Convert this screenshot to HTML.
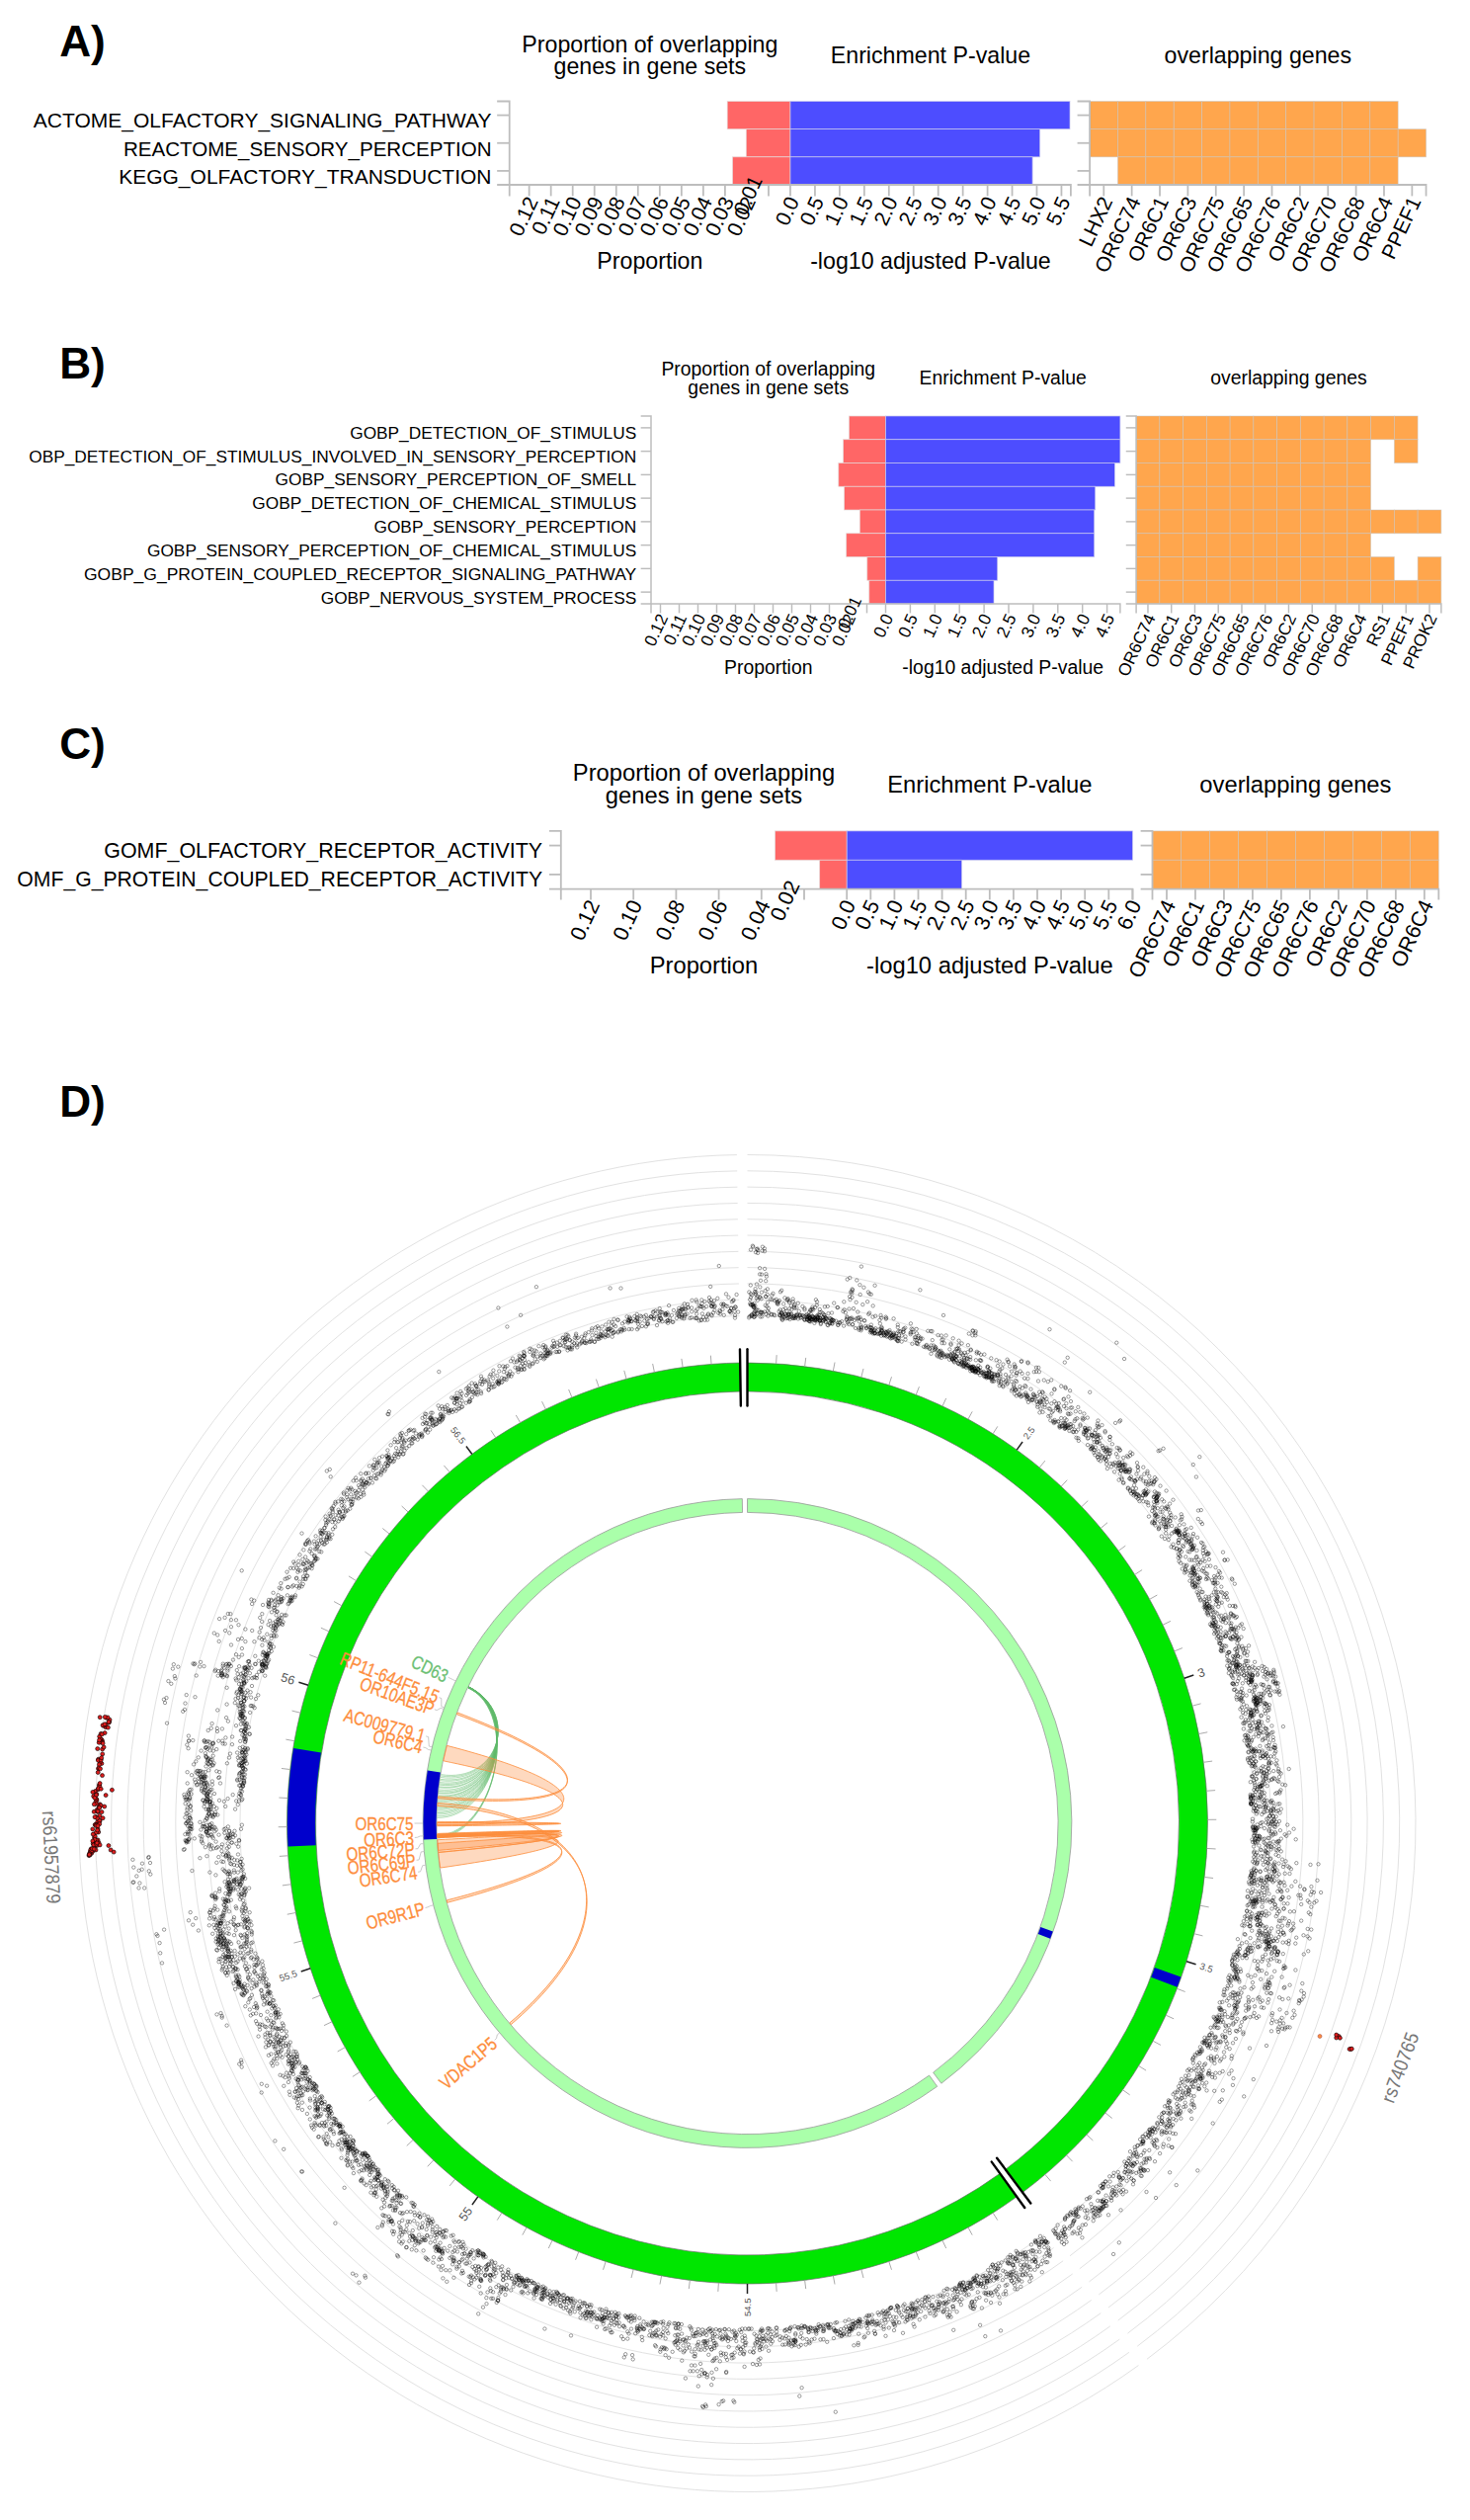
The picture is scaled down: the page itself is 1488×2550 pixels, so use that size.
<!DOCTYPE html>
<html><head><meta charset="utf-8"><title>Figure</title>
<style>
html,body{margin:0;padding:0;background:#fff}
svg{display:block}
text{font-family:"Liberation Sans",sans-serif}
</style></head><body>
<svg width="1488" height="2550" viewBox="0 0 1488 2550">
<rect width="1488" height="2550" fill="#fff"/>
<rect x="736.2" y="102.5" width="63.8" height="28.17" fill="#ff6666" stroke="#e6d6d6" stroke-width="0.7"/>
<rect x="800" y="102.5" width="283" height="28.17" fill="#4d4dff" stroke="#c6c6ee" stroke-width="0.7"/>
<rect x="755.3" y="130.67" width="44.7" height="28.17" fill="#ff6666" stroke="#e6d6d6" stroke-width="0.7"/>
<rect x="800" y="130.67" width="252.7" height="28.17" fill="#4d4dff" stroke="#c6c6ee" stroke-width="0.7"/>
<rect x="741.6" y="158.83" width="58.4" height="28.17" fill="#ff6666" stroke="#e6d6d6" stroke-width="0.7"/>
<rect x="800" y="158.83" width="245.1" height="28.17" fill="#4d4dff" stroke="#c6c6ee" stroke-width="0.7"/>
<rect x="1103.1" y="102.5" width="28.37" height="28.17" fill="#ffa64d" stroke="#c4c4c4" stroke-opacity="0.6" stroke-width="0.8"/>
<rect x="1131.47" y="102.5" width="28.37" height="28.17" fill="#ffa64d" stroke="#c4c4c4" stroke-opacity="0.6" stroke-width="0.8"/>
<rect x="1159.84" y="102.5" width="28.37" height="28.17" fill="#ffa64d" stroke="#c4c4c4" stroke-opacity="0.6" stroke-width="0.8"/>
<rect x="1188.21" y="102.5" width="28.37" height="28.17" fill="#ffa64d" stroke="#c4c4c4" stroke-opacity="0.6" stroke-width="0.8"/>
<rect x="1216.58" y="102.5" width="28.37" height="28.17" fill="#ffa64d" stroke="#c4c4c4" stroke-opacity="0.6" stroke-width="0.8"/>
<rect x="1244.95" y="102.5" width="28.37" height="28.17" fill="#ffa64d" stroke="#c4c4c4" stroke-opacity="0.6" stroke-width="0.8"/>
<rect x="1273.32" y="102.5" width="28.37" height="28.17" fill="#ffa64d" stroke="#c4c4c4" stroke-opacity="0.6" stroke-width="0.8"/>
<rect x="1301.69" y="102.5" width="28.37" height="28.17" fill="#ffa64d" stroke="#c4c4c4" stroke-opacity="0.6" stroke-width="0.8"/>
<rect x="1330.06" y="102.5" width="28.37" height="28.17" fill="#ffa64d" stroke="#c4c4c4" stroke-opacity="0.6" stroke-width="0.8"/>
<rect x="1358.43" y="102.5" width="28.37" height="28.17" fill="#ffa64d" stroke="#c4c4c4" stroke-opacity="0.6" stroke-width="0.8"/>
<rect x="1386.8" y="102.5" width="28.37" height="28.17" fill="#ffa64d" stroke="#c4c4c4" stroke-opacity="0.6" stroke-width="0.8"/>
<rect x="1103.1" y="130.67" width="28.37" height="28.17" fill="#ffa64d" stroke="#c4c4c4" stroke-opacity="0.6" stroke-width="0.8"/>
<rect x="1131.47" y="130.67" width="28.37" height="28.17" fill="#ffa64d" stroke="#c4c4c4" stroke-opacity="0.6" stroke-width="0.8"/>
<rect x="1159.84" y="130.67" width="28.37" height="28.17" fill="#ffa64d" stroke="#c4c4c4" stroke-opacity="0.6" stroke-width="0.8"/>
<rect x="1188.21" y="130.67" width="28.37" height="28.17" fill="#ffa64d" stroke="#c4c4c4" stroke-opacity="0.6" stroke-width="0.8"/>
<rect x="1216.58" y="130.67" width="28.37" height="28.17" fill="#ffa64d" stroke="#c4c4c4" stroke-opacity="0.6" stroke-width="0.8"/>
<rect x="1244.95" y="130.67" width="28.37" height="28.17" fill="#ffa64d" stroke="#c4c4c4" stroke-opacity="0.6" stroke-width="0.8"/>
<rect x="1273.32" y="130.67" width="28.37" height="28.17" fill="#ffa64d" stroke="#c4c4c4" stroke-opacity="0.6" stroke-width="0.8"/>
<rect x="1301.69" y="130.67" width="28.37" height="28.17" fill="#ffa64d" stroke="#c4c4c4" stroke-opacity="0.6" stroke-width="0.8"/>
<rect x="1330.06" y="130.67" width="28.37" height="28.17" fill="#ffa64d" stroke="#c4c4c4" stroke-opacity="0.6" stroke-width="0.8"/>
<rect x="1358.43" y="130.67" width="28.37" height="28.17" fill="#ffa64d" stroke="#c4c4c4" stroke-opacity="0.6" stroke-width="0.8"/>
<rect x="1386.8" y="130.67" width="28.37" height="28.17" fill="#ffa64d" stroke="#c4c4c4" stroke-opacity="0.6" stroke-width="0.8"/>
<rect x="1415.17" y="130.67" width="28.37" height="28.17" fill="#ffa64d" stroke="#c4c4c4" stroke-opacity="0.6" stroke-width="0.8"/>
<rect x="1131.47" y="158.83" width="28.37" height="28.17" fill="#ffa64d" stroke="#c4c4c4" stroke-opacity="0.6" stroke-width="0.8"/>
<rect x="1159.84" y="158.83" width="28.37" height="28.17" fill="#ffa64d" stroke="#c4c4c4" stroke-opacity="0.6" stroke-width="0.8"/>
<rect x="1188.21" y="158.83" width="28.37" height="28.17" fill="#ffa64d" stroke="#c4c4c4" stroke-opacity="0.6" stroke-width="0.8"/>
<rect x="1216.58" y="158.83" width="28.37" height="28.17" fill="#ffa64d" stroke="#c4c4c4" stroke-opacity="0.6" stroke-width="0.8"/>
<rect x="1244.95" y="158.83" width="28.37" height="28.17" fill="#ffa64d" stroke="#c4c4c4" stroke-opacity="0.6" stroke-width="0.8"/>
<rect x="1273.32" y="158.83" width="28.37" height="28.17" fill="#ffa64d" stroke="#c4c4c4" stroke-opacity="0.6" stroke-width="0.8"/>
<rect x="1301.69" y="158.83" width="28.37" height="28.17" fill="#ffa64d" stroke="#c4c4c4" stroke-opacity="0.6" stroke-width="0.8"/>
<rect x="1330.06" y="158.83" width="28.37" height="28.17" fill="#ffa64d" stroke="#c4c4c4" stroke-opacity="0.6" stroke-width="0.8"/>
<rect x="1358.43" y="158.83" width="28.37" height="28.17" fill="#ffa64d" stroke="#c4c4c4" stroke-opacity="0.6" stroke-width="0.8"/>
<rect x="1386.8" y="158.83" width="28.37" height="28.17" fill="#ffa64d" stroke="#c4c4c4" stroke-opacity="0.6" stroke-width="0.8"/>
<g fill="none" stroke="#bdbdbd" stroke-width="1.77">
<path d="M503.16 102.5H515.7V187H503.16"/>
<path d="M503.16 116.58H515.7"/>
<path d="M503.16 144.75H515.7"/>
<path d="M503.16 172.92H515.7"/>
<path d="M515.7 198.4V187H1083.9V198.4"/>
<path d="M535.64 187V198.4"/>
<path d="M557.67 187V198.4"/>
<path d="M579.7 187V198.4"/>
<path d="M601.73 187V198.4"/>
<path d="M623.76 187V198.4"/>
<path d="M645.79 187V198.4"/>
<path d="M667.82 187V198.4"/>
<path d="M689.85 187V198.4"/>
<path d="M711.88 187V198.4"/>
<path d="M733.91 187V198.4"/>
<path d="M777.97 187V198.4"/>
<path d="M800 187V198.4"/>
<path d="M824.95 187V198.4"/>
<path d="M849.9 187V198.4"/>
<path d="M874.85 187V198.4"/>
<path d="M899.8 187V198.4"/>
<path d="M924.75 187V198.4"/>
<path d="M949.7 187V198.4"/>
<path d="M974.65 187V198.4"/>
<path d="M999.6 187V198.4"/>
<path d="M1024.55 187V198.4"/>
<path d="M1049.5 187V198.4"/>
<path d="M1074.45 187V198.4"/>
<path d="M1090.56 102.5H1103.1V187H1090.56"/>
<path d="M1090.56 116.58H1103.1"/>
<path d="M1090.56 144.75H1103.1"/>
<path d="M1090.56 172.92H1103.1"/>
<path d="M1103.1 198.4V187H1443.54V198.4"/>
<path d="M1117.28 187V198.4"/>
<path d="M1145.65 187V198.4"/>
<path d="M1174.02 187V198.4"/>
<path d="M1202.39 187V198.4"/>
<path d="M1230.76 187V198.4"/>
<path d="M1259.13 187V198.4"/>
<path d="M1287.5 187V198.4"/>
<path d="M1315.88 187V198.4"/>
<path d="M1344.24 187V198.4"/>
<path d="M1372.61 187V198.4"/>
<path d="M1400.98 187V198.4"/>
<path d="M1429.36 187V198.4"/>
</g>
<text transform="translate(545.14,203.4) rotate(-65)" font-size="21" text-anchor="end">0.12</text>
<text transform="translate(567.17,203.4) rotate(-65)" font-size="21" text-anchor="end">0.11</text>
<text transform="translate(589.2,203.4) rotate(-65)" font-size="21" text-anchor="end">0.10</text>
<text transform="translate(611.23,203.4) rotate(-65)" font-size="21" text-anchor="end">0.09</text>
<text transform="translate(633.26,203.4) rotate(-65)" font-size="21" text-anchor="end">0.08</text>
<text transform="translate(655.29,203.4) rotate(-65)" font-size="21" text-anchor="end">0.07</text>
<text transform="translate(677.32,203.4) rotate(-65)" font-size="21" text-anchor="end">0.06</text>
<text transform="translate(699.35,203.4) rotate(-65)" font-size="21" text-anchor="end">0.05</text>
<text transform="translate(721.38,203.4) rotate(-65)" font-size="21" text-anchor="end">0.04</text>
<text transform="translate(743.41,203.4) rotate(-65)" font-size="21" text-anchor="end">0.03</text>
<text transform="translate(765.44,203.4) rotate(-65)" font-size="21" text-anchor="end">0.02</text>
<text transform="translate(772.27,182.2) rotate(-65)" font-size="21" text-anchor="end">0.01</text>
<text transform="translate(809.5,203.4) rotate(-65)" font-size="21" text-anchor="end">0.0</text>
<text transform="translate(834.45,203.4) rotate(-65)" font-size="21" text-anchor="end">0.5</text>
<text transform="translate(859.4,203.4) rotate(-65)" font-size="21" text-anchor="end">1.0</text>
<text transform="translate(884.35,203.4) rotate(-65)" font-size="21" text-anchor="end">1.5</text>
<text transform="translate(909.3,203.4) rotate(-65)" font-size="21" text-anchor="end">2.0</text>
<text transform="translate(934.25,203.4) rotate(-65)" font-size="21" text-anchor="end">2.5</text>
<text transform="translate(959.2,203.4) rotate(-65)" font-size="21" text-anchor="end">3.0</text>
<text transform="translate(984.15,203.4) rotate(-65)" font-size="21" text-anchor="end">3.5</text>
<text transform="translate(1009.1,203.4) rotate(-65)" font-size="21" text-anchor="end">4.0</text>
<text transform="translate(1034.05,203.4) rotate(-65)" font-size="21" text-anchor="end">4.5</text>
<text transform="translate(1059,203.4) rotate(-65)" font-size="21" text-anchor="end">5.0</text>
<text transform="translate(1083.95,203.4) rotate(-65)" font-size="21" text-anchor="end">5.5</text>
<text transform="translate(1126.78,203.4) rotate(-65)" font-size="21" text-anchor="end">LHX2</text>
<text transform="translate(1155.15,203.4) rotate(-65)" font-size="21" text-anchor="end">OR6C74</text>
<text transform="translate(1183.52,203.4) rotate(-65)" font-size="21" text-anchor="end">OR6C1</text>
<text transform="translate(1211.89,203.4) rotate(-65)" font-size="21" text-anchor="end">OR6C3</text>
<text transform="translate(1240.26,203.4) rotate(-65)" font-size="21" text-anchor="end">OR6C75</text>
<text transform="translate(1268.63,203.4) rotate(-65)" font-size="21" text-anchor="end">OR6C65</text>
<text transform="translate(1297,203.4) rotate(-65)" font-size="21" text-anchor="end">OR6C76</text>
<text transform="translate(1325.38,203.4) rotate(-65)" font-size="21" text-anchor="end">OR6C2</text>
<text transform="translate(1353.74,203.4) rotate(-65)" font-size="21" text-anchor="end">OR6C70</text>
<text transform="translate(1382.11,203.4) rotate(-65)" font-size="21" text-anchor="end">OR6C68</text>
<text transform="translate(1410.48,203.4) rotate(-65)" font-size="21" text-anchor="end">OR6C4</text>
<text transform="translate(1438.86,203.4) rotate(-65)" font-size="21" text-anchor="end">PPEF1</text>
<text x="497.5" y="129.2" font-size="21" text-anchor="end">ACTOME_OLFACTORY_SIGNALING_PATHWAY</text>
<text x="497.5" y="157.5" font-size="21" text-anchor="end" textLength="372.5" lengthAdjust="spacingAndGlyphs">REACTOME_SENSORY_PERCEPTION</text>
<text x="497.5" y="185.8" font-size="21" text-anchor="end">KEGG_OLFACTORY_TRANSDUCTION</text>
<text x="657.85" y="53" font-size="23.2" text-anchor="middle">Proportion of overlapping</text>
<text x="657.85" y="75" font-size="23.2" text-anchor="middle">genes in gene sets</text>
<text x="941.95" y="63.8" font-size="23.2" text-anchor="middle">Enrichment P-value</text>
<text x="1273.32" y="63.8" font-size="23.2" text-anchor="middle">overlapping genes</text>
<text x="657.85" y="272" font-size="23.2" text-anchor="middle">Proportion</text>
<text x="941.95" y="272" font-size="23.2" text-anchor="middle">-log10 adjusted P-value</text>
<rect x="859.4" y="421" width="37.1" height="23.75" fill="#ff6666" stroke="#e6d6d6" stroke-width="0.7"/>
<rect x="896.5" y="421" width="237.4" height="23.75" fill="#4d4dff" stroke="#c6c6ee" stroke-width="0.7"/>
<rect x="853.6" y="444.75" width="42.9" height="23.75" fill="#ff6666" stroke="#e6d6d6" stroke-width="0.7"/>
<rect x="896.5" y="444.75" width="237.4" height="23.75" fill="#4d4dff" stroke="#c6c6ee" stroke-width="0.7"/>
<rect x="848.8" y="468.5" width="47.7" height="23.75" fill="#ff6666" stroke="#e6d6d6" stroke-width="0.7"/>
<rect x="896.5" y="468.5" width="231.9" height="23.75" fill="#4d4dff" stroke="#c6c6ee" stroke-width="0.7"/>
<rect x="854.6" y="492.25" width="41.9" height="23.75" fill="#ff6666" stroke="#e6d6d6" stroke-width="0.7"/>
<rect x="896.5" y="492.25" width="212.2" height="23.75" fill="#4d4dff" stroke="#c6c6ee" stroke-width="0.7"/>
<rect x="870.3" y="516" width="26.2" height="23.75" fill="#ff6666" stroke="#e6d6d6" stroke-width="0.7"/>
<rect x="896.5" y="516" width="211.2" height="23.75" fill="#4d4dff" stroke="#c6c6ee" stroke-width="0.7"/>
<rect x="856.7" y="539.75" width="39.8" height="23.75" fill="#ff6666" stroke="#e6d6d6" stroke-width="0.7"/>
<rect x="896.5" y="539.75" width="211.2" height="23.75" fill="#4d4dff" stroke="#c6c6ee" stroke-width="0.7"/>
<rect x="877.8" y="563.5" width="18.7" height="23.75" fill="#ff6666" stroke="#e6d6d6" stroke-width="0.7"/>
<rect x="896.5" y="563.5" width="113.2" height="23.75" fill="#4d4dff" stroke="#c6c6ee" stroke-width="0.7"/>
<rect x="879.8" y="587.25" width="16.7" height="23.75" fill="#ff6666" stroke="#e6d6d6" stroke-width="0.7"/>
<rect x="896.5" y="587.25" width="109.5" height="23.75" fill="#4d4dff" stroke="#c6c6ee" stroke-width="0.7"/>
<rect x="1150.1" y="421" width="23.75" height="23.75" fill="#ffa64d" stroke="#c4c4c4" stroke-opacity="0.6" stroke-width="0.8"/>
<rect x="1173.85" y="421" width="23.75" height="23.75" fill="#ffa64d" stroke="#c4c4c4" stroke-opacity="0.6" stroke-width="0.8"/>
<rect x="1197.6" y="421" width="23.75" height="23.75" fill="#ffa64d" stroke="#c4c4c4" stroke-opacity="0.6" stroke-width="0.8"/>
<rect x="1221.35" y="421" width="23.75" height="23.75" fill="#ffa64d" stroke="#c4c4c4" stroke-opacity="0.6" stroke-width="0.8"/>
<rect x="1245.1" y="421" width="23.75" height="23.75" fill="#ffa64d" stroke="#c4c4c4" stroke-opacity="0.6" stroke-width="0.8"/>
<rect x="1268.85" y="421" width="23.75" height="23.75" fill="#ffa64d" stroke="#c4c4c4" stroke-opacity="0.6" stroke-width="0.8"/>
<rect x="1292.6" y="421" width="23.75" height="23.75" fill="#ffa64d" stroke="#c4c4c4" stroke-opacity="0.6" stroke-width="0.8"/>
<rect x="1316.35" y="421" width="23.75" height="23.75" fill="#ffa64d" stroke="#c4c4c4" stroke-opacity="0.6" stroke-width="0.8"/>
<rect x="1340.1" y="421" width="23.75" height="23.75" fill="#ffa64d" stroke="#c4c4c4" stroke-opacity="0.6" stroke-width="0.8"/>
<rect x="1363.85" y="421" width="23.75" height="23.75" fill="#ffa64d" stroke="#c4c4c4" stroke-opacity="0.6" stroke-width="0.8"/>
<rect x="1387.6" y="421" width="23.75" height="23.75" fill="#ffa64d" stroke="#c4c4c4" stroke-opacity="0.6" stroke-width="0.8"/>
<rect x="1411.35" y="421" width="23.75" height="23.75" fill="#ffa64d" stroke="#c4c4c4" stroke-opacity="0.6" stroke-width="0.8"/>
<rect x="1150.1" y="444.75" width="23.75" height="23.75" fill="#ffa64d" stroke="#c4c4c4" stroke-opacity="0.6" stroke-width="0.8"/>
<rect x="1173.85" y="444.75" width="23.75" height="23.75" fill="#ffa64d" stroke="#c4c4c4" stroke-opacity="0.6" stroke-width="0.8"/>
<rect x="1197.6" y="444.75" width="23.75" height="23.75" fill="#ffa64d" stroke="#c4c4c4" stroke-opacity="0.6" stroke-width="0.8"/>
<rect x="1221.35" y="444.75" width="23.75" height="23.75" fill="#ffa64d" stroke="#c4c4c4" stroke-opacity="0.6" stroke-width="0.8"/>
<rect x="1245.1" y="444.75" width="23.75" height="23.75" fill="#ffa64d" stroke="#c4c4c4" stroke-opacity="0.6" stroke-width="0.8"/>
<rect x="1268.85" y="444.75" width="23.75" height="23.75" fill="#ffa64d" stroke="#c4c4c4" stroke-opacity="0.6" stroke-width="0.8"/>
<rect x="1292.6" y="444.75" width="23.75" height="23.75" fill="#ffa64d" stroke="#c4c4c4" stroke-opacity="0.6" stroke-width="0.8"/>
<rect x="1316.35" y="444.75" width="23.75" height="23.75" fill="#ffa64d" stroke="#c4c4c4" stroke-opacity="0.6" stroke-width="0.8"/>
<rect x="1340.1" y="444.75" width="23.75" height="23.75" fill="#ffa64d" stroke="#c4c4c4" stroke-opacity="0.6" stroke-width="0.8"/>
<rect x="1363.85" y="444.75" width="23.75" height="23.75" fill="#ffa64d" stroke="#c4c4c4" stroke-opacity="0.6" stroke-width="0.8"/>
<rect x="1411.35" y="444.75" width="23.75" height="23.75" fill="#ffa64d" stroke="#c4c4c4" stroke-opacity="0.6" stroke-width="0.8"/>
<rect x="1150.1" y="468.5" width="23.75" height="23.75" fill="#ffa64d" stroke="#c4c4c4" stroke-opacity="0.6" stroke-width="0.8"/>
<rect x="1173.85" y="468.5" width="23.75" height="23.75" fill="#ffa64d" stroke="#c4c4c4" stroke-opacity="0.6" stroke-width="0.8"/>
<rect x="1197.6" y="468.5" width="23.75" height="23.75" fill="#ffa64d" stroke="#c4c4c4" stroke-opacity="0.6" stroke-width="0.8"/>
<rect x="1221.35" y="468.5" width="23.75" height="23.75" fill="#ffa64d" stroke="#c4c4c4" stroke-opacity="0.6" stroke-width="0.8"/>
<rect x="1245.1" y="468.5" width="23.75" height="23.75" fill="#ffa64d" stroke="#c4c4c4" stroke-opacity="0.6" stroke-width="0.8"/>
<rect x="1268.85" y="468.5" width="23.75" height="23.75" fill="#ffa64d" stroke="#c4c4c4" stroke-opacity="0.6" stroke-width="0.8"/>
<rect x="1292.6" y="468.5" width="23.75" height="23.75" fill="#ffa64d" stroke="#c4c4c4" stroke-opacity="0.6" stroke-width="0.8"/>
<rect x="1316.35" y="468.5" width="23.75" height="23.75" fill="#ffa64d" stroke="#c4c4c4" stroke-opacity="0.6" stroke-width="0.8"/>
<rect x="1340.1" y="468.5" width="23.75" height="23.75" fill="#ffa64d" stroke="#c4c4c4" stroke-opacity="0.6" stroke-width="0.8"/>
<rect x="1363.85" y="468.5" width="23.75" height="23.75" fill="#ffa64d" stroke="#c4c4c4" stroke-opacity="0.6" stroke-width="0.8"/>
<rect x="1150.1" y="492.25" width="23.75" height="23.75" fill="#ffa64d" stroke="#c4c4c4" stroke-opacity="0.6" stroke-width="0.8"/>
<rect x="1173.85" y="492.25" width="23.75" height="23.75" fill="#ffa64d" stroke="#c4c4c4" stroke-opacity="0.6" stroke-width="0.8"/>
<rect x="1197.6" y="492.25" width="23.75" height="23.75" fill="#ffa64d" stroke="#c4c4c4" stroke-opacity="0.6" stroke-width="0.8"/>
<rect x="1221.35" y="492.25" width="23.75" height="23.75" fill="#ffa64d" stroke="#c4c4c4" stroke-opacity="0.6" stroke-width="0.8"/>
<rect x="1245.1" y="492.25" width="23.75" height="23.75" fill="#ffa64d" stroke="#c4c4c4" stroke-opacity="0.6" stroke-width="0.8"/>
<rect x="1268.85" y="492.25" width="23.75" height="23.75" fill="#ffa64d" stroke="#c4c4c4" stroke-opacity="0.6" stroke-width="0.8"/>
<rect x="1292.6" y="492.25" width="23.75" height="23.75" fill="#ffa64d" stroke="#c4c4c4" stroke-opacity="0.6" stroke-width="0.8"/>
<rect x="1316.35" y="492.25" width="23.75" height="23.75" fill="#ffa64d" stroke="#c4c4c4" stroke-opacity="0.6" stroke-width="0.8"/>
<rect x="1340.1" y="492.25" width="23.75" height="23.75" fill="#ffa64d" stroke="#c4c4c4" stroke-opacity="0.6" stroke-width="0.8"/>
<rect x="1363.85" y="492.25" width="23.75" height="23.75" fill="#ffa64d" stroke="#c4c4c4" stroke-opacity="0.6" stroke-width="0.8"/>
<rect x="1150.1" y="516" width="23.75" height="23.75" fill="#ffa64d" stroke="#c4c4c4" stroke-opacity="0.6" stroke-width="0.8"/>
<rect x="1173.85" y="516" width="23.75" height="23.75" fill="#ffa64d" stroke="#c4c4c4" stroke-opacity="0.6" stroke-width="0.8"/>
<rect x="1197.6" y="516" width="23.75" height="23.75" fill="#ffa64d" stroke="#c4c4c4" stroke-opacity="0.6" stroke-width="0.8"/>
<rect x="1221.35" y="516" width="23.75" height="23.75" fill="#ffa64d" stroke="#c4c4c4" stroke-opacity="0.6" stroke-width="0.8"/>
<rect x="1245.1" y="516" width="23.75" height="23.75" fill="#ffa64d" stroke="#c4c4c4" stroke-opacity="0.6" stroke-width="0.8"/>
<rect x="1268.85" y="516" width="23.75" height="23.75" fill="#ffa64d" stroke="#c4c4c4" stroke-opacity="0.6" stroke-width="0.8"/>
<rect x="1292.6" y="516" width="23.75" height="23.75" fill="#ffa64d" stroke="#c4c4c4" stroke-opacity="0.6" stroke-width="0.8"/>
<rect x="1316.35" y="516" width="23.75" height="23.75" fill="#ffa64d" stroke="#c4c4c4" stroke-opacity="0.6" stroke-width="0.8"/>
<rect x="1340.1" y="516" width="23.75" height="23.75" fill="#ffa64d" stroke="#c4c4c4" stroke-opacity="0.6" stroke-width="0.8"/>
<rect x="1363.85" y="516" width="23.75" height="23.75" fill="#ffa64d" stroke="#c4c4c4" stroke-opacity="0.6" stroke-width="0.8"/>
<rect x="1387.6" y="516" width="23.75" height="23.75" fill="#ffa64d" stroke="#c4c4c4" stroke-opacity="0.6" stroke-width="0.8"/>
<rect x="1411.35" y="516" width="23.75" height="23.75" fill="#ffa64d" stroke="#c4c4c4" stroke-opacity="0.6" stroke-width="0.8"/>
<rect x="1435.1" y="516" width="23.75" height="23.75" fill="#ffa64d" stroke="#c4c4c4" stroke-opacity="0.6" stroke-width="0.8"/>
<rect x="1150.1" y="539.75" width="23.75" height="23.75" fill="#ffa64d" stroke="#c4c4c4" stroke-opacity="0.6" stroke-width="0.8"/>
<rect x="1173.85" y="539.75" width="23.75" height="23.75" fill="#ffa64d" stroke="#c4c4c4" stroke-opacity="0.6" stroke-width="0.8"/>
<rect x="1197.6" y="539.75" width="23.75" height="23.75" fill="#ffa64d" stroke="#c4c4c4" stroke-opacity="0.6" stroke-width="0.8"/>
<rect x="1221.35" y="539.75" width="23.75" height="23.75" fill="#ffa64d" stroke="#c4c4c4" stroke-opacity="0.6" stroke-width="0.8"/>
<rect x="1245.1" y="539.75" width="23.75" height="23.75" fill="#ffa64d" stroke="#c4c4c4" stroke-opacity="0.6" stroke-width="0.8"/>
<rect x="1268.85" y="539.75" width="23.75" height="23.75" fill="#ffa64d" stroke="#c4c4c4" stroke-opacity="0.6" stroke-width="0.8"/>
<rect x="1292.6" y="539.75" width="23.75" height="23.75" fill="#ffa64d" stroke="#c4c4c4" stroke-opacity="0.6" stroke-width="0.8"/>
<rect x="1316.35" y="539.75" width="23.75" height="23.75" fill="#ffa64d" stroke="#c4c4c4" stroke-opacity="0.6" stroke-width="0.8"/>
<rect x="1340.1" y="539.75" width="23.75" height="23.75" fill="#ffa64d" stroke="#c4c4c4" stroke-opacity="0.6" stroke-width="0.8"/>
<rect x="1363.85" y="539.75" width="23.75" height="23.75" fill="#ffa64d" stroke="#c4c4c4" stroke-opacity="0.6" stroke-width="0.8"/>
<rect x="1150.1" y="563.5" width="23.75" height="23.75" fill="#ffa64d" stroke="#c4c4c4" stroke-opacity="0.6" stroke-width="0.8"/>
<rect x="1173.85" y="563.5" width="23.75" height="23.75" fill="#ffa64d" stroke="#c4c4c4" stroke-opacity="0.6" stroke-width="0.8"/>
<rect x="1197.6" y="563.5" width="23.75" height="23.75" fill="#ffa64d" stroke="#c4c4c4" stroke-opacity="0.6" stroke-width="0.8"/>
<rect x="1221.35" y="563.5" width="23.75" height="23.75" fill="#ffa64d" stroke="#c4c4c4" stroke-opacity="0.6" stroke-width="0.8"/>
<rect x="1245.1" y="563.5" width="23.75" height="23.75" fill="#ffa64d" stroke="#c4c4c4" stroke-opacity="0.6" stroke-width="0.8"/>
<rect x="1268.85" y="563.5" width="23.75" height="23.75" fill="#ffa64d" stroke="#c4c4c4" stroke-opacity="0.6" stroke-width="0.8"/>
<rect x="1292.6" y="563.5" width="23.75" height="23.75" fill="#ffa64d" stroke="#c4c4c4" stroke-opacity="0.6" stroke-width="0.8"/>
<rect x="1316.35" y="563.5" width="23.75" height="23.75" fill="#ffa64d" stroke="#c4c4c4" stroke-opacity="0.6" stroke-width="0.8"/>
<rect x="1340.1" y="563.5" width="23.75" height="23.75" fill="#ffa64d" stroke="#c4c4c4" stroke-opacity="0.6" stroke-width="0.8"/>
<rect x="1363.85" y="563.5" width="23.75" height="23.75" fill="#ffa64d" stroke="#c4c4c4" stroke-opacity="0.6" stroke-width="0.8"/>
<rect x="1387.6" y="563.5" width="23.75" height="23.75" fill="#ffa64d" stroke="#c4c4c4" stroke-opacity="0.6" stroke-width="0.8"/>
<rect x="1435.1" y="563.5" width="23.75" height="23.75" fill="#ffa64d" stroke="#c4c4c4" stroke-opacity="0.6" stroke-width="0.8"/>
<rect x="1150.1" y="587.25" width="23.75" height="23.75" fill="#ffa64d" stroke="#c4c4c4" stroke-opacity="0.6" stroke-width="0.8"/>
<rect x="1173.85" y="587.25" width="23.75" height="23.75" fill="#ffa64d" stroke="#c4c4c4" stroke-opacity="0.6" stroke-width="0.8"/>
<rect x="1197.6" y="587.25" width="23.75" height="23.75" fill="#ffa64d" stroke="#c4c4c4" stroke-opacity="0.6" stroke-width="0.8"/>
<rect x="1221.35" y="587.25" width="23.75" height="23.75" fill="#ffa64d" stroke="#c4c4c4" stroke-opacity="0.6" stroke-width="0.8"/>
<rect x="1245.1" y="587.25" width="23.75" height="23.75" fill="#ffa64d" stroke="#c4c4c4" stroke-opacity="0.6" stroke-width="0.8"/>
<rect x="1268.85" y="587.25" width="23.75" height="23.75" fill="#ffa64d" stroke="#c4c4c4" stroke-opacity="0.6" stroke-width="0.8"/>
<rect x="1292.6" y="587.25" width="23.75" height="23.75" fill="#ffa64d" stroke="#c4c4c4" stroke-opacity="0.6" stroke-width="0.8"/>
<rect x="1316.35" y="587.25" width="23.75" height="23.75" fill="#ffa64d" stroke="#c4c4c4" stroke-opacity="0.6" stroke-width="0.8"/>
<rect x="1340.1" y="587.25" width="23.75" height="23.75" fill="#ffa64d" stroke="#c4c4c4" stroke-opacity="0.6" stroke-width="0.8"/>
<rect x="1363.85" y="587.25" width="23.75" height="23.75" fill="#ffa64d" stroke="#c4c4c4" stroke-opacity="0.6" stroke-width="0.8"/>
<rect x="1387.6" y="587.25" width="23.75" height="23.75" fill="#ffa64d" stroke="#c4c4c4" stroke-opacity="0.6" stroke-width="0.8"/>
<rect x="1411.35" y="587.25" width="23.75" height="23.75" fill="#ffa64d" stroke="#c4c4c4" stroke-opacity="0.6" stroke-width="0.8"/>
<rect x="1435.1" y="587.25" width="23.75" height="23.75" fill="#ffa64d" stroke="#c4c4c4" stroke-opacity="0.6" stroke-width="0.8"/>
<g fill="none" stroke="#bdbdbd" stroke-width="1.47">
<path d="M648.66 421H659V611H648.66"/>
<path d="M648.66 432.88H659"/>
<path d="M648.66 456.62H659"/>
<path d="M648.66 480.38H659"/>
<path d="M648.66 504.12H659"/>
<path d="M648.66 527.88H659"/>
<path d="M648.66 551.62H659"/>
<path d="M648.66 575.38H659"/>
<path d="M648.66 599.12H659"/>
<path d="M659 620.4V611H1133.9V620.4"/>
<path d="M668.5 611V620.4"/>
<path d="M687.5 611V620.4"/>
<path d="M706.5 611V620.4"/>
<path d="M725.5 611V620.4"/>
<path d="M744.5 611V620.4"/>
<path d="M763.5 611V620.4"/>
<path d="M782.5 611V620.4"/>
<path d="M801.5 611V620.4"/>
<path d="M820.5 611V620.4"/>
<path d="M839.5 611V620.4"/>
<path d="M877.5 611V620.4"/>
<path d="M896.5 611V620.4"/>
<path d="M921.4 611V620.4"/>
<path d="M946.3 611V620.4"/>
<path d="M971.2 611V620.4"/>
<path d="M996.1 611V620.4"/>
<path d="M1021 611V620.4"/>
<path d="M1045.9 611V620.4"/>
<path d="M1070.8 611V620.4"/>
<path d="M1095.7 611V620.4"/>
<path d="M1120.6 611V620.4"/>
<path d="M1139.76 421H1150.1V611H1139.76"/>
<path d="M1139.76 432.88H1150.1"/>
<path d="M1139.76 456.62H1150.1"/>
<path d="M1139.76 480.38H1150.1"/>
<path d="M1139.76 504.12H1150.1"/>
<path d="M1139.76 527.88H1150.1"/>
<path d="M1139.76 551.62H1150.1"/>
<path d="M1139.76 575.38H1150.1"/>
<path d="M1139.76 599.12H1150.1"/>
<path d="M1150.1 620.4V611H1458.85V620.4"/>
<path d="M1161.97 611V620.4"/>
<path d="M1185.72 611V620.4"/>
<path d="M1209.47 611V620.4"/>
<path d="M1233.22 611V620.4"/>
<path d="M1256.97 611V620.4"/>
<path d="M1280.72 611V620.4"/>
<path d="M1304.47 611V620.4"/>
<path d="M1328.22 611V620.4"/>
<path d="M1351.97 611V620.4"/>
<path d="M1375.72 611V620.4"/>
<path d="M1399.47 611V620.4"/>
<path d="M1423.22 611V620.4"/>
<path d="M1446.97 611V620.4"/>
</g>
<text transform="translate(676.5,624.8) rotate(-65)" font-size="17.3" text-anchor="end">0.12</text>
<text transform="translate(695.5,624.8) rotate(-65)" font-size="17.3" text-anchor="end">0.11</text>
<text transform="translate(714.5,624.8) rotate(-65)" font-size="17.3" text-anchor="end">0.10</text>
<text transform="translate(733.5,624.8) rotate(-65)" font-size="17.3" text-anchor="end">0.09</text>
<text transform="translate(752.5,624.8) rotate(-65)" font-size="17.3" text-anchor="end">0.08</text>
<text transform="translate(771.5,624.8) rotate(-65)" font-size="17.3" text-anchor="end">0.07</text>
<text transform="translate(790.5,624.8) rotate(-65)" font-size="17.3" text-anchor="end">0.06</text>
<text transform="translate(809.5,624.8) rotate(-65)" font-size="17.3" text-anchor="end">0.05</text>
<text transform="translate(828.5,624.8) rotate(-65)" font-size="17.3" text-anchor="end">0.04</text>
<text transform="translate(847.5,624.8) rotate(-65)" font-size="17.3" text-anchor="end">0.03</text>
<text transform="translate(866.5,624.8) rotate(-65)" font-size="17.3" text-anchor="end">0.02</text>
<text transform="translate(872.5,607.1) rotate(-65)" font-size="17.3" text-anchor="end">0.01</text>
<text transform="translate(904.5,624.8) rotate(-65)" font-size="17.3" text-anchor="end">0.0</text>
<text transform="translate(929.4,624.8) rotate(-65)" font-size="17.3" text-anchor="end">0.5</text>
<text transform="translate(954.3,624.8) rotate(-65)" font-size="17.3" text-anchor="end">1.0</text>
<text transform="translate(979.2,624.8) rotate(-65)" font-size="17.3" text-anchor="end">1.5</text>
<text transform="translate(1004.1,624.8) rotate(-65)" font-size="17.3" text-anchor="end">2.0</text>
<text transform="translate(1029,624.8) rotate(-65)" font-size="17.3" text-anchor="end">2.5</text>
<text transform="translate(1053.9,624.8) rotate(-65)" font-size="17.3" text-anchor="end">3.0</text>
<text transform="translate(1078.8,624.8) rotate(-65)" font-size="17.3" text-anchor="end">3.5</text>
<text transform="translate(1103.7,624.8) rotate(-65)" font-size="17.3" text-anchor="end">4.0</text>
<text transform="translate(1128.6,624.8) rotate(-65)" font-size="17.3" text-anchor="end">4.5</text>
<text transform="translate(1169.97,624.8) rotate(-65)" font-size="17.3" text-anchor="end">OR6C74</text>
<text transform="translate(1193.72,624.8) rotate(-65)" font-size="17.3" text-anchor="end">OR6C1</text>
<text transform="translate(1217.47,624.8) rotate(-65)" font-size="17.3" text-anchor="end">OR6C3</text>
<text transform="translate(1241.22,624.8) rotate(-65)" font-size="17.3" text-anchor="end">OR6C75</text>
<text transform="translate(1264.97,624.8) rotate(-65)" font-size="17.3" text-anchor="end">OR6C65</text>
<text transform="translate(1288.72,624.8) rotate(-65)" font-size="17.3" text-anchor="end">OR6C76</text>
<text transform="translate(1312.47,624.8) rotate(-65)" font-size="17.3" text-anchor="end">OR6C2</text>
<text transform="translate(1336.22,624.8) rotate(-65)" font-size="17.3" text-anchor="end">OR6C70</text>
<text transform="translate(1359.97,624.8) rotate(-65)" font-size="17.3" text-anchor="end">OR6C68</text>
<text transform="translate(1383.72,624.8) rotate(-65)" font-size="17.3" text-anchor="end">OR6C4</text>
<text transform="translate(1407.47,624.8) rotate(-65)" font-size="17.3" text-anchor="end">RS1</text>
<text transform="translate(1431.22,624.8) rotate(-65)" font-size="17.3" text-anchor="end">PPEF1</text>
<text transform="translate(1454.97,624.8) rotate(-65)" font-size="17.3" text-anchor="end">PROK2</text>
<text x="644.2" y="443.7" font-size="17.3" text-anchor="end">GOBP_DETECTION_OF_STIMULUS</text>
<text x="644.2" y="467.56" font-size="17.3" text-anchor="end">OBP_DETECTION_OF_STIMULUS_INVOLVED_IN_SENSORY_PERCEPTION</text>
<text x="644.2" y="491.42" font-size="17.3" text-anchor="end">GOBP_SENSORY_PERCEPTION_OF_SMELL</text>
<text x="644.2" y="515.28" font-size="17.3" text-anchor="end">GOBP_DETECTION_OF_CHEMICAL_STIMULUS</text>
<text x="644.2" y="539.14" font-size="17.3" text-anchor="end">GOBP_SENSORY_PERCEPTION</text>
<text x="644.2" y="563" font-size="17.3" text-anchor="end">GOBP_SENSORY_PERCEPTION_OF_CHEMICAL_STIMULUS</text>
<text x="644.2" y="586.86" font-size="17.3" text-anchor="end" textLength="559.2" lengthAdjust="spacingAndGlyphs">GOBP_G_PROTEIN_COUPLED_RECEPTOR_SIGNALING_PATHWAY</text>
<text x="644.2" y="610.72" font-size="17.3" text-anchor="end">GOBP_NERVOUS_SYSTEM_PROCESS</text>
<text x="777.75" y="380.1" font-size="19.4" text-anchor="middle">Proportion of overlapping</text>
<text x="777.75" y="398.5" font-size="19.4" text-anchor="middle">genes in gene sets</text>
<text x="1015.2" y="389" font-size="19.4" text-anchor="middle">Enrichment P-value</text>
<text x="1304.47" y="389" font-size="19.4" text-anchor="middle">overlapping genes</text>
<text x="777.75" y="681.8" font-size="19.4" text-anchor="middle">Proportion</text>
<text x="1015.2" y="681.8" font-size="19.4" text-anchor="middle">-log10 adjusted P-value</text>
<rect x="784.6" y="840.9" width="72.6" height="29.35" fill="#ff6666" stroke="#e6d6d6" stroke-width="0.7"/>
<rect x="857.2" y="840.9" width="289.3" height="29.35" fill="#4d4dff" stroke="#c6c6ee" stroke-width="0.7"/>
<rect x="829.7" y="870.25" width="27.5" height="29.35" fill="#ff6666" stroke="#e6d6d6" stroke-width="0.7"/>
<rect x="857.2" y="870.25" width="116.4" height="29.35" fill="#4d4dff" stroke="#c6c6ee" stroke-width="0.7"/>
<rect x="1166.5" y="840.9" width="28.98" height="29.35" fill="#ffa64d" stroke="#c4c4c4" stroke-opacity="0.6" stroke-width="0.8"/>
<rect x="1195.48" y="840.9" width="28.98" height="29.35" fill="#ffa64d" stroke="#c4c4c4" stroke-opacity="0.6" stroke-width="0.8"/>
<rect x="1224.46" y="840.9" width="28.98" height="29.35" fill="#ffa64d" stroke="#c4c4c4" stroke-opacity="0.6" stroke-width="0.8"/>
<rect x="1253.44" y="840.9" width="28.98" height="29.35" fill="#ffa64d" stroke="#c4c4c4" stroke-opacity="0.6" stroke-width="0.8"/>
<rect x="1282.42" y="840.9" width="28.98" height="29.35" fill="#ffa64d" stroke="#c4c4c4" stroke-opacity="0.6" stroke-width="0.8"/>
<rect x="1311.4" y="840.9" width="28.98" height="29.35" fill="#ffa64d" stroke="#c4c4c4" stroke-opacity="0.6" stroke-width="0.8"/>
<rect x="1340.38" y="840.9" width="28.98" height="29.35" fill="#ffa64d" stroke="#c4c4c4" stroke-opacity="0.6" stroke-width="0.8"/>
<rect x="1369.36" y="840.9" width="28.98" height="29.35" fill="#ffa64d" stroke="#c4c4c4" stroke-opacity="0.6" stroke-width="0.8"/>
<rect x="1398.34" y="840.9" width="28.98" height="29.35" fill="#ffa64d" stroke="#c4c4c4" stroke-opacity="0.6" stroke-width="0.8"/>
<rect x="1427.32" y="840.9" width="28.98" height="29.35" fill="#ffa64d" stroke="#c4c4c4" stroke-opacity="0.6" stroke-width="0.8"/>
<rect x="1166.5" y="870.25" width="28.98" height="29.35" fill="#ffa64d" stroke="#c4c4c4" stroke-opacity="0.6" stroke-width="0.8"/>
<rect x="1195.48" y="870.25" width="28.98" height="29.35" fill="#ffa64d" stroke="#c4c4c4" stroke-opacity="0.6" stroke-width="0.8"/>
<rect x="1224.46" y="870.25" width="28.98" height="29.35" fill="#ffa64d" stroke="#c4c4c4" stroke-opacity="0.6" stroke-width="0.8"/>
<rect x="1253.44" y="870.25" width="28.98" height="29.35" fill="#ffa64d" stroke="#c4c4c4" stroke-opacity="0.6" stroke-width="0.8"/>
<rect x="1282.42" y="870.25" width="28.98" height="29.35" fill="#ffa64d" stroke="#c4c4c4" stroke-opacity="0.6" stroke-width="0.8"/>
<rect x="1311.4" y="870.25" width="28.98" height="29.35" fill="#ffa64d" stroke="#c4c4c4" stroke-opacity="0.6" stroke-width="0.8"/>
<rect x="1340.38" y="870.25" width="28.98" height="29.35" fill="#ffa64d" stroke="#c4c4c4" stroke-opacity="0.6" stroke-width="0.8"/>
<rect x="1369.36" y="870.25" width="28.98" height="29.35" fill="#ffa64d" stroke="#c4c4c4" stroke-opacity="0.6" stroke-width="0.8"/>
<rect x="1398.34" y="870.25" width="28.98" height="29.35" fill="#ffa64d" stroke="#c4c4c4" stroke-opacity="0.6" stroke-width="0.8"/>
<rect x="1427.32" y="870.25" width="28.98" height="29.35" fill="#ffa64d" stroke="#c4c4c4" stroke-opacity="0.6" stroke-width="0.8"/>
<g fill="none" stroke="#bdbdbd" stroke-width="1.8">
<path d="M555.92 840.9H567.8V899.6H555.92"/>
<path d="M555.92 855.58H567.8"/>
<path d="M555.92 884.92H567.8"/>
<path d="M567.8 910.4V899.6H1146.5V910.4"/>
<path d="M598 899.6V910.4"/>
<path d="M641.2 899.6V910.4"/>
<path d="M684.4 899.6V910.4"/>
<path d="M727.6 899.6V910.4"/>
<path d="M770.8 899.6V910.4"/>
<path d="M814 899.6V910.4"/>
<path d="M857.2 899.6V910.4"/>
<path d="M881.3 899.6V910.4"/>
<path d="M905.4 899.6V910.4"/>
<path d="M929.5 899.6V910.4"/>
<path d="M953.6 899.6V910.4"/>
<path d="M977.7 899.6V910.4"/>
<path d="M1001.8 899.6V910.4"/>
<path d="M1025.9 899.6V910.4"/>
<path d="M1050 899.6V910.4"/>
<path d="M1074.1 899.6V910.4"/>
<path d="M1098.2 899.6V910.4"/>
<path d="M1122.3 899.6V910.4"/>
<path d="M1146.4 899.6V910.4"/>
<path d="M1154.62 840.9H1166.5V899.6H1154.62"/>
<path d="M1154.62 855.58H1166.5"/>
<path d="M1154.62 884.92H1166.5"/>
<path d="M1166.5 910.4V899.6H1456.3V910.4"/>
<path d="M1180.99 899.6V910.4"/>
<path d="M1209.97 899.6V910.4"/>
<path d="M1238.95 899.6V910.4"/>
<path d="M1267.93 899.6V910.4"/>
<path d="M1296.91 899.6V910.4"/>
<path d="M1325.89 899.6V910.4"/>
<path d="M1354.87 899.6V910.4"/>
<path d="M1383.85 899.6V910.4"/>
<path d="M1412.83 899.6V910.4"/>
<path d="M1441.81 899.6V910.4"/>
</g>
<text transform="translate(607.5,915.2) rotate(-65)" font-size="21.6" text-anchor="end">0.12</text>
<text transform="translate(650.7,915.2) rotate(-65)" font-size="21.6" text-anchor="end">0.10</text>
<text transform="translate(693.9,915.2) rotate(-65)" font-size="21.6" text-anchor="end">0.08</text>
<text transform="translate(737.1,915.2) rotate(-65)" font-size="21.6" text-anchor="end">0.06</text>
<text transform="translate(780.3,915.2) rotate(-65)" font-size="21.6" text-anchor="end">0.04</text>
<text transform="translate(810,895.4) rotate(-65)" font-size="21.6" text-anchor="end">0.02</text>
<text transform="translate(866.7,915.2) rotate(-65)" font-size="21.6" text-anchor="end">0.0</text>
<text transform="translate(890.8,915.2) rotate(-65)" font-size="21.6" text-anchor="end">0.5</text>
<text transform="translate(914.9,915.2) rotate(-65)" font-size="21.6" text-anchor="end">1.0</text>
<text transform="translate(939,915.2) rotate(-65)" font-size="21.6" text-anchor="end">1.5</text>
<text transform="translate(963.1,915.2) rotate(-65)" font-size="21.6" text-anchor="end">2.0</text>
<text transform="translate(987.2,915.2) rotate(-65)" font-size="21.6" text-anchor="end">2.5</text>
<text transform="translate(1011.3,915.2) rotate(-65)" font-size="21.6" text-anchor="end">3.0</text>
<text transform="translate(1035.4,915.2) rotate(-65)" font-size="21.6" text-anchor="end">3.5</text>
<text transform="translate(1059.5,915.2) rotate(-65)" font-size="21.6" text-anchor="end">4.0</text>
<text transform="translate(1083.6,915.2) rotate(-65)" font-size="21.6" text-anchor="end">4.5</text>
<text transform="translate(1107.7,915.2) rotate(-65)" font-size="21.6" text-anchor="end">5.0</text>
<text transform="translate(1131.8,915.2) rotate(-65)" font-size="21.6" text-anchor="end">5.5</text>
<text transform="translate(1155.9,915.2) rotate(-65)" font-size="21.6" text-anchor="end">6.0</text>
<text transform="translate(1190.49,915.2) rotate(-65)" font-size="21.6" text-anchor="end">OR6C74</text>
<text transform="translate(1219.47,915.2) rotate(-65)" font-size="21.6" text-anchor="end">OR6C1</text>
<text transform="translate(1248.45,915.2) rotate(-65)" font-size="21.6" text-anchor="end">OR6C3</text>
<text transform="translate(1277.43,915.2) rotate(-65)" font-size="21.6" text-anchor="end">OR6C75</text>
<text transform="translate(1306.41,915.2) rotate(-65)" font-size="21.6" text-anchor="end">OR6C65</text>
<text transform="translate(1335.39,915.2) rotate(-65)" font-size="21.6" text-anchor="end">OR6C76</text>
<text transform="translate(1364.37,915.2) rotate(-65)" font-size="21.6" text-anchor="end">OR6C2</text>
<text transform="translate(1393.35,915.2) rotate(-65)" font-size="21.6" text-anchor="end">OR6C70</text>
<text transform="translate(1422.33,915.2) rotate(-65)" font-size="21.6" text-anchor="end">OR6C68</text>
<text transform="translate(1451.31,915.2) rotate(-65)" font-size="21.6" text-anchor="end">OR6C4</text>
<text x="549.1" y="867.8" font-size="21.2" text-anchor="end" textLength="443.8" lengthAdjust="spacingAndGlyphs">GOMF_OLFACTORY_RECEPTOR_ACTIVITY</text>
<text x="549.1" y="897.1" font-size="21.2" text-anchor="end">OMF_G_PROTEIN_COUPLED_RECEPTOR_ACTIVITY</text>
<text x="712.5" y="789.8" font-size="23.75" text-anchor="middle">Proportion of overlapping</text>
<text x="712.5" y="812.5" font-size="23.75" text-anchor="middle">genes in gene sets</text>
<text x="1001.85" y="801.6" font-size="23.75" text-anchor="middle">Enrichment P-value</text>
<text x="1311.4" y="801.6" font-size="23.75" text-anchor="middle">overlapping genes</text>
<text x="712.5" y="984.6" font-size="23.75" text-anchor="middle">Proportion</text>
<text x="1001.85" y="984.6" font-size="23.75" text-anchor="middle">-log10 adjusted P-value</text>
<text x="60.2" y="56.7" font-size="44.2" font-weight="bold">A)</text>
<text x="60.2" y="383" font-size="44.2" font-weight="bold">B)</text>
<text x="60.2" y="768.1" font-size="44.2" font-weight="bold">C)</text>
<text x="60.2" y="1129.6" font-size="44.2" font-weight="bold">D)</text>
<g fill="none" stroke="#e2e2e2" stroke-width="1">
<path d="M756.5 1168.5A676.5 676.5 0 0 1 1160.98 2387.26"/>
<path d="M1152.42 2393.55A676.5 676.5 0 1 1 745.87 1168.58"/>
<path d="M756.5 1184.8A660.2 660.2 0 0 1 1151.24 2374.19"/>
<path d="M1142.88 2380.33A660.2 660.2 0 1 1 746.13 1184.88"/>
<path d="M756.5 1201.1A643.9 643.9 0 0 1 1141.49 2361.13"/>
<path d="M1133.34 2367.11A643.9 643.9 0 1 1 746.39 1201.18"/>
<path d="M756.5 1217.4A627.6 627.6 0 0 1 1131.75 2348.06"/>
<path d="M1123.8 2353.9A627.6 627.6 0 1 1 746.64 1217.48"/>
<path d="M756.5 1233.7A611.3 611.3 0 0 1 1122 2335"/>
<path d="M1114.26 2340.68A611.3 611.3 0 1 1 746.9 1233.78"/>
<path d="M756.5 1250A595 595 0 0 1 1112.25 2321.93"/>
<path d="M1104.72 2327.46A595 595 0 1 1 747.15 1250.07"/>
<path d="M756.5 1266.3A578.7 578.7 0 0 1 1102.51 2308.87"/>
<path d="M1095.18 2314.24A578.7 578.7 0 1 1 747.41 1266.37"/>
<path d="M756.5 1282.6A562.4 562.4 0 0 1 1092.76 2295.8"/>
<path d="M1085.64 2301.03A562.4 562.4 0 1 1 747.67 1282.67"/>
<path d="M756.5 1298.9A546.1 546.1 0 0 1 1083.02 2282.74"/>
<path d="M1076.1 2287.81A546.1 546.1 0 1 1 747.92 1298.97"/>
<path d="M756.5 1315.2A529.8 529.8 0 0 1 1073.27 2269.67"/>
<path d="M1066.56 2274.59A529.8 529.8 0 1 1 748.18 1315.27"/>
<path d="M756.5 1331.5A513.5 513.5 0 0 1 1063.52 2256.6"/>
<path d="M1057.02 2261.38A513.5 513.5 0 1 1 748.43 1331.56"/>
</g>
<path d="M756.5 1379A466 466 0 0 1 1035.12 2218.53L1017.78 2195.28A437 437 0 0 0 756.5 1408 Z" fill="#00e600" stroke="#6a6a6a" stroke-width="0.7"/>
<path d="M756.5 1516.6A328.4 328.4 0 0 1 952.85 2108.23L944.6 2097.17A314.6 314.6 0 0 0 756.5 1530.4 Z" fill="#aaffaa" stroke="#999" stroke-width="0.8"/>
<path d="M1029.22 2222.86A466 466 0 1 1 749.18 1379.06L749.64 1408.05A437 437 0 1 0 1012.25 2199.35 Z" fill="#00e600" stroke="#6a6a6a" stroke-width="0.7"/>
<path d="M948.69 2111.29A328.4 328.4 0 1 1 751.34 1516.64L751.56 1530.44A314.6 314.6 0 1 0 940.62 2100.1 Z" fill="#aaffaa" stroke="#999" stroke-width="0.8"/>
<path d="M291.5 1868.56A465.6 465.6 0 0 1 297.15 1768.96L324.97 1773.56A437.4 437.4 0 0 0 319.66 1867.13 Z" fill="#0000cc"/>
<path d="M428.82 1861.6A328.1 328.1 0 0 1 432.81 1791.41L445.83 1793.57A314.9 314.9 0 0 0 442 1860.93 Z" fill="#0000cc"/>
<path d="M1195.39 2000.42A465.6 465.6 0 0 1 1191.61 2010.72L1165.26 2000.68A437.4 437.4 0 0 0 1168.81 1991.01 Z" fill="#0000cc"/>
<path d="M1065.78 1954.52A328.1 328.1 0 0 1 1063.11 1961.78L1050.78 1957.08A314.9 314.9 0 0 0 1053.34 1950.12 Z" fill="#0000cc"/>
<g stroke="#000" stroke-width="2.4" stroke-linecap="round">
<path d="M756.5 1422.5L756.5 1365.3"/>
<path d="M1009.11 2183.66L1043.32 2229.51"/>
<path d="M1003.76 2187.59L1037.24 2233.97"/>
<path d="M749.86 1422.55L748.97 1365.36"/>
</g>
<g stroke="#a0a0a0" stroke-width="0.9">
<path d="M785.61 1379.91L786.16 1371.13"/>
<path d="M814.61 1382.64L815.71 1373.91"/>
<path d="M843.39 1387.17L845.03 1378.53"/>
<path d="M871.82 1393.49L874 1384.97"/>
<path d="M899.81 1401.58L902.51 1393.21"/>
<path d="M927.23 1411.4L930.45 1403.21"/>
<path d="M953.99 1422.92L957.71 1414.94"/>
<path d="M979.97 1436.08L984.19 1428.36"/>
<path d="M1005.08 1450.84L1009.78 1443.4"/>
<path d="M1052.3 1484.92L1057.88 1478.12"/>
<path d="M1074.22 1504.1L1080.22 1497.66"/>
<path d="M1094.89 1524.62L1101.28 1518.57"/>
<path d="M1114.25 1546.38L1121.01 1540.74"/>
<path d="M1132.21 1569.32L1139.3 1564.11"/>
<path d="M1148.7 1593.33L1156.1 1588.58"/>
<path d="M1163.65 1618.33L1171.34 1614.04"/>
<path d="M1177.02 1644.21L1184.96 1640.41"/>
<path d="M1188.74 1670.87L1196.91 1667.58"/>
<path d="M1207.09 1726.14L1215.59 1723.89"/>
<path d="M1213.63 1754.52L1222.26 1752.81"/>
<path d="M1218.39 1783.26L1227.11 1782.09"/>
<path d="M1221.35 1812.23L1230.12 1811.62"/>
<path d="M1222.49 1841.34L1231.29 1841.27"/>
<path d="M1221.8 1870.46L1230.59 1870.94"/>
<path d="M1219.3 1899.48L1228.04 1900.51"/>
<path d="M1215 1928.29L1223.65 1929.86"/>
<path d="M1208.9 1956.77L1217.44 1958.88"/>
<path d="M1191.43 2012.32L1199.64 2015.48"/>
<path d="M1180.12 2039.16L1188.12 2042.83"/>
<path d="M1167.16 2065.25L1174.92 2069.41"/>
<path d="M1152.6 2090.48L1160.08 2095.11"/>
<path d="M1136.49 2114.75L1143.67 2119.84"/>
<path d="M1118.9 2137.96L1125.74 2143.49"/>
<path d="M1099.88 2160.03L1106.37 2165.98"/>
<path d="M1079.53 2180.87L1085.63 2187.21"/>
<path d="M1057.92 2200.39L1063.61 2207.1"/>
<path d="M1005.08 2239.16L1009.78 2246.6"/>
<path d="M979.97 2253.92L984.19 2261.64"/>
<path d="M953.99 2267.08L957.71 2275.06"/>
<path d="M927.23 2278.6L930.45 2286.79"/>
<path d="M899.81 2288.42L902.51 2296.79"/>
<path d="M871.82 2296.51L874 2305.03"/>
<path d="M843.39 2302.83L845.03 2311.47"/>
<path d="M814.61 2307.36L815.71 2316.09"/>
<path d="M785.61 2310.09L786.16 2318.87"/>
<path d="M727.39 2310.09L726.84 2318.87"/>
<path d="M698.39 2307.36L697.29 2316.09"/>
<path d="M669.61 2302.83L667.97 2311.47"/>
<path d="M641.18 2296.51L639 2305.03"/>
<path d="M613.19 2288.42L610.49 2296.79"/>
<path d="M585.77 2278.6L582.55 2286.79"/>
<path d="M559.01 2267.08L555.29 2275.06"/>
<path d="M533.03 2253.92L528.81 2261.64"/>
<path d="M507.92 2239.16L503.22 2246.6"/>
<path d="M460.7 2205.08L455.12 2211.88"/>
<path d="M438.78 2185.9L432.78 2192.34"/>
<path d="M418.11 2165.38L411.72 2171.43"/>
<path d="M398.75 2143.62L391.99 2149.26"/>
<path d="M380.79 2120.68L373.7 2125.89"/>
<path d="M364.3 2096.67L356.9 2101.42"/>
<path d="M349.35 2071.67L341.66 2075.96"/>
<path d="M335.98 2045.79L328.04 2049.59"/>
<path d="M324.26 2019.13L316.09 2022.42"/>
<path d="M305.91 1963.86L297.41 1966.11"/>
<path d="M299.37 1935.48L290.74 1937.19"/>
<path d="M294.61 1906.74L285.89 1907.91"/>
<path d="M291.65 1877.77L282.88 1878.38"/>
<path d="M290.51 1848.66L281.71 1848.73"/>
<path d="M291.2 1819.54L282.41 1819.06"/>
<path d="M293.7 1790.52L284.96 1789.49"/>
<path d="M298 1761.71L289.35 1760.14"/>
<path d="M304.1 1733.23L295.56 1731.12"/>
<path d="M321.57 1677.68L313.36 1674.52"/>
<path d="M332.88 1650.84L324.88 1647.17"/>
<path d="M345.84 1624.75L338.08 1620.59"/>
<path d="M360.4 1599.52L352.92 1594.89"/>
<path d="M376.51 1575.25L369.33 1570.16"/>
<path d="M394.1 1552.04L387.26 1546.51"/>
<path d="M413.12 1529.97L406.63 1524.02"/>
<path d="M433.47 1509.13L427.37 1502.79"/>
<path d="M455.08 1489.61L449.39 1482.9"/>
<path d="M501.76 1454.79L496.95 1447.42"/>
<path d="M526.63 1439.64L522.29 1431.98"/>
<path d="M552.41 1426.07L548.56 1418.16"/>
<path d="M578.98 1414.14L575.63 1406"/>
<path d="M606.25 1403.89L603.41 1395.56"/>
<path d="M634.1 1395.36L631.79 1386.87"/>
<path d="M662.43 1388.59L660.65 1379.97"/>
<path d="M691.13 1383.61L689.9 1374.89"/>
<path d="M720.08 1380.43L719.4 1371.65"/>
</g>
<g stroke="#222" stroke-width="1.5">
<path d="M1029.22 1467.14L1035.07 1459.03"/>
<path d="M1198.78 1698.22L1208.27 1695.07"/>
<path d="M1201.03 1984.82L1210.57 1987.82"/>
<path d="M756.5 2311L756.5 2321"/>
<path d="M483.78 2222.86L477.93 2230.97"/>
<path d="M314.22 1991.78L304.73 1994.93"/>
<path d="M311.97 1705.18L302.43 1702.18"/>
<path d="M477.88 1471.47L471.9 1463.45"/>
</g>
<text transform="translate(1037.71,1455.38) rotate(-54.18)" font-size="9.5" text-anchor="start" dy="0.35em" fill="#555">2.5</text>
<text transform="translate(1212.54,1693.65) rotate(-18.36)" font-size="12.5" text-anchor="start" dy="0.35em" fill="#555">3</text>
<text transform="translate(1214.86,1989.17) rotate(17.46)" font-size="9.5" text-anchor="start" dy="0.35em" fill="#555">3.5</text>
<text transform="translate(756.5,2325.5) rotate(270)" font-size="9.5" text-anchor="end" dy="0.35em" fill="#555">54.5</text>
<text transform="translate(475.29,2234.62) rotate(305.82)" font-size="12.5" text-anchor="end" dy="0.35em" fill="#555">55</text>
<text transform="translate(300.46,1996.35) rotate(341.64)" font-size="9.5" text-anchor="end" dy="0.35em" fill="#555">55.5</text>
<text transform="translate(298.14,1700.83) rotate(377.46)" font-size="12.5" text-anchor="end" dy="0.35em" fill="#555">56</text>
<text transform="translate(469.21,1459.85) rotate(413.28)" font-size="9.5" text-anchor="end" dy="0.35em" fill="#555">56.5</text>
<g fill="none" stroke="#5fb96a" stroke-width="0.9" stroke-opacity="0.55">
<path d="M474.25 1707.19C527.36 1733.12 504.67 1804.94 446.3 1795.65"/>
<path d="M474.33 1707.02C527.42 1732.98 504.5 1806 446.1 1796.96"/>
<path d="M474.3 1707.07C527.4 1733.02 504.32 1807.21 445.87 1798.45"/>
<path d="M473.96 1707.77C527.12 1733.59 504.09 1808.73 445.59 1800.32"/>
<path d="M474.4 1706.87C527.48 1732.86 503.94 1809.8 445.41 1801.64"/>
<path d="M474.38 1706.91C527.46 1732.89 503.73 1811.38 445.14 1803.59"/>
<path d="M474.17 1707.34C527.3 1733.24 503.58 1812.49 444.96 1804.95"/>
<path d="M474.21 1707.26C527.32 1733.18 503.46 1813.46 444.81 1806.15"/>
<path d="M473.96 1707.79C527.12 1733.61 503.28 1814.92 444.59 1807.94"/>
<path d="M474.08 1707.52C527.22 1733.39 503.2 1815.63 444.49 1808.82"/>
<path d="M474.32 1707.05C527.41 1733 503 1817.37 444.25 1810.96"/>
<path d="M474.33 1707.01C527.42 1732.98 502.87 1818.59 444.09 1812.46"/>
<path d="M474.25 1707.19C527.35 1733.12 502.75 1819.8 443.94 1813.96"/>
<path d="M473.95 1707.8C527.11 1733.61 502.68 1820.48 443.86 1814.8"/>
<path d="M474.05 1707.59C527.19 1733.45 502.53 1822.15 443.66 1816.86"/>
<path d="M474.42 1706.83C527.5 1732.83 502.46 1822.89 443.58 1817.77"/>
<path d="M474.09 1707.52C527.23 1733.38 502.36 1824.04 443.46 1819.18"/>
<path d="M474.21 1707.27C527.32 1733.18 502.25 1825.45 443.32 1820.92"/>
<path d="M474.05 1707.6C527.19 1733.45 502.17 1826.47 443.23 1822.18"/>
<path d="M474.28 1707.12C527.38 1733.06 502.09 1827.66 443.13 1823.64"/>
<path d="M474.38 1706.92C527.46 1732.9 501.98 1829.35 442.99 1825.72"/>
<path d="M474.12 1707.44C527.25 1733.33 501.9 1830.65 442.9 1827.32"/>
<path d="M474.02 1707.66C527.17 1733.5 501.84 1831.93 442.81 1828.9"/>
<path d="M474.09 1707.5C527.23 1733.37 501.79 1832.76 442.76 1829.92"/>
<path d="M473.95 1707.8C527.11 1733.61 501.74 1833.92 442.7 1831.35"/>
<path d="M474.11 1707.47C527.24 1733.35 501.68 1835.39 442.62 1833.17"/>
<path d="M474.34 1706.99C527.43 1732.96 501.64 1836.48 442.58 1834.51"/>
<path d="M474.1 1707.49C527.24 1733.36 501.6 1837.69 442.53 1836"/>
<path d="M474.29 1707.11C527.39 1733.05 501.57 1839.21 442.48 1837.87"/>
<path d="M474.42 1706.84C527.49 1732.84 501.54 1840.44 442.45 1839.39"/>
<path d="M474.31 1707.06C527.41 1733.02 501.7 1854.99 442.64 1857.3"/>
<path d="M473.96 1707.78C527.12 1733.6 501.72 1855.7 442.68 1858.17"/>
<path d="M474.12 1707.44C527.26 1733.32 501.75 1856.29 442.71 1858.91"/>
<path d="M473.95 1707.79C527.12 1733.61 501.79 1857.11 442.75 1859.92"/>
</g>
<g fill="#fd8d3c" fill-opacity="0.33" stroke="#fd8d3c" stroke-width="0.9" stroke-opacity="0.9">
<path d="M443.57 1817.9C610.05 1832.32 619.17 1792.56 463.07 1732.95A314.1 314.1 0 0 0 462.39 1734.74C618.85 1793.4 609.97 1833.21 443.41 1819.81A314.1 314.1 0 0 1 443.57 1817.9 Z"/>
<path d="M443.07 1824.46C609.81 1835.39 643.89 1939.49 515.89 2046.9A314.1 314.1 0 0 0 517.3 2048.57C644.55 1940.27 609.73 1836.79 442.89 1827.47A314.1 314.1 0 0 1 443.07 1824.46 Z"/>
<path d="M442.4 1844.45C609.5 1844.74 614.18 1808.19 452.4 1766.36A314.1 314.1 0 0 0 448.82 1781.84C612.5 1815.44 609.5 1846.03 442.41 1847.19A314.1 314.1 0 0 1 442.4 1844.45 Z"/>
<path d="M442.59 1855.96C606.59 1850.23 606.71 1852.98 442.84 1861.71A314.1 314.1 0 0 0 443.77 1874.29C607.15 1858.99 606.63 1851.28 442.68 1858.15A314.1 314.1 0 0 1 442.59 1855.96 Z"/>
<path d="M442.61 1856.51C610.6 1850.35 610.8 1854.42 443.05 1865.27A314.1 314.1 0 0 0 443.6 1872.38C611.06 1857.72 610.64 1851.37 442.7 1858.7A314.1 314.1 0 0 1 442.61 1856.51 Z"/>
<path d="M442.63 1857.06C604.61 1850.83 605.17 1859.3 443.79 1874.56A314.1 314.1 0 0 0 445.65 1890.07C606.07 1866.81 604.66 1851.9 442.72 1859.25A314.1 314.1 0 0 1 442.63 1857.06 Z"/>
<path d="M442.65 1857.61C606.62 1851.02 611.18 1882.18 452.2 1922.85A314.1 314.1 0 0 0 452.82 1925.24C611.48 1883.32 606.65 1851.8 442.72 1859.25A314.1 314.1 0 0 1 442.65 1857.61 Z"/>
</g>
<g fill="#fd8d3c" fill-opacity="0.12" stroke="#fd8d3c" stroke-width="0.9" stroke-opacity="0.9">
<path d="M442.4 1843.36C609.5 1844.23 609.51 1846.28 442.41 1847.74"/>
<path d="M442.4 1844.45C606.5 1844.74 606.5 1845.65 442.4 1846.37"/>
<path d="M442.57 1855.41C609.58 1849.87 609.66 1851.92 442.75 1859.8"/>
<path d="M442.61 1856.51C606.6 1850.5 606.64 1851.41 442.69 1858.43"/>
</g>
<g fill="none" stroke="#bdbdbd" stroke-width="0.8">
<path d="M453.61 1697.27L455.85 1698.36L458.55 1699.68L461.34 1701.04"/>
<path d="M444.48 1717.67L446.8 1718.61L446.81 1726.74L449.71 1727.85"/>
<path d="M439.82 1729.74L442.17 1730.59L446.2 1728.36L449.1 1729.46"/>
<path d="M431.21 1756.93L433.63 1757.58L434.29 1767.05L437.31 1767.78"/>
<path d="M428.4 1768.05L430.84 1768.62L433.5 1770.43L436.52 1771.13"/>
<path d="M419.5 1845L422 1845L425 1845L428.1 1845"/>
<path d="M419.81 1859.41L422.31 1859.3L425.26 1858.01L428.35 1857.89"/>
<path d="M420.49 1870.85L422.99 1870.66L425.65 1865.82L428.75 1865.62"/>
<path d="M421.57 1882.27L424.05 1882L426.26 1873.89L429.35 1873.62"/>
<path d="M423.12 1894.23L425.59 1893.86L427.76 1887.7L430.84 1887.3"/>
<path d="M430.53 1930.52L432.95 1929.88L435.7 1928.56L438.7 1927.78"/>
<path d="M500.63 2064.31L502.52 2062.68L503.3 2058.97L505.67 2056.97"/>
</g>
<text transform="translate(452.71,1696.83) rotate(26) scale(0.8,1)" font-size="19" text-anchor="end" dy="0.36em" fill="#6cc073" stroke="#6cc073" stroke-width="0.3">CD63</text>
<text transform="translate(443.56,1717.29) rotate(22.2) scale(0.8,1)" font-size="19" text-anchor="end" dy="0.36em" fill="#fd8d3c" stroke="#fd8d3c" stroke-width="0.3">RP11-644F5.15</text>
<text transform="translate(438.88,1729.4) rotate(20) scale(0.8,1)" font-size="19" text-anchor="end" dy="0.36em" fill="#fd8d3c" stroke="#fd8d3c" stroke-width="0.3">OR10AE3P</text>
<text transform="translate(430.25,1756.66) rotate(15.15) scale(0.8,1)" font-size="19" text-anchor="end" dy="0.36em" fill="#fd8d3c" stroke="#fd8d3c" stroke-width="0.3">AC009779.1</text>
<text transform="translate(427.43,1767.82) rotate(13.2) scale(0.8,1)" font-size="19" text-anchor="end" dy="0.36em" fill="#fd8d3c" stroke="#fd8d3c" stroke-width="0.3">OR6C4</text>
<text transform="translate(418.5,1845) rotate(0) scale(0.8,1)" font-size="19" text-anchor="end" dy="0.36em" fill="#fd8d3c" stroke="#fd8d3c" stroke-width="0.3">OR6C75</text>
<text transform="translate(418.81,1859.45) rotate(-2.45) scale(0.8,1)" font-size="19" text-anchor="end" dy="0.36em" fill="#fd8d3c" stroke="#fd8d3c" stroke-width="0.3">OR6C3</text>
<text transform="translate(419.5,1870.93) rotate(-4.4) scale(0.8,1)" font-size="19" text-anchor="end" dy="0.36em" fill="#fd8d3c" stroke="#fd8d3c" stroke-width="0.3">OR6C72P</text>
<text transform="translate(420.57,1882.38) rotate(-6.35) scale(0.8,1)" font-size="19" text-anchor="end" dy="0.36em" fill="#fd8d3c" stroke="#fd8d3c" stroke-width="0.3">OR6C69P</text>
<text transform="translate(422.13,1894.38) rotate(-8.4) scale(0.8,1)" font-size="19" text-anchor="end" dy="0.36em" fill="#fd8d3c" stroke="#fd8d3c" stroke-width="0.3">OR6C74</text>
<text transform="translate(429.56,1930.77) rotate(-14.7) scale(0.8,1)" font-size="19" text-anchor="end" dy="0.36em" fill="#fd8d3c" stroke="#fd8d3c" stroke-width="0.3">OR9R1P</text>
<text transform="translate(499.87,2064.96) rotate(-40.6) scale(0.8,1)" font-size="19" text-anchor="end" dy="0.36em" fill="#fd8d3c" stroke="#fd8d3c" stroke-width="0.3">VDAC1P5</text>
<text transform="translate(52.34,1879.44) rotate(87.2) scale(0.89,1)" font-size="20" text-anchor="middle" dy="0.36em" fill="#777">rs61957879</text>
<text transform="translate(1416.85,2091.9) rotate(-69.5) scale(0.89,1)" font-size="20" text-anchor="middle" dy="0.36em" fill="#777">rs740765</text>
<defs><marker id="pm" markerWidth="6" markerHeight="6" refX="3" refY="3" markerUnits="userSpaceOnUse"><circle cx="3" cy="3" r="1.7" fill="none" stroke="#000" stroke-opacity="0.7" stroke-width="0.55"/></marker></defs>
<path d="M981.6 1384.8 1273.2 1718.3 309.0 1591.4 411.7 2274.0 1250.4 1988.2 1028.3 2284.7 275.8 2053.6 1148.1 1502.8 1291.2 1961.6 1230.8 1623.5 1251.5 1717.4 361.2 1510.3 597.8 2334.7 268.2 1695.7 664.0 2374.4 211.2 1857.7 398.6 2212.8 1207.9 1586.4 309.6 2114.3 1126.9 2221.4 1012.6 1390.4 876.4 2345.5 1008.1 2305.2 1160.0 2188.4 313.3 2105.5 215.9 1764.5 918.5 2343.5 619.6 2360.2 1263.2 1685.9 516.3 1387.7 233.1 1906.7 1101.0 1455.6 1240.3 2049.5 1277.9 1803.5 1026.7 1380.5 1274.7 1772.4 280.7 1624.4 230.8 1972.5 213.2 1828.3 719.2 1301.9 1261.2 1700.2 1213.0 2110.4 857.4 1332.3 1275.2 1969.3 1215.7 2099.2 1264.1 1904.4 283.7 2037.9 450.5 1423.8 213.2 1938.2 1235.3 2065.6 539.6 1371.5 234.6 1976.9 208.5 1768.3 204.7 1800.9 1270.2 1771.3 1077.0 1415.5 995.0 1389.4 393.8 2242.8 604.3 1354.9 229.6 1707.8 1128.7 2220.0 426.7 1452.0 326.2 1552.4 1176.3 2147.0 259.0 1719.1 1307.9 1952.6 703.5 2393.6 752.9 2382.3 1229.2 1639.0 554.4 1370.0 247.2 1918.1 328.8 2148.0 729.7 2380.7 353.4 2167.2 1003.2 2304.8 968.6 2339.3 592.2 1358.9 695.3 2365.6 1141.8 1506.3 1282.5 1710.3 1075.0 1442.8 1153.4 1519.1 1120.1 1466.6 291.9 2076.2 720.5 2377.2 249.9 1992.4 983.6 1383.2 786.1 2359.5 1244.7 1624.9 1278.1 1777.4 224.9 1866.4 1279.3 1821.9 405.8 1452.7 1054.8 2268.4 713.4 2401.3 343.7 1529.8 248.3 2016.3 403.8 1471.7 287.3 2110.8 290.7 1597.2 212.8 1830.8 1080.0 1442.6 492.6 2292.7 1199.4 2110.5 393.3 1475.4 454.7 1427.7 551.5 1369.2 673.7 2366.4 320.2 1577.1 914.2 2333.4 1229.5 2049.7 338.3 2143.9 1135.0 1487.8 223.0 1804.5 767.0 2367.6 260.2 2047.8 1170.9 1516.0 588.7 2333.8 1250.0 2001.6 865.8 2355.6 1285.2 1707.0 1213.0 1614.2 1287.4 1853.4 814.3 2353.8 794.4 2358.7 1267.9 1797.3 651.6 2349.5 1192.2 1549.6 777.1 1326.7 242.8 1732.2 411.1 2274.2 1296.6 1913.4 1170.6 1510.8 518.6 2305.5 167.0 1723.0 1281.1 1883.9 729.1 2357.7 346.7 1517.5 211.4 1834.6 1280.4 1964.4 274.6 1618.8 1111.3 1474.2 1105.5 1451.8 1167.0 1525.4 462.6 1409.6 1060.8 1398.1 985.0 1346.7 1188.3 1550.3 1259.4 1673.2 1274.6 1791.7 240.8 1894.7 1134.1 1437.3 1123.1 1467.6 242.3 1814.8 680.0 1330.8 950.8 1367.9 285.2 1633.9 1271.2 1788.6 916.5 1355.6 1270.9 1725.0 1263.5 1766.3 540.8 2310.4 624.5 2341.7 1122.0 2212.4 1210.0 1604.9 940.1 2334.8 302.4 1583.8 603.5 2346.3 295.1 2087.7 1192.7 2134.7 276.0 2024.1 258.1 1683.8 407.8 2268.5 1277.5 1964.8 1292.1 1832.8 203.1 1681.9 1150.8 2181.9 243.7 1970.5 1274.8 1858.2 807.3 1331.1 240.0 1907.1 1269.8 1804.0 721.9 2406.8 1087.1 2247.3 812.5 2366.4 526.3 2307.7 217.4 1853.1 1258.7 1648.0 1269.2 1874.8 554.2 2320.8 1225.5 1625.8 1283.9 1868.6 246.8 2013.5 194.0 1796.2 1081.5 1413.4 1233.3 1625.8 243.7 1784.4 244.3 1740.8 621.8 1347.9 767.5 1325.7 1282.7 1867.4 284.4 1618.3 214.8 1836.7 188.7 1864.5 1276.4 1789.1 313.6 2132.6 802.8 1334.0 718.5 2356.1 507.2 2314.8 238.1 2012.9 1215.7 2103.5 1277.0 1742.5 715.2 1332.3 227.8 1981.6 334.6 1533.4 379.2 2203.3 725.3 2373.0 334.6 1557.2 803.9 1334.0 1113.9 1478.4 1283.3 1875.1 308.9 1597.6 247.9 1738.3 1226.1 2072.6 956.8 2329.3 758.3 1307.5 1263.9 2026.0 927.8 1356.1 1286.2 1832.5 333.3 2137.7 1004.0 1393.9 1268.0 1822.9 1282.5 1699.3 369.6 2178.6 1116.7 1464.9 253.9 1981.3 441.2 2259.1 744.1 1322.4 1080.2 2241.8 263.4 2048.4 937.0 1363.3 918.6 2335.8 242.8 1709.9 245.3 1961.0 923.9 2331.4 346.7 1536.9 1213.0 1528.5 205.5 1848.0 359.4 2174.8 252.7 1935.2 958.9 2342.4 882.0 1346.3 933.6 1354.6 1146.9 2191.6 279.4 2066.8 192.1 1819.0 835.1 1332.8 235.6 1990.2 1146.3 1471.1 1247.7 1634.0 1236.3 2033.4 247.1 1718.1 388.5 2242.1 791.2 1334.4 834.9 1322.3 897.0 1348.5 580.0 2334.7 955.9 1359.2 261.3 1715.3 965.2 2357.8 986.3 1384.5 731.7 1321.3 925.9 1353.2 987.5 2307.6 223.0 1965.8 1168.3 2154.4 909.4 1347.2 1169.5 1539.1 819.6 1337.2 223.7 1968.2 1274.4 1821.6 1273.5 1936.1 400.1 1470.9 732.2 2429.4 509.2 2307.2 303.5 1573.3 296.3 2091.1 1271.1 1832.2 282.7 2060.8 785.7 2355.6 734.3 2365.4 767.1 1267.9 1191.0 1567.4 770.0 1295.8 1085.8 2239.1 1260.1 1939.5 1204.2 1578.5 1266.4 1762.4 1273.3 1984.7 1024.0 1407.4 914.9 1344.5 238.0 1857.3 390.2 2242.4 711.4 2361.9 220.7 1964.7 581.2 1359.2 766.8 1311.8 252.1 1910.6 1218.2 1586.9 302.7 1606.7 1271.4 1865.1 259.2 2008.3 1222.0 1623.1 706.6 2372.5 209.4 1878.2 1027.9 1397.1 343.5 1530.0 1287.7 1800.1 1255.9 1718.1 474.8 1418.5 294.4 1616.6 542.2 2316.8 902.5 1352.3 1062.9 1425.7 881.7 1343.3 1163.3 2183.8 541.4 2319.1 337.7 1524.1 397.5 1479.3 1025.1 2291.5 425.5 2268.9 871.6 1335.4 1152.9 2197.6 242.1 2008.7 1152.3 1512.7 1045.8 2277.7 217.1 1931.4 367.1 2179.3 1289.6 1831.9 1230.6 2061.0 748.8 2357.7 978.0 1380.2 1095.4 2264.3 811.6 2353.4 1288.7 1758.0 246.3 1789.0 330.3 2151.0 631.8 2385.4 1282.4 1750.0 305.8 2127.7 1236.6 2034.4 387.1 1473.7 1157.2 2195.5 1001.4 2307.7 292.4 2085.4 238.6 1698.5 229.4 1931.4 1251.5 2037.5 1009.3 2298.2 228.9 1970.6 1198.1 2132.0 240.9 1912.3 311.1 2112.6 1222.0 1584.7 705.7 2373.3 1267.2 1904.7 245.2 1805.6 300.0 2113.1 1043.8 2277.4 207.2 1823.4 1193.2 2130.8 1250.2 1624.9 1261.8 1965.3 1126.9 2202.1 210.6 1784.6 808.8 1326.8 1282.7 1890.5 1221.2 1620.1 697.8 2366.0 621.2 1348.8 321.7 2135.6 333.3 2131.7 677.1 1321.1 452.3 2308.8 272.9 2027.4 576.9 1356.3 244.9 1773.0 1119.9 2227.3 1286.2 1868.6 388.4 2213.9 200.8 1778.4 266.6 1671.6 1279.2 1777.1 320.4 2125.5 878.2 2349.0 1000.8 1393.6 512.9 2301.8 444.8 2277.3 209.8 1815.1 744.9 2360.9 623.1 1342.1 446.9 1437.4 280.4 2088.3 578.0 2363.4 1142.3 2197.3 825.3 1335.7 307.9 2092.7 1228.6 2041.0 599.2 1344.3 1276.1 1717.0 691.0 1324.5 709.6 1335.5 892.3 1342.9 229.8 1965.4 762.3 1261.7 735.1 2401.0 1257.9 1712.9 1138.2 2198.2 736.1 2387.9 1278.2 1909.7 1025.9 2298.7 657.3 2363.1 883.7 1349.5 845.8 2440.7 328.3 2151.6 696.8 2372.3 880.8 1348.3 1156.5 2161.9 950.6 2334.3 485.0 2296.3 529.7 2309.4 812.4 1322.0 1217.7 1568.9 212.1 1941.4 504.7 1400.5 317.8 2108.6 1284.8 1793.5 465.8 1412.8 1223.9 1617.8 249.3 1958.8 212.8 1850.3 566.0 1368.0 597.7 2340.0 1277.9 1882.2 724.8 2357.1 404.5 2253.3 859.3 1339.8 895.5 2347.5 593.5 1359.1 624.8 2351.0 1284.2 1766.0 612.3 1353.2 496.0 2301.8 937.3 1361.8 273.7 2066.1 234.9 1864.5 1156.0 2169.1 982.3 2333.2 462.4 2293.8 1272.0 1719.7 237.0 1947.6 1282.7 1912.5 721.3 2361.6 245.5 1695.9 1263.9 1732.3 205.5 1798.3 1149.1 1498.2 1268.9 1784.8 776.9 1304.4 1286.3 1880.6 602.9 1343.4 1249.4 1676.8 484.1 2293.8 1028.3 2299.8 999.5 1392.0 231.4 1878.1 572.4 1354.4 1191.1 2139.4 1160.5 2218.0 269.9 2042.5 787.9 1317.4 207.8 1793.0 1223.2 2082.5 730.8 2365.0 1280.7 1779.0 722.3 2368.7 243.2 1761.9 557.6 2327.0 689.6 1325.0 1078.1 2246.0 396.8 2247.1 827.3 1336.4 242.1 1786.7 345.8 1523.4 774.0 1327.4 593.0 2338.5 675.9 1336.1 209.0 1839.9 1231.2 1611.2 975.0 2309.4 207.9 1807.9 249.9 1964.9 1309.6 2034.7 818.7 2360.0 1261.1 1668.0 465.2 1425.3 289.7 1634.5 262.6 2050.6 386.0 2211.6 1244.1 2098.6 1118.6 1448.1 560.6 2323.1 320.6 2124.4 1241.2 1665.8 1298.0 1881.6 514.2 2299.2 1001.0 1389.5 1194.9 2137.5 1031.7 1411.4 1169.4 1533.3 1327.3 1952.6 455.3 2272.9 1232.7 1616.1 472.1 1412.0 1097.4 1430.5 1040.2 1412.0 342.2 1519.4 763.4 1327.7 1184.1 1521.6 1290.9 1854.2 349.3 2170.5 1272.0 1745.9 969.0 2318.8 807.8 1318.7 1306.7 1953.5 259.8 1982.8 885.1 2358.8 1137.2 1482.1 1184.5 1539.4 1312.3 1885.2 897.8 1352.6 474.2 1407.6 237.0 1958.2 894.7 1351.5 386.1 2208.7 761.9 1260.7 1179.1 2131.3 540.0 2320.3 866.0 1343.9 560.1 1356.8 309.6 2092.2 984.2 2329.0 242.9 1921.8 569.6 1353.5 373.0 1496.2 853.9 2362.5 1043.5 1405.7 244.1 1958.8 406.9 1450.0 1170.8 1514.9 272.1 1669.8 1276.3 1903.0 763.1 1321.6 625.2 1335.4 1298.9 1747.1 850.4 1338.2 1303.2 1912.8 435.9 2248.9 423.5 2268.4 1048.5 2289.1 274.6 1663.6 1119.9 2227.2 609.8 2340.6 1250.5 1995.0 428.6 2277.4 301.4 1590.8 486.8 1408.4 415.3 1446.7 1290.4 1893.1 246.9 1721.4 1295.7 2047.7 291.6 1623.1 577.1 2327.8 589.5 1357.1 282.5 2065.7 454.0 1427.7 655.0 1339.7 1266.6 1893.2 908.0 2333.3 969.7 1379.3 1132.4 2202.9 1293.4 1706.9 190.1 1847.7 1116.4 2227.9 1253.6 1659.7 230.2 1994.0 962.4 1359.6 734.9 2381.8 1114.4 2235.9 476.0 1417.7 497.4 1404.0 1050.7 2266.8 1269.7 1730.6 871.9 1343.4 781.5 1315.2 522.8 2304.3 1241.7 1612.1 1276.9 1878.2 1224.2 2098.1 231.2 1995.9 1276.6 1872.1 1123.5 1453.9 370.6 2194.0 1005.9 2307.7 1207.0 1601.4 565.7 2322.6 1093.5 1442.8 998.3 2305.4 208.9 1816.0 1281.0 1733.8 869.6 2350.9 236.5 1942.5 386.9 1487.7 935.0 2333.4 549.8 2313.7 429.0 2266.8 278.2 1623.9 239.7 1900.8 1200.1 2117.8 1293.1 1978.0 894.4 2341.2 1144.9 1494.3 411.2 2223.4 1251.8 1704.2 1046.2 1410.5 257.0 1697.3 723.7 2362.0 517.2 2317.5 1286.9 2017.2 798.7 2370.1 684.8 1333.9 820.3 2355.0 962.6 1360.8 252.6 2022.8 986.8 2305.6 1203.1 1560.3 1269.7 1905.6 1274.9 1746.1 242.0 1904.3 227.7 1921.9 1246.2 2004.6 507.0 2318.9 900.2 1351.0 1267.3 1736.6 764.2 1326.7 1079.5 1425.2 225.0 1695.3 646.3 2358.4 1226.0 1633.5 1201.3 2119.5 1264.5 1751.6 996.5 2305.1 1208.3 1592.3 1279.5 1864.5 1247.5 1691.6 795.8 2364.0 1233.5 2045.4 529.6 2320.4 1240.1 2038.2 241.0 2010.5 345.9 2175.3 1326.7 1917.4 1298.2 1805.7 159.5 1958.9 1050.4 2293.1 1272.6 1731.9 206.7 1811.2 907.3 2344.9 297.4 2075.9 1010.9 1398.5 1269.8 1862.3 224.9 1958.6 273.1 1662.8 1207.8 1482.1 1195.0 1581.7 191.6 1855.9 1034.3 2308.6 799.6 1335.0 808.5 2356.4 246.5 2019.2 587.4 2340.3 1242.1 1676.0 1196.8 1587.6 1287.3 1843.3 1264.5 1696.4 1240.3 1634.1 247.9 1777.1 721.2 1322.1 670.3 1328.0 1263.6 1757.5 528.8 2318.9 512.3 2305.3 996.0 2310.6 1117.0 2232.7 246.5 1717.5 1288.8 1829.8 613.4 2338.9 543.8 1377.9 1133.7 1491.3 981.1 2309.7 1210.9 1494.5 660.1 1332.7 973.2 1379.7 1305.6 2008.7 1157.3 2162.0 1219.0 2065.4 1282.3 2016.7 391.3 1479.7 1291.0 1768.6 594.2 2334.0 1237.8 2115.3 1000.9 1388.5 928.7 2335.5 247.4 1758.6 975.6 1381.5 986.9 2306.8 1267.1 1769.8 487.0 2294.9 921.2 2343.0 1089.5 2236.7 310.6 1594.6 1143.3 1486.7 1061.3 2276.5 1226.7 1614.3 879.4 2343.8 664.3 2358.5 330.2 1541.3 743.7 2380.7 1187.5 1562.7 1270.4 1864.4 216.4 1941.9 1266.8 1825.8 230.6 1865.4 714.4 2373.2 1050.5 1421.3 918.6 2339.2 218.6 1863.6 1305.0 1944.1 210.1 1822.8 943.6 1366.5 1220.0 1625.5 330.5 2146.8 219.2 1770.1 1247.0 1696.5 419.8 2231.0 1277.5 1935.4 417.1 2261.9 1294.9 1798.1 878.3 2350.2 1248.0 1676.0 967.7 1376.3 1077.0 2270.9 973.6 1359.4 1267.9 2006.1 1084.0 1418.1 973.7 1378.3 535.8 1381.6 1207.4 2084.3 1228.1 1642.3 1273.5 1924.3 668.2 1327.5 1275.7 1828.1 203.1 1792.0 1030.8 2306.2 237.6 1974.0 1215.4 1618.4 897.2 1333.8 265.4 1984.6 1091.3 1424.0 1239.3 2081.3 350.0 1529.7 1273.7 1970.4 999.7 1389.4 213.4 1780.8 598.5 2332.4 1000.2 2322.1 939.4 1363.3 1002.4 2308.4 211.2 1791.3 252.0 1944.7 1253.4 1995.0 143.7 1891.7 1157.3 1519.3 232.0 1778.6 468.0 2297.8 632.1 1345.7 467.6 2286.9 1095.7 2251.6 1263.9 2031.8 927.9 1349.3" fill="none" stroke="none" marker-start="url(#pm)" marker-mid="url(#pm)" marker-end="url(#pm)"/>
<path d="M877.7 2343.3 1267.0 1922.4 1023.2 2302.8 989.9 1385.4 162.2 1976.3 399.0 2216.4 446.7 2278.2 392.7 2206.8 1275.7 1721.7 1182.8 2125.3 477.6 1399.6 1215.8 1528.1 1277.5 1844.1 252.3 1754.7 320.2 1567.5 357.4 2171.1 720.2 1321.5 1320.3 1911.5 1272.9 1907.7 1246.5 2041.9 503.5 1399.3 1134.5 1482.7 574.5 1363.6 257.5 1995.6 1019.4 2311.9 1228.8 1611.2 987.9 1387.8 421.5 2265.3 1222.7 1571.7 883.2 2347.5 1129.9 1471.2 292.2 2070.8 1049.8 1412.9 1277.8 1806.8 285.2 1619.8 1181.6 1537.7 358.2 2179.6 335.4 2154.2 225.9 1957.1 1268.6 1852.3 348.8 2168.0 716.1 1335.6 1288.7 1837.8 247.4 1726.7 1053.4 1425.5 1285.3 2007.1 237.8 1979.7 1066.3 2257.2 222.2 1793.1 321.8 1564.7 493.0 2295.9 730.7 2430.0 633.0 2343.2 1233.1 1611.2 972.8 2311.8 1008.6 2305.0 1275.6 1893.5 859.9 2358.9 1277.8 1761.0 814.3 1335.6 1076.9 1423.0 459.3 2284.5 887.3 2351.7 1251.9 1636.0 1193.5 1553.4 464.0 1425.6 282.4 2041.3 604.9 2342.9 255.3 1698.1 1008.4 1391.4 906.5 1355.0 677.8 1336.4 1286.7 1824.2 257.1 2031.0 370.9 1500.1 626.2 2345.1 443.5 2272.2 1247.4 1648.3 1230.4 1640.8 845.3 2359.4 1266.7 1732.8 777.9 2356.0 616.4 1337.7 224.0 1695.0 381.6 2203.3 901.0 2343.8 1024.8 2283.6 533.7 2314.6 239.8 2000.6 532.9 2313.2 1004.0 1397.7 1301.2 1990.8 1256.4 1720.7 248.0 1768.9 497.3 2325.8 430.8 2266.9 273.2 2065.7 1198.0 1565.0 224.4 1695.7 717.8 1316.7 1028.6 1406.3 231.7 1951.5 953.4 1355.9 1297.6 2000.6 1213.7 1601.1 343.8 1536.9 1152.4 1513.5 528.0 1385.5 1285.2 1954.5 1283.7 1958.2 879.8 2342.8 376.9 1500.4 189.6 1835.2 1138.3 1482.1 1265.9 1751.8 999.2 2308.0 444.5 1438.3 1262.2 1933.5 1165.6 2154.5 803.5 2368.4 391.3 1473.0 338.0 2148.3 1118.7 1449.4 1251.8 1711.5 907.3 1349.5 755.3 2370.5 272.7 2027.3 226.8 1851.1 1227.1 2101.8 377.9 2189.6 304.0 2102.5 406.9 2261.3 860.4 2356.0 352.5 2173.2 986.8 2333.7 1191.6 1548.8 780.3 2371.7 1266.4 1819.3 1265.6 1961.1 923.0 2337.6 1291.3 1703.1 1264.4 1688.0 1232.1 1615.7 1254.1 1658.7 484.2 1405.9 916.8 2338.9 1139.2 2197.9 689.9 2352.0 687.4 1331.7 544.1 2314.2 216.8 1652.6 248.5 1754.0 223.7 1964.7 1251.0 1685.6 1176.6 1529.9 707.7 1336.4 587.6 2345.3 1085.6 2259.9 607.2 2336.7 1274.2 1748.6 245.4 1930.3 213.3 1837.7 711.1 2434.9 654.4 2352.2 572.3 1358.1 1045.4 2277.1 1238.2 1638.4 640.1 2383.1 1250.9 2063.0 189.7 1843.6 405.7 2256.5 1287.0 2055.3 759.8 1300.5 1286.2 1833.8 581.5 2330.3 661.6 1334.0 350.7 2168.1 1038.7 2302.1 980.4 1380.5 214.6 1744.1 715.5 2368.9 576.2 2330.4 297.2 1580.5 814.4 2354.3 605.7 1352.8 1269.0 1770.5 1220.1 1628.6 886.2 1331.7 1120.3 1467.8 1196.5 1534.8 988.5 2326.1 190.4 1813.7 1287.4 1931.5 303.5 1600.6 209.7 1817.3 305.1 2112.3 1190.9 1546.7 1247.7 2037.5 1251.5 1668.0 1265.9 1820.2 1219.4 1622.7 1273.1 1693.8 995.9 1392.2 271.8 2069.6 240.8 1826.2 1246.1 1633.2 445.6 2269.6 406.1 2229.9 712.7 2369.1 606.0 1344.3 1251.2 1684.5 705.3 1317.4 254.9 2018.8 1136.6 1483.3 1256.3 1719.5 889.5 2351.4 835.8 1333.9 1284.1 2003.5 606.9 2345.8 223.5 1946.0 986.2 1385.6 861.5 2352.2 1201.0 1547.2 365.3 1491.3 999.4 2308.2 209.1 1768.1 1283.7 1845.9 843.9 1336.1 240.3 1800.6 489.2 2281.7 1268.1 1864.0 578.0 2329.4 300.8 2078.7 1317.6 2023.5 531.4 2313.2 1252.6 1656.4 435.2 1446.7 613.5 2336.6 1242.2 1685.6 1227.2 1626.5 979.0 2315.1 397.0 2257.8 255.1 1623.0 1262.0 1693.5 1295.3 1825.3 408.8 1458.7 658.2 2358.8 1219.0 2089.6 692.8 1319.3 232.1 1905.5 292.3 2074.6 953.0 1368.5 324.2 2131.5 283.7 2069.1 999.5 1393.6 281.6 1643.7 242.0 1704.1 860.5 1315.1 988.6 2302.4 1147.5 1513.2 1256.5 1656.6 539.5 1379.3 267.6 1659.7 600.9 2342.9 370.6 2211.1 287.2 2174.8 311.5 2095.7 277.4 2047.0 360.2 2186.5 395.0 2232.0 548.7 2322.8 253.6 1712.3 1147.4 1509.7 725.4 2385.9 982.6 2313.5 689.5 1332.4 1258.8 1749.5 693.5 2369.4 504.2 2294.5 379.4 1485.7 1204.2 1570.4 356.2 2192.3 322.0 2140.1 247.2 1804.0 1208.6 2121.1 1257.9 1721.6 650.0 1342.0 1257.0 1727.8 739.4 1326.6 1147.8 1498.2 573.9 2325.8 271.7 2008.9 662.6 2349.5 800.9 1321.3 246.8 1687.9 533.6 2307.7 715.2 1322.0 644.6 1333.5 331.7 1540.3 1186.4 2172.9 459.4 2304.8 491.2 2302.5 201.2 1799.5 347.1 2168.7 743.4 2365.9 218.1 1915.6 1051.9 1388.2 246.5 1782.9 212.4 1894.6 447.3 2279.6 230.5 1905.5 660.9 1328.0 390.3 2224.0 787.7 1319.6 1248.6 2047.3 888.1 2351.4 446.9 2286.0 1258.7 1690.5 246.2 2010.0 1158.7 2196.0 713.5 2377.8 245.5 1712.4 1281.4 1934.1 328.3 1546.2 211.8 1867.8 311.7 1586.6 824.8 1335.7 204.0 1863.4 198.2 1941.1 552.2 2315.3 852.1 1337.2 1278.6 1746.5 940.9 1365.0 1251.9 1975.4 248.0 1687.9 548.0 2314.4 477.1 2308.0 298.6 2091.6 214.2 1767.7 371.1 2190.9 752.2 2374.9 1077.8 1378.6 810.1 2364.7 1276.4 1848.1 714.7 2359.0 283.1 1637.2 1232.1 1648.5 1223.6 1616.0 334.0 2167.5 602.0 1358.0 355.4 1522.6 225.4 1980.1 1251.4 1680.6 1248.2 2048.6 499.1 2319.3 523.9 1376.6 760.7 1330.4 443.6 1422.4 355.5 2173.5 1294.5 1885.6 370.3 2179.4 1235.8 1657.5 1158.1 2196.9 966.3 1368.5 496.3 2315.4 490.7 1398.3 927.0 2335.2 248.3 1688.8 482.4 1403.0 306.8 1582.1 401.8 2219.6 904.7 1348.8 1276.7 1813.2 193.7 1845.8 1227.9 1602.0 968.2 2315.9 327.8 2150.6 1049.1 1388.0 482.6 1406.3 224.9 1749.4 798.9 1316.5 744.0 1331.0 1295.2 1793.5 416.6 2229.0 1118.2 1475.6 245.8 1707.5 300.2 1596.7 836.9 1334.6 1059.4 1415.4 762.2 1320.6 603.3 1348.7 383.2 2206.5 1115.6 1474.8 923.2 2336.8 1143.7 1496.0 207.5 1809.6 825.3 1336.6 437.8 2256.2 356.9 2169.2 222.8 1951.9 475.1 1408.8 543.6 2317.5 1290.1 1902.9 1249.7 2000.4 1054.7 2268.8 904.5 2349.7 1161.9 1502.6 1170.2 1516.3 1144.2 2189.4 1214.6 2101.6 1164.0 2184.7 1295.4 1814.5 668.3 2379.8 596.7 1357.9 250.3 1959.8 1265.2 1784.1 502.7 2329.9 827.6 1332.2 921.3 2343.6 246.5 1983.0 273.6 2050.6 1238.9 2015.5 213.5 1826.2 248.9 1914.2 250.1 1943.2 348.6 2213.8 870.4 2349.5 709.1 2391.9 314.0 2125.5 1234.9 2085.5 1257.0 1708.6 135.3 1889.6 1022.1 1382.6 570.9 2322.3 308.6 1588.9 784.1 1331.1 779.8 1314.7 199.1 1806.3 780.1 2362.3 1266.8 1902.0 549.0 2326.9 419.5 2238.8 720.8 1319.3 230.9 1741.7 453.2 2277.6 1276.6 1735.7 1284.5 1956.1 225.7 1697.2 1028.5 1391.8 1251.5 1995.8 1309.9 1934.2 257.4 1988.0 996.6 1393.1 222.2 1911.3 636.3 1337.3 976.1 1377.7 1224.1 2059.2 279.2 1649.5 237.0 1903.9 254.2 1966.2 1293.2 1872.6 924.4 1348.0 235.0 1765.2 1129.7 1483.4 1209.5 1593.3 1268.8 1757.8 231.7 1911.6 645.3 1337.2 929.7 1351.8 1031.5 1406.5 1262.7 1928.1 1285.4 2009.0 1268.2 1900.6 1152.0 1516.7 741.3 2359.6 791.2 1330.0 280.1 1644.6 240.6 1993.0 556.5 2318.3 766.0 1325.3 563.8 1358.6 809.3 1331.0 307.7 2103.4 244.7 1773.0 323.3 1562.7 418.3 2232.4 769.7 2368.0 228.3 1916.0 240.4 2002.8 460.7 2274.3 1182.3 1525.3 257.6 1990.8 797.6 1314.1 770.5 1327.5 701.6 2399.3 779.9 2367.4 265.4 1664.8 1205.3 2120.3 547.1 1374.0 249.4 1745.1 710.2 2398.0 975.8 1382.1 1209.6 2079.1 723.1 2373.9 444.0 2293.5 1273.6 1916.9 271.3 2044.7 205.8 1813.5 1289.2 1689.8 247.2 1759.7 1178.6 2157.0 636.5 2361.4 908.2 1356.5 774.7 1320.9 464.8 2293.4 378.1 1482.3 992.2 1383.7 719.9 1330.4 1064.5 1410.4 1235.7 1651.1 1128.6 1480.0 1233.5 1655.8 525.2 2306.8 614.4 1345.1 386.2 2210.0 786.2 2355.6 244.6 1821.5 703.7 1333.9 253.1 1732.9 766.8 1315.8 340.6 2147.7 242.1 1686.2 230.8 1971.4 1247.5 1682.4 833.4 1333.1 330.7 2135.3 424.2 2254.6 766.0 1299.5 1030.2 2280.5 1298.9 1889.0 255.2 1650.0 793.9 1332.9 1202.6 1569.9 217.4 1951.0 1096.9 1449.0 1275.4 1754.0 847.5 1323.0 161.6 1966.1 1289.0 1863.6 888.3 1349.8 217.6 1849.4 777.9 1323.8 1091.9 2254.4 1266.4 1899.4 1304.7 1963.8 1171.6 1514.8 360.5 2302.4 191.9 1819.8 770.7 2372.1 834.0 2357.4 744.7 2364.8 432.3 2262.5 614.9 1351.5 1277.6 1686.0 198.1 1803.5 1276.6 1902.4 730.3 1319.7 245.4 1755.7 1256.0 1995.0 1265.3 1945.5 816.1 1331.1 694.1 2368.5 212.0 1812.7 1248.4 1992.4 719.2 1318.3 193.4 1844.9 1284.3 1769.7 799.2 2359.1 273.0 2027.8 964.0 1369.5 232.0 1975.3 1052.2 1418.4 1035.0 2281.3 1191.6 2132.4 1240.5 1651.2 833.5 2367.1 1101.0 1445.7 557.5 2326.8 1265.7 1816.0 395.6 1462.3 1293.3 1913.9 1072.5 1443.3 925.6 2354.5 613.1 1340.5 1250.3 2018.7 550.2 2324.2 1273.1 1833.4 417.6 1456.4 562.1 2323.9 904.3 1353.1 1259.2 2121.4 1319.8 1977.5 225.5 1970.2 869.2 2361.7 247.1 1697.3 259.6 2006.5 1091.2 1446.6 1059.6 2269.7 1292.8 1984.2 239.0 1674.2 1287.1 2047.2 1271.7 1724.0 540.2 1370.0 973.6 2312.5 1071.4 1424.7 265.6 1690.4 258.8 1684.0 1159.4 2159.5 208.5 1787.4 1139.2 1482.4 441.7 1437.1 384.7 2201.3 510.9 1385.1 1223.2 2099.4 1208.4 2130.3 573.1 2335.1 993.4 1389.1 1163.7 1501.7 557.5 2322.7 943.8 1356.1 985.8 1383.2 1123.6 1454.0 190.4 1820.9 313.7 2108.7 1217.3 2102.8 576.5 1355.8 189.6 1793.2 377.1 2190.2 1180.8 2152.5 661.3 2352.5 1058.8 2268.8 969.3 1364.7 419.1 2233.0 1029.5 2283.7 1177.4 1536.6 952.7 1370.1 1176.2 2156.2 947.3 2337.4 1287.0 1964.6 208.7 1854.3 293.6 1619.0 660.2 2353.1 229.6 1724.6 1182.5 2150.8 1031.6 2307.3 1243.9 1637.7 1048.2 2287.7 258.7 1997.0 1112.1 2236.6 1244.2 1652.1 1110.9 1440.7 1083.6 2241.3 781.2 1330.4 1071.3 1423.8 242.7 2003.7 226.9 1822.9 231.5 1977.9 881.8 1347.3 635.3 2366.6 1069.1 1420.5 259.1 2045.2 764.5 2371.1 710.6 1319.2 966.5 1367.8 414.0 1457.0 1283.7 1789.8 1201.4 1583.8 837.8 1321.9 615.6 2340.6 1209.0 2132.7 1210.3 2104.7 811.2 2360.9 1271.8 1706.7 302.1 2124.1 936.4 2324.9 543.0 2322.0 311.6 2115.1 427.6 1434.9 609.4 2347.4 284.0 2071.5 987.3 1387.6 1177.7 1534.3 1218.9 2067.7 328.5 2129.2 1061.4 2282.1 505.2 1398.5 1271.5 1923.0 800.8 1329.7 232.0 1853.0 1306.9 1891.3 1003.0 2330.0 270.6 2056.9 1205.7 1591.5 333.2 2138.5 586.4 2336.2 285.9 2047.4 1102.5 1448.9 729.5 2361.5 839.8 1339.4 228.2 1985.2 241.5 1644.2 1317.2 1927.0 437.7 2258.5 1207.5 2129.1 612.2 2357.0 1251.0 2055.0 618.5 2351.0 1019.7 1399.5 144.0 1885.7 1270.2 1716.6 1265.1 1778.9 1259.3 1695.0 545.4 1362.2 344.6 2152.1 352.6 1505.9 1046.8 1388.2 547.5 2326.0 1009.5 2306.1 524.2 2304.9 336.3 1552.8 221.5 1962.7 842.4 1335.5 607.8 1349.9 1289.4 1799.1 206.3 1797.5 848.4 2358.9 474.7 2303.7 942.2 1347.0 1252.4 2026.6 315.9 1583.7 825.7 2358.3 1093.5 1441.5 188.7 1715.1 828.4 2355.7 1190.5 1547.6 1017.8 2312.8 912.8 1351.6 1287.9 1890.9 1052.4 1429.4 1252.0 1674.1 235.6 1995.0 1161.4 1490.7 240.2 1882.4 854.6 2361.2 1259.7 1672.4 244.2 1919.9 196.1 1785.4 380.8 2215.4 273.3 2057.1 301.3 2083.9 497.6 2287.9 1275.6 1719.9 541.3 1366.5 215.8 1763.6 1279.7 1687.0 224.4 1873.1 1209.6 1593.6 270.1 2022.6 698.6 2399.3 1293.9 1863.2 1222.8 1629.0 576.0 1363.2 1217.4 1561.8 993.9 1388.7 280.7 2063.4 789.2 1330.5 526.0 1375.8 761.1 1310.5 1272.2 1850.0 474.8 1405.7 1069.0 1424.9 1182.7 1527.3 959.9 1372.0 1275.5 1858.8 992.5 1376.7 1182.9 2127.3 279.6 1634.3 526.6 2312.1 653.9 1330.8 775.5 1312.2 1190.5 1549.4 484.2 2341.4 269.3 1683.5 610.2 2346.4 1085.1 2251.9 1135.7 1496.9 318.5 2113.6 1004.3 1395.9 1267.0 1915.1 1267.7 1739.8" fill="none" stroke="none" marker-start="url(#pm)" marker-mid="url(#pm)" marker-end="url(#pm)"/>
<path d="M231.1 1908.6 1232.2 2052.1 1267.5 1699.9 698.3 2354.2 814.2 1334.8 655.9 1339.9 509.2 1382.5 494.7 1406.3 236.2 1859.1 952.9 1351.5 382.0 2195.9 1110.2 1453.4 923.4 1359.8 961.6 2339.6 1038.2 2283.0 236.3 1983.5 854.6 1325.3 598.6 1357.2 982.3 1384.1 1286.8 1831.7 1286.1 1822.9 840.8 1334.2 503.9 2327.5 1246.6 2095.3 863.3 2351.5 609.1 2337.3 1172.4 1534.7 381.2 1485.4 503.2 1398.1 515.1 1392.7 243.2 1917.7 242.0 2005.7 861.7 2356.8 1206.1 2129.6 588.4 1359.0 564.3 2326.9 636.4 1336.0 567.8 2333.7 1252.3 2036.2 556.6 1368.5 437.0 1436.0 344.3 2158.1 250.8 1995.0 433.0 1449.6 1276.2 1752.1 935.1 1362.8 688.1 2367.2 1291.0 1701.4 797.4 1315.2 377.9 1484.6 331.0 1555.7 486.0 2279.9 270.8 1674.2 398.9 1473.2 396.6 2232.0 414.3 2267.7 357.7 2178.5 1256.9 2046.2 1266.0 1823.6 968.1 1376.0 520.3 2310.4 392.3 1475.6 303.3 1604.9 866.6 2354.0 246.5 1700.0 1150.4 1512.2 208.6 1778.0 1213.0 1597.5 921.9 1339.3 554.0 1365.8 1289.8 1842.0 1208.0 2082.1 1244.0 1688.6 1285.4 1969.6 1288.9 1963.8 301.2 2116.3 985.9 2336.3 1248.1 2022.1 353.2 2172.2 1253.1 2017.9 1076.6 1416.2 227.0 1961.3 1262.1 1764.8 325.9 2148.0 541.5 2318.0 995.8 1390.2 978.8 1375.1 757.5 2356.6 747.1 1327.6 311.0 1559.2 530.7 1385.8 301.5 2106.6 816.6 1330.1 1277.7 1771.5 1140.6 2189.4 1272.3 1857.9 365.4 1498.9 878.7 2351.7 328.8 2126.9 635.3 2359.3 1269.3 1811.2 368.7 2209.5 1207.8 2087.6 323.4 1570.0 290.5 1590.7 205.5 1848.2 1140.0 1489.4 1144.3 1469.6 320.0 2134.5 1017.5 1398.5 571.0 2326.2 258.4 1976.7 542.9 1302.2 245.0 1812.7 1270.4 1863.9 1281.2 1892.1 991.9 1376.2 1263.9 2024.5 1272.0 2042.0 1282.6 1832.5 1103.0 1445.4 1225.9 2080.7 370.7 2185.7 226.7 1969.7 785.0 2363.7 1201.7 2105.9 702.5 2364.1 597.6 1357.6 246.3 1942.2 265.5 1685.1 330.9 1555.0 1229.5 2087.9 462.1 1415.3 346.0 1519.8 775.4 1329.9 1170.7 1518.7 1003.0 2320.7 450.4 2257.0 799.4 1332.8 1058.7 2289.1 522.9 1378.2 220.3 1932.6 1234.7 2026.3 592.1 2330.8 266.0 1684.1 1082.4 1447.9 1265.9 1819.3 662.1 1332.1 361.3 2186.6 1289.6 1777.7 1018.5 1397.6 671.1 2351.6 1249.1 1634.9 868.7 2370.9 781.4 1310.7 238.7 1953.2 1203.7 1556.9 1231.8 2066.2 1283.4 1972.3 1247.2 1984.1 1199.6 1548.1 529.6 1371.9 572.5 1355.4 1178.2 1519.4 1072.9 1426.7 978.4 2322.6 1174.5 1503.6 279.1 2071.1 1280.0 1825.3 227.6 1904.2 560.5 2319.1 1267.8 1843.4 508.5 2314.3 818.2 2356.6 1284.5 1851.4 314.7 2112.6 391.8 2222.1 1044.9 2288.2 215.7 1776.7 551.6 2316.4 224.9 1693.4 1146.4 1506.2 475.5 2289.5 817.0 1335.0 1253.2 2026.1 1282.5 1907.5 1117.0 2225.8 363.5 2309.7 292.3 2080.4 1251.0 1686.8 1139.0 1487.1 898.3 2341.3 218.8 1851.6 819.7 1334.1 1177.9 2137.8 462.4 1415.9 551.6 1365.8 1239.7 1665.4 740.8 2386.3 222.7 1939.7 770.9 2366.6 1229.1 2084.2 1264.4 1687.8 242.6 1777.1 458.3 2279.0 1215.3 1581.1 449.4 2262.8 246.0 1981.5 1273.1 1988.6 248.5 1712.7 192.7 1828.1 244.6 1704.1 189.0 1863.5 594.0 2339.9 281.2 1638.9 1254.1 1665.8 1256.8 1693.7 1049.0 1383.8 959.0 2321.8 722.9 2371.1 246.0 2012.7 1290.4 1769.0 504.2 2328.1 1261.1 1690.8 1295.1 2021.3 1271.8 1925.9 816.7 2367.1 824.4 1338.9 227.7 1962.9 1288.8 1891.8 1008.6 1376.2 570.6 2335.8 731.5 1324.9 1270.4 1924.4 1219.2 1621.0 976.3 2317.1 1284.6 1730.1 1021.0 2301.2 664.6 2350.0 277.4 2070.9 1271.4 1754.7 1285.8 2016.9 995.0 2314.2 1000.8 2303.5 530.8 1372.3 248.8 1691.1 1271.6 1902.0 870.4 1300.2 996.4 2309.7 265.1 1681.6 1266.4 2000.6 486.3 1397.8 368.9 2180.0 1287.3 2000.6 819.1 1331.4 489.0 2282.9 244.5 1736.2 244.1 1889.0 1272.8 1939.9 617.0 2353.4 1276.2 2002.8 1147.5 2188.6 989.1 1384.5 335.3 2149.1 1277.4 1936.0 248.4 1762.4 1270.3 1852.6 1208.0 1592.0 1289.6 1840.9 1160.0 1512.5 299.1 2116.7 414.0 1447.5 230.7 1974.1 447.3 1423.2 528.9 2308.6 803.9 1332.1 295.6 1619.9 1239.4 2013.2 892.5 1346.2 1288.0 2037.2 956.6 1373.1 760.0 1309.2 276.6 1642.4 309.3 2102.9 1186.2 1544.0 321.6 2117.0 1147.8 2206.6 1293.1 1931.8 990.4 1389.0 761.7 1319.7 1274.1 1861.2 971.2 2313.6 1271.2 1924.1 762.8 1322.9 1287.6 1843.8 1027.3 1382.7 209.0 1820.1 586.8 1360.3 192.2 1847.9 782.5 1308.9 606.0 1355.0 251.2 2002.0 1291.8 1843.7 1261.7 1680.9 324.2 2140.9 437.8 1440.5 504.4 1399.7 357.9 2167.2 1263.1 1975.8 292.8 2102.8 1043.5 1416.7 176.8 1696.1 1147.0 2210.3 789.7 1325.4 368.0 2196.3 444.0 1437.0 743.0 2358.5 793.2 1319.5 1098.8 2243.8 306.3 2098.1 1091.7 2242.9 999.2 2309.9 278.4 2072.9 1143.3 1489.6 948.3 1371.1 1081.8 1431.1 1061.3 1433.1 343.2 2151.6 396.9 1475.7 1269.8 1707.2 548.6 2325.3 1027.7 2285.8 1250.2 1669.0 871.4 1341.2 749.0 2381.6 618.5 1346.7 270.3 2018.2 891.2 1349.0 955.0 1330.9 915.5 2331.6 1078.8 1442.8 1256.2 1712.1 220.3 1946.0 500.1 2292.7 1008.0 2317.8 247.5 1915.2 762.8 2380.5 1286.4 1777.3 1303.4 2051.2 404.1 2268.4 1084.2 1441.2 302.9 2120.9 1208.9 2093.3 1205.9 1557.7 210.6 1762.1 191.5 1836.9 1269.7 1793.3 448.4 2258.3 1249.1 1679.9 1276.0 1844.8 201.2 1802.9 462.4 2295.7 663.6 1326.3 318.1 1574.9 152.3 1896.6 1241.7 1652.6 265.8 1674.7 379.1 2219.4 594.5 2339.4 478.9 1408.3 233.0 1986.9 1023.8 1398.0 1282.8 1957.0 818.3 2357.6 851.9 2363.4 1166.1 2156.3 566.1 2322.2 1241.9 2024.6 281.4 2066.5 254.7 1726.1 1251.7 1687.5 226.6 1966.9 685.1 1329.6 353.5 2170.9 377.7 1487.9 1250.5 2026.2 1181.4 2153.0 955.0 2339.3 1253.6 1685.8 270.3 1676.7 1172.6 1468.2 1268.2 2023.8 423.6 2270.2 828.3 1335.3 297.7 2082.0 1116.2 2234.8 1269.6 1873.5 1210.7 1603.4 1275.7 1818.5 1255.0 1684.7 1286.6 1982.6 325.4 2127.9 500.6 1402.9 231.8 1868.9 401.1 1465.2 1252.6 1983.3 1197.2 1563.9 272.1 1679.6 790.0 1307.3 564.8 2320.7 601.6 1357.5 878.9 2360.8 550.8 2319.7 811.6 2416.2 1269.7 1710.4 621.5 1335.0 1217.0 2107.8 1131.4 1474.5 232.3 1894.5 205.7 1845.6 1213.9 2113.5 375.2 2193.4 250.3 1715.4 307.9 1582.8 933.3 2327.0 1123.4 1457.1 1024.1 2308.3 1113.9 2234.4 1264.1 1970.7 707.5 2377.4 1154.1 2164.9 342.8 1539.3 845.5 2358.2 1259.6 1744.0 354.3 1526.7 1278.3 1823.7 552.8 1370.8 969.5 2321.8 637.3 1337.0 254.6 1687.9 1048.1 1413.8 1212.3 1581.3 212.7 1822.5 708.9 1322.1 327.4 1557.9 1263.6 2021.0 1240.8 1655.9 527.1 1330.8 1171.1 1534.7 1245.4 1657.7 760.4 1331.5 234.1 1985.2 777.4 1331.6 229.2 1929.3 926.3 2343.8 623.8 2344.3 221.7 1982.2 1207.5 1567.6 719.1 2367.5 643.4 1336.4 365.3 2206.2 1290.2 1994.7 891.6 1348.6 671.8 2375.5 1262.4 1761.0 642.7 2343.5 869.8 1337.3 1029.7 2316.4 368.8 2178.8 1242.7 1578.4 698.4 1333.8 298.5 1616.2 817.6 1335.5 357.6 2165.8 818.5 2359.8 1122.1 1474.2 366.2 2206.1 1247.4 1703.7 615.9 1348.0 1267.2 1894.8 1249.8 1691.7 526.5 1372.7 242.8 1981.7 1252.9 1977.3 366.8 2185.7 1119.2 2231.9 224.0 1946.8 287.9 2061.9 247.8 1742.9 437.7 1429.7 1225.3 1584.6 203.1 1798.3 247.7 1957.5 950.0 2332.1 517.5 1392.7 1217.2 2066.7 196.6 1684.2 248.2 1757.3 396.0 2247.7 1233.2 1656.2 1265.0 2072.6 419.8 2272.1 802.3 1333.6 1134.5 1487.7 1236.3 1605.7 735.1 2363.5 232.9 1984.3 1248.9 1977.8 765.6 2363.5 550.5 1375.3 227.1 1933.0 1167.8 1514.9 710.3 1315.4 700.0 2393.5 1271.1 1719.0 395.4 2245.4 1244.1 2029.3 1221.0 2065.4 1152.1 1488.1 732.8 1330.8 801.1 2368.5 769.1 1289.4 1272.5 1830.1 1146.8 2180.5 1193.8 1569.2 676.3 1330.5 1268.4 1779.9 926.7 2340.9 1281.0 1749.3 1325.5 1925.1 517.0 2302.8 265.5 1685.3 245.6 1886.7 1187.5 1517.7 1194.3 2124.7 914.9 2337.8 320.3 2111.9 1285.3 1901.3 581.8 2339.3 826.3 2361.6 417.7 2262.9 1268.5 1847.9 1145.3 2190.8 1271.1 1728.6 1248.1 1656.4 242.8 1903.8 373.5 2183.6 1301.5 1883.3 1020.8 1378.5 1283.8 1839.9 834.5 1330.8 374.6 2189.2 197.3 1683.4 1192.9 1550.5 1233.1 2045.5 949.4 1369.6 1144.2 2184.8 550.8 2316.9 207.1 1848.3 1203.2 2119.1 1127.6 2198.8 250.7 1690.2 1110.4 1459.5 1039.6 1415.8 940.6 2338.4 1261.3 1758.5 982.2 1373.1 1203.9 2115.6 210.1 1857.3 703.6 2384.4 400.2 2235.7 1217.4 1611.0 376.0 2213.4 220.2 1654.4 1268.6 2040.3 321.8 2133.9 215.8 1860.1 771.3 1332.3 436.9 1436.9 992.8 2310.9 885.8 2361.4 870.6 1333.2 884.1 1347.3 791.0 1328.3 950.7 1367.2 1267.9 1924.0 1289.6 1692.9 1270.0 2030.3 204.5 1797.7 1226.5 2057.2 220.4 1947.9 786.8 1319.3 191.6 1821.3 1220.3 1626.7 1263.6 2033.2 242.3 1800.8 1193.8 1552.9 839.6 1338.6 982.3 2311.0 1170.3 1533.1 173.3 1703.8 1239.5 2035.2 269.2 2010.2 1282.0 2070.0 779.3 2356.8 618.7 2342.9 725.9 2364.4 1268.6 1906.0 819.4 1334.1 1261.9 1938.5 244.0 1693.8 1289.9 1971.4 949.6 2334.9 1206.8 1597.2 264.6 1689.5 947.3 1363.5 1112.4 1443.9 1270.9 1704.9 333.4 1537.2 721.5 2366.0 1243.8 1671.9 1026.9 2294.8 907.6 2349.6 1282.0 1949.8 840.7 1338.7 1229.4 2042.4 415.2 1456.0 528.9 1380.0 269.0 1686.9 241.7 1917.0 251.0 1951.2 238.8 1998.6 1291.2 1696.6 700.1 1323.4 351.3 1512.4 1219.8 2065.5 578.7 2336.5 187.8 1821.0 762.0 2392.1 900.7 1353.4 1251.6 1658.3 777.1 1317.8 324.2 1548.5 247.8 2011.6 398.0 2250.6 446.6 1433.0 1287.0 1951.4 264.0 2039.0 487.2 2299.3 1248.0 1635.5 398.9 2258.1 382.8 2200.1 1283.4 1741.0 687.0 1326.3 246.2 1731.3 316.5 2112.7 430.3 2266.7 1277.4 1806.7 392.4 2216.0 306.0 2134.9 318.6 2109.4 1207.7 1587.4 1182.3 1543.0 1266.4 1818.1 1103.4 2223.2 1185.3 1535.8 1258.0 1733.0 1207.5 2111.4 1273.9 1688.0 1235.6 2066.4 245.1 1901.4 1226.7 1629.8 734.8 2385.3 375.1 2196.0 618.9 1341.8 1052.2 2274.1 1274.1 1937.3 1235.2 2031.8 896.5 2350.4 567.3 2333.1 371.8 2181.8 1286.3 1710.5 1295.3 1813.0 459.2 2287.6 699.4 2355.7 560.2 1362.9 645.1 2356.3 1113.9 2227.2 972.1 1377.1 1039.9 1413.0 683.6 2351.2 1157.3 1484.7 526.1 2305.1 312.1 1558.2 1195.7 1532.3 1219.7 1624.6 1299.9 1957.7 881.2 1346.1 1260.0 2042.2 445.1 1425.7 1273.4 1725.4 454.5 1429.9 1237.7 1657.0 274.4 2020.0 533.4 2306.2 140.5 1910.5 796.7 1315.5 1293.9 1949.5 527.9 1386.1 1267.9 1817.2 564.2 2320.6 1133.3 2216.4 438.4 2289.7 241.0 1876.5 237.8 1723.1 719.8 2358.8 1191.2 2128.9 1267.9 1772.5 1079.3 1420.2 619.1 2348.5 466.3 1408.0 309.4 2091.9 498.7 1400.2 1216.0 1560.9 244.9 1668.1 1182.8 1558.1 916.3 1343.7 1272.4 1992.1 899.6 1347.5 1263.4 1976.8 1179.8 2158.1 248.9 1773.4 1190.1 2122.7 204.1 1861.5 990.5 2309.8 253.4 2022.0 207.5 1848.8 1241.1 2050.5 716.6 1330.6 243.5 1903.3 1111.1 1474.8 447.8 1432.4 1266.1 1897.7 1272.0 1942.9 763.0 1329.2 210.3 1807.3 554.7 1366.8 242.2 2088.6 1275.5 1807.2 1269.0 1926.4 265.3 1633.1 978.5 1384.0 1200.1 2100.6 211.6 1835.4 1265.5 1940.9 245.2 1969.6 244.1 1809.5 320.3 2110.8 1015.5 1380.6 292.0 2069.4 460.0 1419.5 1067.0 1438.8 1206.9 1567.8 1250.5 1990.9 213.0 1783.1 1291.7 1872.0 742.5 2385.6 243.8 1751.1 226.1 1935.3 759.2 1319.2 666.3 2357.4 775.0 1311.9 578.1 2328.0 1299.1 1992.0 1191.7 1550.8 185.2 1731.8 215.3 1764.2 826.0 2357.7 781.6 2364.9 878.2 2356.1 356.8 2174.0 892.7 2340.1 504.7 1400.5 670.4 1337.2 454.0 1426.1 743.9 2362.4 1254.6 1978.6 208.8 1853.2 279.9 1630.8 1252.3 1657.3 700.5 1315.8 1243.8 1693.1 1294.7 1896.5 330.9 2170.0 686.7 2362.7 488.9 2280.5 446.3 2275.5 1275.8 1871.6 1134.9 1488.2 399.7 1475.8" fill="none" stroke="none" marker-start="url(#pm)" marker-mid="url(#pm)" marker-end="url(#pm)"/>
<path d="M393.4 1471.9 862.3 1306.7 842.0 1328.5 218.1 1920.4 980.4 1375.1 221.5 1946.9 1289.9 1888.4 1003.6 1393.2 224.6 1943.5 1095.8 1434.9 1211.5 1575.1 218.3 1689.7 233.9 1922.7 1259.4 1684.8 1273.0 1947.3 640.7 2387.4 1268.6 1731.5 683.3 2369.9 635.4 2345.0 241.8 1818.0 1293.4 1864.6 1053.2 1411.2 1027.2 2312.3 357.0 2300.7 457.2 2283.8 1296.3 1922.1 1026.7 2288.5 418.3 1447.8 835.6 1337.4 1230.8 1647.5 348.5 2163.1 1266.5 1768.9 1148.9 2189.9 1269.7 2037.0 547.3 1369.5 721.7 2363.9 671.2 2363.2 1223.9 1627.2 265.1 2017.7 1003.0 2294.2 979.3 1381.4 700.1 2379.6 246.9 1717.3 833.2 1336.7 858.5 1337.5 1182.3 2133.2 271.8 2008.0 828.6 1333.1 1229.5 2062.1 843.3 1336.5 1268.8 1721.5 1292.9 1964.1 509.0 2302.8 403.4 2221.4 410.6 1457.6 309.3 2100.9 592.5 1349.4 1290.6 1889.5 492.3 2325.2 322.0 2129.2 1242.2 2012.3 1168.9 1509.4 1036.7 2291.6 411.2 1451.2 1273.6 1744.3 1303.2 1846.6 910.1 1351.4 1021.2 2290.6 269.9 1674.1 1025.1 2292.3 276.5 2085.6 522.5 2307.2 732.3 2381.7 1171.5 1514.1 1119.0 2207.5 339.4 2249.7 984.0 1384.2 962.9 1373.6 264.8 1992.9 1018.3 2321.4 898.7 2337.8 379.1 2206.1 1143.7 1488.6 1051.0 1397.5 229.3 1695.4 765.3 1326.0 1133.1 2203.5 1001.2 1392.9 406.5 2270.3 772.1 2358.2 1255.4 1644.7 431.1 1446.3 1156.8 2166.6 1285.7 1881.3 996.4 1370.5 190.9 1756.6 319.3 2110.7 487.1 1410.1 1163.4 1498.5 1208.9 1590.0 447.8 1436.3 1281.6 1799.7 658.8 1332.2 492.1 2297.2 734.0 2357.2 1027.7 1406.6 1028.9 1389.6 822.9 1332.0 676.7 2351.9 207.6 1802.0 1299.7 2011.7 319.7 2128.4 526.3 1375.9 1288.6 1842.4 554.3 1372.0 895.4 1350.4 289.7 2067.6 1250.9 1646.6 982.2 1375.8 215.6 1786.4 983.5 1383.3 989.4 2313.1 842.5 1335.5 1278.4 1787.3 227.8 1764.6 1317.3 2014.6 213.5 1871.3 563.9 1368.1 512.5 2316.0 829.8 1325.0 242.1 1796.3 1017.6 2298.8 246.4 1799.1 1035.6 2286.1 1187.7 2144.0 1031.4 1411.2 369.3 1504.8 1063.3 1432.6 673.4 1331.1 248.1 1749.8 1279.2 1803.1 812.7 2355.6 440.9 2273.2 482.3 2304.7 244.7 1787.0 1204.9 1562.7 407.2 2246.9 536.3 1382.8 1135.4 1495.4 1230.4 1631.5 392.6 2217.9 1204.8 2105.5 1227.6 1628.7 953.6 1359.1 821.0 1335.0 556.4 2322.7 399.2 1459.2 1272.7 1860.7 248.3 1778.9 246.9 1801.8 1268.2 1911.3 1231.8 1657.6 1248.7 1648.7 758.1 1333.4 1003.5 1389.2 692.1 1324.2 775.1 2367.3 1093.7 2234.7 448.1 2280.6 1289.8 1893.8 1295.0 1842.9 863.5 2348.8 218.4 1897.4 442.8 2273.6 374.7 2194.1 773.2 2366.5 374.2 2197.5 711.0 1322.3 1284.2 1968.8 892.1 1351.7 1181.4 2130.5 1236.3 1667.0 751.2 2356.5 281.3 1617.8 1295.6 1912.0 1032.4 1403.1 1116.1 2214.0 906.2 1351.7 1174.1 1467.6 502.3 2314.2 1253.9 2024.8 703.7 2381.8 653.9 1342.3 347.1 1535.5 1057.0 2270.4 908.8 1343.1 864.0 1324.0 1101.7 1455.0 1284.1 1901.5 842.3 1335.8 1226.3 2085.2 1287.4 1746.4 266.7 2001.9 374.4 2208.9 134.6 1904.8 1120.2 1481.8 1269.3 1720.8 409.5 1467.9 375.9 2198.1 1032.6 2301.8 707.1 2369.8 1237.7 2096.0 1212.3 2196.4 203.4 1851.5 259.9 1695.0 1278.5 1982.3 704.7 1315.4 990.4 1385.3 799.1 1318.2 758.4 2356.5 705.9 2399.3 665.1 2363.3 488.0 1400.9 228.4 1996.0 797.3 1333.9 1088.7 2241.9 1118.2 1476.3 1248.7 1704.5 1045.5 2281.0 1282.4 1794.8 1199.6 1556.9 1240.2 1613.6 229.7 1998.9 332.1 2134.9 1203.4 2114.5 587.0 2328.7 846.2 1336.7 248.2 1910.6 810.2 1331.4 1010.0 1391.6 1250.8 1658.7 242.3 2010.8 1260.6 1978.5 1309.4 1950.7 352.0 2190.6 1267.6 1695.6 593.5 2345.9 660.0 2349.6 751.3 2365.3 1153.9 2193.8 1151.3 2183.0 1052.8 1419.7 445.7 1431.4 1262.7 1946.9 242.4 1726.4 313.7 2102.1 1219.3 1565.2 1193.5 1580.0 949.1 1366.3 822.4 1324.4 281.0 2036.7 1209.7 1605.2 986.3 1384.7 490.9 2302.7 1264.2 1743.1 430.0 1433.7 869.5 1345.7 840.4 2355.3 479.8 1409.8 243.5 1700.8 141.4 1905.5 1249.3 2016.4 770.7 1328.4 1282.0 1724.2 561.1 1359.3 647.3 2345.7 799.8 2356.5 494.4 2292.0 714.2 2433.4 245.7 1773.4 248.1 1945.5 1281.2 1972.7 232.5 1917.1 322.2 2162.4 951.7 2330.6 1263.7 1772.6 212.4 1846.5 282.1 2053.0 856.7 1335.6 249.9 1946.9 896.1 2340.6 474.9 1402.3 440.2 2268.1 285.6 2081.8 794.7 2372.5 1224.6 1626.7 1167.9 1500.2 1033.7 2296.6 307.4 1568.4 210.3 1854.9 393.5 2246.2 1116.1 2213.0 226.6 1943.6 604.9 1342.2 1211.0 2103.4 1316.3 1917.7 229.6 1969.4 1014.3 1384.7 1169.0 2187.2 709.6 2377.8 1062.8 2281.2 1268.9 1772.0 1086.1 1448.8 1179.0 1557.1 524.9 2306.4 551.5 2323.2 430.3 1430.6 1280.0 1917.8 1078.0 1440.9 871.7 2354.5 1106.9 2239.1 204.5 1858.3 1282.1 1792.2 292.0 2081.0 771.6 1265.8 197.2 1800.7 1004.3 1393.0 982.8 1366.3 1001.6 1388.3 272.2 2069.4 818.9 1336.8 1279.1 2031.8 911.5 1347.6 892.8 1346.8 795.4 1331.8 333.3 1556.7 462.5 1417.6 1194.9 2107.9 313.2 1560.2 763.4 1332.6 772.1 1328.3 1263.9 1699.2 399.5 2223.7 216.6 1784.2 681.9 1325.9 466.5 2273.5 1185.4 1533.1 1194.8 1551.3 851.0 2360.9 1071.4 2262.6 857.3 2357.5 1278.8 1878.4 1267.3 1694.3 301.2 2104.3 279.2 2042.3 209.6 1840.5 791.2 1305.8 1236.8 2039.3 204.1 1811.9 514.4 1392.1 254.8 1980.5 431.4 1431.1 592.0 2343.3 954.8 2330.3 886.0 2361.8 279.8 2041.2 820.7 2356.0 266.0 2021.9 686.2 2355.8 583.5 1354.4 1238.8 1616.1 281.8 2033.3 1327.3 1929.7 257.2 1619.6 584.2 1363.4 1275.7 1894.1 252.3 1969.4 1077.9 1435.3 1252.3 2002.0 1112.3 1471.7 386.1 1483.6 1158.6 2176.2 1225.0 2068.1 966.7 1372.2 686.7 1330.3 1276.3 1721.2 544.0 1372.6 943.5 1347.1 225.6 1891.5 1293.9 1792.2 300.9 2127.8 765.9 2393.0 221.4 1960.5 909.4 1357.0 985.4 1387.7 964.7 2322.6 290.1 2060.1 1077.0 2261.2 1086.7 2247.5 1180.1 1547.8 1274.4 1994.3 865.8 2350.3 1083.5 1430.7 669.5 2362.1 225.9 1967.5 464.7 2289.3 214.6 1848.9 345.2 1516.8 1268.7 1784.3 221.2 1799.0 1329.9 1914.9 1325.6 1961.5 633.2 2382.2 1268.2 1883.7 232.0 1880.7 334.7 1534.4 1281.1 1977.7 1271.8 1925.0 692.3 2367.4 1284.6 1886.4 460.9 1415.0 1194.3 1568.4 280.5 1645.4 1249.6 1993.6 791.8 1329.0 763.5 1323.0 701.7 2363.6 265.3 2048.9 223.9 1691.0 240.6 1694.0 1100.3 2236.5 979.7 1368.2 1260.7 1680.9 1057.6 1421.6 742.5 1315.4 1264.4 1783.5 1219.0 1574.5 269.4 2066.4 610.7 2351.5 471.4 2290.6 203.9 1799.9 1119.9 1478.1 254.1 1717.6 955.6 2317.9 794.4 1313.3 310.1 1588.2 429.0 2265.2 477.9 1413.9 254.4 1618.5 810.1 1330.7 762.6 1322.5 737.7 2366.0 1246.2 2000.3 1100.0 2225.2 213.7 1830.5 418.0 1454.1 1154.8 2197.1 671.4 2349.3 1155.9 1515.9 890.1 1349.6 716.1 2403.0 229.6 1923.1 1032.7 1387.6 265.6 2002.2 1290.8 1703.8 1271.3 1938.2 908.2 2333.2 374.2 2186.1 564.1 2320.2 1269.1 1714.9 247.5 1738.6 720.5 2400.8 707.7 2404.3 511.5 1383.2 652.0 1332.3 189.7 1829.4 468.8 2275.3 1250.3 2032.5 855.9 1328.3 296.4 2089.7 715.2 2362.9 1055.6 1409.4 1263.7 1767.3 688.3 2356.8 214.4 1810.7 1078.2 1444.4 739.8 2366.9 993.0 1370.8 1286.3 1769.8 1250.5 1992.5 889.8 2342.4 191.0 1842.2 528.6 2308.3 278.3 1629.4 348.0 2159.1 239.0 1639.3 1008.1 2292.1 523.1 2302.8 1280.9 2008.3 869.4 1344.0 1263.0 1759.3 422.6 2250.3 435.7 2269.4 1138.0 1487.2 1199.2 1553.9 848.1 1323.1 1278.2 1777.2 939.9 2323.7 207.4 1762.9 1272.5 1794.6 650.2 2368.1 259.0 1988.5 706.8 2414.6 1173.1 1546.6 268.5 1687.3 1311.3 1966.6 563.4 2319.0 441.9 2274.0 1281.9 1826.3 1258.5 2056.5 891.0 1349.2 1162.0 1520.6 387.6 2225.8 248.7 1966.8 927.0 1353.4 473.5 1404.3 186.4 1816.0 1217.6 1578.5 278.3 1620.2 219.0 1870.1 249.5 2014.2 1001.1 1393.8 457.0 1426.7 1274.5 1857.7 327.7 1562.6 476.1 2279.2 1282.6 1807.2 258.3 1675.8 259.8 2029.7 251.5 1698.1 993.9 2335.5 1282.0 1902.1 1276.6 1900.4 1257.3 1689.3 460.4 2268.9 574.3 2325.4 1265.8 1803.2 885.4 1349.2 655.9 2351.6 792.0 1335.8 305.5 1551.6 1276.9 2031.3 625.6 1348.4 645.1 1334.9 1187.6 2119.2 1268.0 1695.2 1022.7 2281.9 419.3 1447.0 550.8 2322.3 262.1 1691.8 1057.6 2283.6 238.1 1830.7 416.5 1460.4 1278.9 1801.6 246.4 1976.3 1071.6 2264.3 242.8 1768.8 1267.9 1849.0 1068.3 2260.6 1267.8 1816.5 871.6 1344.8 1150.4 1491.6 1280.7 1759.1 1300.3 2010.8 1303.5 1948.5 249.9 1689.5 1204.4 1599.7 980.7 2321.8 1163.4 2155.0 450.5 1425.9 1265.3 1694.1 392.5 1431.0 833.1 1329.1 645.6 2359.6 1171.9 1526.2 960.8 2326.3 673.6 1330.2 1294.4 1908.3 1240.3 2061.5 1273.2 2022.4 579.1 1361.3 744.8 1322.7 373.9 1483.4 269.0 2071.4 266.9 1997.7 978.6 1374.3 1291.6 1784.8 769.3 1302.4 880.2 1309.2 954.9 1371.4 1263.7 1773.3 404.1 2263.7 566.1 1367.4 247.7 1972.0 232.1 1852.5 860.4 1334.8 1312.2 1960.7 758.8 1332.1 1192.7 1576.3 1288.9 1856.3 166.1 1952.6 294.1 2078.9 288.6 2102.1 1252.4 1670.7 444.2 2278.0 419.5 1455.6 1232.1 2045.8 361.6 2177.2 217.0 1940.1 1108.2 2243.5 1097.0 1451.1 323.5 2150.2 327.1 2134.4 265.8 2020.2 1157.5 2188.6 1278.9 1829.1 1207.1 1585.8 1020.7 1377.8 985.1 1382.9 536.4 1364.7 1251.7 2018.5 1277.8 1923.0 1021.5 2290.2 814.5 1325.4 1275.4 1819.6 242.4 2005.9 1305.9 1934.4 1285.9 1715.2 324.5 1550.7 1298.5 1940.8 294.4 1617.0 1223.7 1572.0 1097.3 1435.5 267.4 1680.7 242.6 1729.1 189.8 1853.7 1237.2 1665.0 825.2 1323.0 504.4 2325.1 1187.3 2158.9 592.8 2345.7 514.3 2300.3 222.5 1948.8 1106.7 2247.2 529.5 2307.7 543.2 2313.5 356.1 1522.9 1133.5 1467.6 1040.7 2294.0 1012.6 1392.7 357.4 2171.2 1283.0 1885.2 597.9 2342.8 261.8 1985.7 195.2 1947.7 299.8 2123.4 958.7 2330.3 833.9 2358.9 440.1 2274.3 1236.6 1670.9 240.9 2006.9 317.3 2114.2 1266.7 2012.5 1301.1 2051.7 1229.2 1643.4 1068.3 1439.0 1238.4 2018.8 207.9 1768.7 464.5 2273.9 248.6 1746.5 1252.9 1694.5 444.3 2286.5 205.3 1821.7 977.6 1371.4 200.4 1791.9 239.3 1931.1 1202.1 2095.2 1271.3 1720.5 169.0 1743.7 781.6 2359.5 928.2 1358.9 609.6 1351.0 321.4 2135.9 1171.3 2154.5 974.2 2317.1 1153.1 1514.1 381.2 1496.2 191.1 1825.6 390.3 1481.0 1285.1 1782.6 1253.3 1647.3 219.3 1829.8 1171.0 1519.3 973.5 2326.5 231.4 1896.1 207.3 1824.9 631.0 2353.6 468.8 2299.9 966.4 1370.7 524.1 1385.7 330.1 1543.1 236.9 1910.5 230.6 1966.8 1266.9 1787.2 245.6 1807.9 705.3 1333.9 1274.3 1828.0 433.0 2251.9 225.8 1683.7 1248.4 1682.8 843.9 2366.1 245.1 1934.3 1164.3 2156.6 575.1 2325.6 351.9 2170.8 430.8 2284.5 264.7 2117.5 965.1 2336.4 854.3 1317.3 857.1 1334.8 1170.3 2165.0 1280.3 1821.7 1168.4 1541.1 841.2 1335.3 331.3 2140.6 1132.8 2201.7 246.5 1804.3 1288.1 2043.9 1022.5 2305.1 305.2 2197.4 763.2 2376.3 680.7 2379.8 810.8 2372.9 1206.3 2105.0 234.4 1864.7 1136.6 2204.3 1269.8 1787.7 316.3 2115.2 1034.3 1412.7 819.2 1327.9 1123.6 2207.6 303.1 2086.8 403.0 2216.7 889.3 1345.5 1160.0 1507.3 778.3 1328.2 271.1 2015.4 683.7 2372.7 245.6 1788.8 923.5 2336.0 218.1 1836.4 1257.4 1665.9 1217.0 1542.1 624.1 2347.1 188.8 1845.2 244.4 1911.3 295.8 2087.7 1281.4 1828.1 1206.9 1604.2 672.2 2377.0 334.2 2155.4 257.7 1728.2 278.9 1646.9 420.6 2265.9 1281.4 1775.5 252.2 1990.2 246.1 1725.2 300.4 1605.0 1283.1 1898.5 232.1 1683.7 247.2 1966.5 1283.9 1829.7 230.4 1896.3 1214.0 1616.5 539.2 1380.1 753.6 2394.9 859.5 1324.5 536.3 2310.2 477.0 2302.6 958.9 2336.8 433.3 2243.0 1282.2 1923.5 259.9 1698.1 213.1 1932.8 715.6 2375.7 1296.8 1860.6 1257.3 1948.2 225.6 1764.4 1081.3 1444.6 227.9 1949.5" fill="none" stroke="none" marker-start="url(#pm)" marker-mid="url(#pm)" marker-end="url(#pm)"/>
<path d="M1044.0 2304.7 1268.8 2104.1 1290.5 1711.6 749.8 2377.2 1282.3 1766.9 614.3 2344.9 1029.2 2304.2 1172.8 1547.3 407.8 1463.8 582.6 2328.5 823.2 1325.4 667.5 1336.4 717.1 2357.1 287.8 2062.5 1093.1 2259.8 1274.3 1743.8 397.1 2214.4 393.9 1428.3 269.0 1686.0 232.7 1908.6 243.0 1884.1 236.8 1947.3 525.3 2307.0 1230.7 1644.8 959.5 2316.5 427.3 2253.3 220.2 1730.5 859.3 2353.7 1238.2 2046.0 777.2 2360.8 224.9 1972.7 329.1 2134.9 591.6 1358.5 1029.7 2308.5 213.1 1816.5 1113.8 1472.3 891.6 1331.0 1143.9 1487.1 436.2 1429.7 1184.4 1539.0 844.0 2357.7 207.1 1814.4 427.1 1454.1 1050.2 1423.7 964.1 2316.9 1252.1 1979.5 1267.4 1924.8 1283.6 2005.4 901.3 1348.5 349.9 1528.5 1184.0 2143.4 1274.8 1813.1 1082.7 1441.1 1281.0 1799.7 1220.9 1598.0 559.3 2329.0 221.5 1985.2 302.5 2088.3 249.3 1749.2 263.0 2053.7 242.8 1908.4 797.9 1329.8 273.9 1667.8 198.7 1695.5 837.1 2352.3 1269.3 1776.5 1169.9 1531.9 885.2 1346.3 804.5 1320.0 1262.1 1941.9 246.0 1740.8 1180.2 1551.5 1258.2 1669.4 1190.7 1550.6 495.2 1400.7 202.4 1880.2 711.6 2373.9 1265.7 1939.9 1246.0 1645.2 874.4 1302.8 243.1 1708.8 862.0 1333.5 1136.5 2220.3 277.0 1645.2 228.7 1984.7 1008.4 2304.2 202.1 1795.8 243.8 1884.1 655.0 1334.8 280.8 1630.7 1098.0 1449.4 1024.1 2301.4 315.9 2152.8 820.7 1329.4 352.1 2176.6 243.8 1906.8 1116.5 2230.2 1156.7 1513.5 345.6 2164.9 1006.6 2297.8 407.9 1471.6 544.0 2315.2 237.0 1940.2 875.3 1336.5 1140.2 1489.1 1083.1 2239.8 1144.1 1472.8 1105.4 1465.2 357.7 1498.4 814.9 1335.6 1215.6 1540.2 1179.6 1542.8 938.6 2325.5 743.6 1326.8 967.8 1372.9 230.3 1874.5 389.0 2228.6 309.9 2110.8 1252.5 1681.7 1289.2 1696.4 245.1 1787.1 1180.2 1545.4 465.8 1419.9 1181.2 1524.5 270.2 2027.4 531.0 1381.8 984.0 1387.0 1286.8 1959.3 831.5 1327.8 1215.1 1619.5 553.0 1367.4 486.7 2307.7 1112.6 2233.5 965.5 1376.7 604.1 2345.8 236.6 1994.0 444.2 2277.1 792.9 1325.1 1118.5 2229.1 241.4 2005.8 1288.6 1846.0 207.3 1797.1 1252.5 2042.9 1082.7 1444.9 1130.2 2221.5 1091.6 2235.0 242.4 1738.4 1262.3 1675.2 214.7 1917.7 713.1 2401.7 1129.9 2217.4 949.7 2323.7 1120.2 1464.8 316.2 2107.9 1278.8 1886.8 1205.7 1545.9 1167.0 2152.9 437.9 2253.5 219.3 1792.3 271.9 2079.8 684.1 2356.1 992.3 1386.9 284.3 1602.1 596.1 2343.6 197.5 1717.2 1012.5 2302.5 723.4 1326.0 1272.4 1810.8 1225.9 2083.4 1214.3 1474.2 198.3 1782.4 547.6 1372.2 1263.3 1681.0 1272.2 1850.5 1181.6 2137.9 1263.9 1761.4 918.0 2347.2 245.6 1731.0 1211.6 1611.1 795.2 1323.9 559.6 2325.3 485.2 2313.8 728.0 2358.1 347.9 1510.5 1215.5 2103.5 806.4 1323.4 1079.6 1436.8 746.3 2376.3 403.3 1474.5 1229.9 2102.5 1104.1 1466.4 192.1 1839.6 571.7 1358.4 324.0 2122.3 1038.5 1411.1 415.0 2248.2 971.2 2311.9 324.0 2126.3 1029.4 1389.0 245.6 1736.5 1107.3 1469.9 1226.8 1599.0 215.7 1933.3 1063.3 1437.3 958.6 1370.9 1284.3 1784.1 315.6 1587.2 229.2 1967.0 1010.4 2295.7 1283.4 1759.5 223.1 1946.2 509.3 2306.8 1127.5 1482.0 309.3 1561.6 572.6 1362.9 1185.6 1565.3 245.4 1774.1 1077.1 2253.4 499.0 2325.8 223.4 1961.3 652.1 2356.5 247.4 1950.4 803.4 2367.7 860.8 2357.1 231.3 1979.9 1294.3 1878.1 279.3 2077.7 1066.1 1427.8 823.0 1335.2 908.8 1340.6 1287.1 1902.7 1249.7 1981.7 970.6 1356.7 914.7 1347.8 424.0 1452.4 242.3 2000.3 882.6 1346.1 426.7 1450.6 1123.9 2223.5 302.5 2101.9 1266.8 1701.1 1200.5 1553.8 1132.6 1497.6 1267.3 1735.3 1254.5 1719.4 775.9 1291.6 480.5 2306.4 986.5 2308.1 1157.5 1498.6 1270.2 1897.0 244.5 2017.3 1292.7 1898.5 1236.8 2124.6 559.3 1361.9 1200.6 1585.0 694.9 2376.5 1126.6 2213.3 1251.4 1681.9 242.8 1708.8 1274.1 2040.4 216.0 1870.5 321.6 2132.7 228.0 1694.5 210.5 1780.6 1244.1 1689.1 1201.1 2112.2 878.6 2349.5 1274.4 1714.0 379.6 2196.1 1247.4 1598.5 496.5 2302.5 1067.3 1405.5 232.3 1912.5 1304.1 1946.5 1220.6 1592.3 499.4 1390.5 339.4 1540.7 1271.6 1850.6 813.3 1331.5 1260.5 1957.7 930.6 2330.6 1289.3 1981.4 487.0 1392.7 665.0 1341.1 1261.1 1730.0 1060.2 2289.1 775.5 1289.2 494.6 1398.3 648.4 2357.0 1242.5 1680.4 276.6 2046.4 259.8 2032.3 673.3 2376.0 1009.5 2316.3 688.4 1326.5 975.0 1371.4 406.9 2239.8 1270.6 1808.7 1266.0 1734.0 386.2 2211.0 983.4 2330.5 429.6 1439.3 904.9 1350.3 954.6 2324.2 1284.7 1963.3 966.4 2325.3 334.7 1494.3 645.2 2354.0 270.5 1683.3 1027.9 1383.4 833.9 1334.7 359.4 1508.9 386.9 2252.5 829.6 1336.7 245.0 1798.1 449.1 1433.3 1290.6 1765.8 180.3 1686.7 1220.0 2067.1 361.0 1515.3 1332.6 1923.7 591.3 1353.9 357.1 2165.9 1160.0 1511.7 885.9 1348.7 1012.4 2292.9 1283.1 1878.3 1274.5 1955.8 878.8 1342.5 424.5 2239.8 321.4 2134.3 416.8 2276.3 1315.0 2024.1 234.1 1966.9 1255.4 1677.0 306.2 2091.2 1202.5 2104.8 293.7 2085.7 1069.8 1423.5 1247.7 2041.7 419.6 2264.8 246.2 1782.9 381.6 1491.6 1279.6 1713.2 484.6 2293.3 1265.5 1949.2 1168.0 2166.1 252.6 1684.7 240.6 1984.7 987.9 1376.3 223.9 1693.1 1287.7 1975.7 271.6 2010.6 417.3 1460.4 1230.0 1601.3 406.9 2221.9 833.6 2354.5 241.6 1781.7 333.8 1486.9 273.1 1663.8 1274.7 1805.4 386.0 2214.6 438.3 2248.0 1269.3 1903.3 902.2 2335.1 1222.1 1627.6 205.8 1821.6 1076.1 1439.7 318.9 1579.3 348.5 1524.3 1305.2 1889.7 320.6 2141.5 251.9 1681.1 333.6 1531.7 238.5 1948.9 804.6 1323.8 500.2 2296.1 921.7 2334.3 1293.5 1974.6 859.6 2362.5 248.7 1931.5 504.7 2312.4 1223.1 1634.3 838.9 2354.3 1159.9 1501.5 677.5 2350.2 818.6 1331.4 1271.9 1718.1 1278.8 1714.4 1163.6 2158.6 686.5 2351.8 525.6 1371.8 1194.8 1575.3 388.4 2210.3 969.3 1364.6 189.8 1843.2 436.8 2249.7 1294.0 1975.2 978.8 2313.0 1275.2 1949.2 1250.7 1675.6 903.4 2348.9 1207.2 1603.1 1245.6 1648.1 723.8 1321.6 1211.8 2101.7 304.0 2113.0 1009.2 2304.1 1226.9 1641.5 193.0 1840.5 862.3 1334.9 773.4 2369.4 339.4 1519.9 482.1 1402.1 249.9 1939.8 415.1 2263.2 1248.0 1625.0 745.3 2369.0 1226.8 1645.4 425.0 1451.2 293.2 1620.2 1062.5 1345.2 1175.8 1554.6 540.6 2325.5 326.2 2128.2 1227.9 1631.5 487.7 1395.4 1140.9 2189.4 237.5 1902.4 1161.9 2196.1 1239.0 2076.5 486.3 2306.2 246.1 1899.5 1221.9 1572.6 1099.3 1447.2 351.4 2166.5 464.1 2268.8 434.6 1441.3 1244.5 1998.9 1177.7 1537.1 284.7 1607.6 916.5 2349.4 458.2 2291.3 475.0 2312.0 336.5 2171.0 1105.2 1452.1 502.3 2300.1 998.2 1389.5 1278.0 1909.9 1271.4 1852.0 1132.8 2269.3 1212.1 1600.6 1140.7 2199.6 1277.6 1814.6 621.0 2347.0 708.7 2362.9 262.4 2005.3 286.6 1641.3 1229.1 1595.0 164.0 1986.4 1162.9 1534.6 768.5 2364.2 1177.6 1465.8 1268.0 1971.1 278.9 2038.5 965.9 2327.0 744.2 2363.7 1275.7 1808.1 567.4 2324.3 609.1 2344.0 382.4 2254.0 1286.7 1972.3 1015.5 1403.3 278.7 1647.8 1206.7 2125.6 1282.8 1899.4 714.8 2435.1 1264.7 1710.9 442.2 1440.7 1282.4 1963.6 380.1 2193.5 1243.7 2022.2 1077.0 1439.7 356.8 2176.9 1011.2 1396.9 527.7 2319.5 1310.5 2038.9 224.3 1883.5 339.5 1521.6 243.8 1744.7 509.6 2315.5 458.7 2261.8 484.4 2279.1 1033.9 1377.8 1078.0 2255.8 448.4 2305.4 1178.5 2150.3 1270.4 1861.0 1011.5 2324.5 965.9 1374.2 334.5 2136.8 1289.5 1963.9 351.4 1508.1 1222.3 2062.2 1144.0 2177.2 318.0 1559.6 612.1 2344.9 961.1 1375.8 805.1 1333.8 988.9 1367.8 1213.4 1597.6 274.4 2078.5 267.5 1999.8 477.9 1405.8 1147.0 1509.7 727.3 1328.7 1245.9 1632.4 849.9 2363.5 1279.1 1704.9 221.6 1963.7 370.2 1491.3 405.5 2259.3 817.6 2355.7 853.5 2361.7 740.2 1323.6 976.6 1368.9 1190.7 2211.1 475.6 1416.2 1288.8 1887.6 475.3 1418.5 1270.4 1903.4 1192.5 1561.3 246.6 1779.1 1272.9 1747.9 803.8 1321.3 288.2 1634.5 397.6 2224.9 1275.0 1935.7 827.3 1333.6 626.8 2350.4 270.3 1653.7 250.7 1769.2 684.0 2355.4 1067.4 1406.3 922.4 1348.1 1196.0 2103.8 319.6 1554.4 317.8 1579.9 1280.4 1724.3 1278.3 1797.0 1208.5 2111.9 854.3 2356.4 411.3 2256.1 270.0 1673.8 476.5 2281.2 664.0 2362.7 1001.0 1386.9 212.7 1826.1 669.2 2349.8 227.6 1636.9 749.8 2377.5 1098.9 2251.1 1191.7 2140.3 1259.8 1957.1 1106.2 2236.2 249.0 1718.7 250.9 1951.5 999.5 1384.1 363.1 1508.1 1300.4 2053.4 998.1 2327.7 766.3 2369.9 351.2 1515.1 236.4 1912.4 199.7 1805.6 1250.6 2032.1 1182.6 1544.8 437.2 2245.6 1272.6 1810.1 253.8 2039.4 292.5 1622.3 210.8 1779.9 244.0 1850.8 1280.3 1804.6 499.4 1386.7 754.4 2373.0 1279.7 1727.1 1074.1 2259.8 239.0 1746.2 1333.5 1902.8 1175.0 2149.1 207.9 1869.2 276.7 2029.8 974.3 1382.6 380.2 2205.2 804.3 2368.2 517.0 1377.3 351.6 2180.9 217.8 1919.1 1253.1 1675.7 616.9 2343.2 241.6 1697.3 471.8 1419.7 652.3 1336.6 1061.7 1425.4 489.6 2281.1 567.5 1361.2 690.6 1322.3 1271.0 1782.3 1059.3 2280.0 1221.9 1592.6 1270.2 1721.9 248.2 1753.9 1158.5 2184.9 354.6 2162.0 1289.2 1768.0 1001.7 1388.4 244.9 2018.2 1042.3 2308.5 1289.1 1700.9 1151.3 2171.5 440.9 1435.9 665.5 1327.4 251.6 1687.8 219.2 1948.4 273.2 2060.0 950.7 2329.2 530.0 2307.4 355.2 1512.2 862.8 2355.3 1271.6 1893.0 190.6 1769.2 1197.3 2117.7 245.8 1771.5 1277.6 1956.1 1170.7 1519.3 1284.7 1784.4 713.5 2360.7 625.7 1335.9 1108.9 1447.2 1207.4 1588.4 1134.5 2236.4 740.2 1324.0 236.6 2006.9 1244.5 2005.8 243.6 1812.0 1289.4 1919.9 894.0 2338.5 262.5 1657.2 281.2 2076.8 998.6 1394.4 231.7 1893.4 383.8 1479.6 1252.8 1691.3 205.4 1793.1 1099.0 1452.5 729.1 1329.6 210.0 1818.3 575.4 1352.3 279.2 2051.8 1199.9 1587.8 1214.7 2078.0 247.9 1989.7 490.0 2281.7 1263.1 1780.9 722.2 1328.2 250.1 2015.2 217.1 1836.2 260.8 1981.6 927.1 2336.8 228.1 1924.6 867.3 1295.5 342.6 2149.6 299.0 1614.3 899.8 2355.5 945.7 2343.3 960.4 2329.0 246.1 1692.6 1213.2 1583.3 1278.1 1979.9 325.5 2121.1 1288.8 1923.8 242.1 1806.7 811.2 2356.0 307.1 1595.3 1270.7 1720.3 220.2 1869.0 200.1 1795.1 985.1 1386.7 186.8 1871.2 901.6 1354.4 1287.4 2039.4 231.3 1857.3 1138.3 2187.5 778.1 2378.8 910.1 2350.1 271.4 1621.6 212.3 1824.3 524.8 2302.1 1073.9 1443.8 218.7 1961.6 907.4 1351.9 650.1 2355.3 573.9 1354.8 1007.4 2301.5 279.0 1643.6 231.3 1916.9 1178.1 1542.3 422.7 1456.7 490.1 1396.3 201.7 1792.2 788.6 1327.1 371.2 2189.1 404.6 2221.7 249.5 1969.9 564.2 1362.8 1222.1 1631.1 1294.4 1960.1 265.2 1659.0 240.9 2005.1 1267.1 1920.8 265.2 1684.1 949.5 1351.1 1033.0 2291.9 1183.1 1535.4 990.1 1385.3 212.0 1850.4 1183.6 2146.4 495.1 1402.8 1270.8 1913.7 241.9 1861.9 254.2 1974.8 646.8 2356.4 221.3 1761.7 951.1 1373.2 381.3 2222.8 1025.9 2304.7 531.0 1375.9 1292.7 1863.7 1272.3 1723.3 1271.7 1800.3 1265.2 1737.8 243.3 1734.2 301.0 2121.3 366.0 2196.1 1266.6 1896.6 1148.8 1510.9 604.1 2354.8 665.6 1332.1 1048.8 2268.0 1196.8 2106.9 208.9 1853.6 1013.1 1398.2 1253.1 1973.6 1293.6 1825.5 1142.4 1489.8 1095.8 2232.6 254.3 1972.9 1292.1 2045.6 1175.7 2145.9 803.5 1332.6 862.3 1308.5 1078.7 1404.7 927.7 1344.9 1295.4 1714.8 798.5 2372.7 1037.1 1394.7 232.2 1980.0 1288.6 1904.4 699.9 2357.7 237.5 1852.8 1104.6 1463.2 1258.8 1724.6 503.4 1392.0 1283.8 1737.8 212.4 1849.5 1269.1 1829.3 917.9 2345.0 235.7 1816.1 244.5 1793.1 214.1 1867.4 387.8 2248.6 135.3 1904.6 213.8 1748.8 894.7 1351.0 792.3 2372.7 1235.8 1660.2 1274.2 1753.8 882.9 2352.0 1184.2 2126.0 309.5 1562.7 1273.1 1942.3 847.6 2361.9 1300.1 1991.4 1130.3 1358.7 1275.0 1860.4 235.1 1757.5 1111.7 1444.5 1123.2 2202.3 1220.1 2088.4" fill="none" stroke="none" marker-start="url(#pm)" marker-mid="url(#pm)" marker-end="url(#pm)"/>
<path d="M829.9 1335.9 495.6 1392.8 1106.9 1456.4 588.9 1352.7 769.9 2374.4 962.3 1371.7 1282.0 1774.1 822.6 1334.5 441.5 1441.1 450.7 1428.8 497.7 2293.4 1247.9 1692.6 1084.1 2238.3 619.1 2339.8 1276.6 1915.5 1157.2 2169.1 720.2 2413.2 481.5 1410.6 244.2 1736.1 1275.5 1808.1 775.2 1296.2 876.8 2353.6 221.0 1691.0 1280.9 1723.9 1265.3 1934.7 750.3 2360.0 589.9 2342.3 957.5 2331.2 777.0 2356.5 250.5 2009.0 803.1 2370.8 1269.6 1749.9 1065.8 1438.4 811.9 1330.9 1292.5 1786.4 1282.5 1754.6 209.8 1805.7 1111.5 1437.5 408.2 2239.4 623.4 2350.8 1110.4 1459.0 244.9 1783.7 1173.4 1545.5 302.9 2110.5 191.7 1860.2 1323.6 1959.4 1120.9 1486.1 557.7 1368.4 1277.5 1773.1 217.7 1691.0 260.4 2031.3 247.6 1799.1 306.7 1582.9 782.0 2369.2 805.3 2361.2 309.2 1587.4 1056.8 2264.9 1044.7 1416.8 610.0 2345.8 1141.7 2193.3 1203.6 2116.4 540.4 2310.3 669.3 1327.7 207.2 1797.7 489.5 1397.9 344.3 2149.2 337.0 2143.8 1285.7 1898.3 1118.8 1469.0 1269.9 1895.2 465.0 2289.2 598.4 2347.3 1252.3 1689.8 225.5 1963.3 243.0 1887.8 249.5 1961.0 1293.3 1846.3 1279.9 1722.9 666.9 1336.2 495.9 2306.6 245.8 1727.0 389.8 2205.2 232.2 1882.4 433.6 2246.9 243.8 1710.1 769.6 1312.7 296.3 2096.1 291.7 1606.1 512.7 2316.8 979.8 2310.1 1184.8 2137.4 1190.3 2145.3 860.1 1312.0 187.4 1839.1 1234.3 1622.6 881.8 1309.8 1168.1 1519.7 1280.2 1961.7 827.9 1333.7 931.7 1353.6 389.1 2232.6 245.3 1784.3 213.2 1787.1 268.1 2050.6 1160.4 2185.4 174.9 1688.6 322.8 2162.1 1288.8 1838.0 1212.1 1555.8 385.6 1492.4 1268.8 1819.2 760.0 1264.6 1271.6 1724.8 325.4 2127.7 345.3 2157.6 1284.3 1988.4 1142.7 2183.9 1185.3 2151.1 1009.7 1390.7 616.2 1344.8 929.5 1353.7 1088.8 1428.2 222.0 1798.3 862.6 1304.5 234.0 1646.2 471.6 2275.7 459.4 2267.4 248.4 1751.1 1261.2 2034.7 922.6 2345.6 1299.4 1931.7 192.6 1850.2 1259.6 1978.7 607.8 1354.1 686.9 2351.6 249.2 1992.6 923.5 2332.8 266.1 1624.0 445.3 1439.1 425.1 2243.7 1170.0 2224.0 268.5 2061.5 530.0 2309.6 690.3 2388.7 873.4 2349.9 870.6 2347.7 371.0 2195.6 1116.9 2210.0 191.1 1761.5 1223.0 2071.6 230.5 1946.2 1266.1 1702.0 467.2 2300.5 241.0 1717.9 1294.4 1802.9 367.0 2179.4 243.5 1816.0 333.2 2143.9 1157.5 2166.7 1189.6 1549.6 693.0 1330.6 675.5 2354.7 1252.4 1714.8 900.8 2336.1 769.0 2378.1 577.9 2326.1 983.1 1384.4 318.9 1567.5 970.8 2315.8 220.0 1973.6 254.5 1948.0 1274.3 1772.2 1266.9 1697.8 505.0 1397.5 247.4 1926.7 496.3 2307.9 433.2 2286.7 202.7 1857.6 827.7 2358.2 671.0 2360.1 646.0 1339.7 388.7 2212.3 1072.7 1444.6 1098.0 1444.9 1091.4 1455.3 1074.2 1435.0 561.2 1362.5 901.3 2335.3 1214.9 2071.4 206.5 1686.1 279.1 1640.8 478.4 2293.9 243.3 1786.2 619.9 1346.0 372.3 2181.8 1089.6 2241.0 188.5 1819.1 1276.4 1938.3 1009.9 1382.1 1278.6 1759.7 805.3 2368.5 1289.2 1792.1 1165.4 1501.2 1133.2 2210.6 792.2 1334.6 1282.6 1965.1 1286.6 1901.8 821.7 2367.5 1280.9 1865.7 698.0 2375.6 241.7 1676.9 271.4 2064.2 190.7 1861.4 1054.8 2299.2 976.1 1373.9 1041.9 1415.2 1179.6 1525.9 193.4 1810.8 1036.1 1411.4 824.7 2356.1 513.2 1389.7 805.5 1331.1 231.3 1875.9 1277.8 1920.9 1162.5 2160.5 820.7 1337.3 944.4 2324.2 830.4 1334.5 1266.1 1733.2 246.6 1786.2 1133.5 1486.0 628.5 1303.6 261.6 2060.6 1051.3 1383.9 225.1 1761.6 1184.1 2132.6 1249.8 1689.7 798.5 1330.0 213.3 1820.3 392.8 1482.8 404.9 1455.0 366.7 1501.8 406.6 1465.4 744.0 1333.6 1256.5 1737.7 864.4 2373.3 393.6 1481.0 656.3 2352.9 299.6 2103.6 1294.4 2051.3 990.7 1387.0 1246.2 1694.9 1088.5 2235.4 943.3 2333.2 222.2 1913.7 1112.0 1468.4 1305.5 1896.0 1168.9 1495.1 621.9 2352.8 1324.2 1974.3 231.5 1860.9 448.6 2264.1 1033.3 1413.4 1236.7 2044.3 405.0 2221.5 986.4 1387.1 268.0 1673.1 989.8 2319.4 1233.5 2051.8 530.2 1371.9 316.4 1584.0 445.0 2259.2 964.7 1354.3 1158.3 1510.9 225.7 1989.9 696.0 1319.8 204.2 1805.4 847.1 2350.1 968.3 1372.2 1125.1 2219.7 242.5 1906.6 214.1 1850.8 231.9 1859.8 537.8 2308.1 965.0 2334.1 603.3 1352.0 1119.3 2207.5 1269.8 1855.0 521.5 1383.7 1108.2 1449.7 1278.6 1903.2 770.0 2358.2 868.6 1334.1 223.5 1982.1 1170.3 1518.9 1108.0 1467.5 1259.0 1695.5 320.3 2115.5 267.6 2024.6 766.0 2367.0 365.3 2207.1 202.9 1797.9 1215.4 2075.5 909.7 2338.5 902.8 1350.5 974.5 2316.2 294.5 1618.9 326.2 1561.1 1133.8 1482.3 902.1 2335.1 1117.6 2210.3 1200.5 2104.1 208.7 1830.8 1281.5 1972.2 962.6 2344.6 393.3 1431.1 896.6 1332.6 228.8 1924.7 966.9 2316.5 949.9 2337.6 765.0 1309.8 1261.2 1755.8 1247.3 2039.2 221.4 1966.7 355.2 1505.7 230.4 1683.7 225.7 1685.7 228.6 1878.7 250.8 1770.3 1160.4 1519.8 1055.2 1408.4 1025.4 2284.5 233.8 1911.3 269.0 1679.4 1105.4 1452.9 276.2 2051.6 343.6 2158.8 1270.9 1853.8 1270.3 1786.4 345.5 2157.7 1171.5 1521.0 998.6 1392.4 398.8 1478.5 1235.0 1591.5 277.0 2030.3 944.0 2332.3 442.3 2261.2 1155.7 2201.9 1282.9 1777.3 368.3 1512.6 841.5 1336.8 241.2 1715.4 1039.9 2297.8 274.7 2087.6 1266.1 1970.9 1285.4 1715.4 1194.0 1553.3 263.1 1998.7 621.0 2345.9 1295.5 2033.5 370.6 2180.9 1270.4 1806.2 1087.0 2258.4 1020.0 2290.2 222.9 1953.6 311.1 1579.2 1249.6 1678.2 1235.3 1663.2 1116.2 2209.8 1100.4 2239.7 1212.3 1604.3 1216.1 2096.4 840.8 2351.9 686.5 2351.6 300.0 1597.4 494.6 1406.4 713.9 2369.4 227.3 1923.7 302.0 2105.1 834.9 1335.4 585.0 1353.8 1168.2 2169.2 1104.9 1452.1 1061.2 2274.5 1192.9 1558.3 206.6 1828.1 1269.1 1868.5 247.4 1912.8 879.3 2351.2 736.9 2369.0 248.0 1773.0 1278.1 1957.8 1005.3 2293.6 1251.2 1685.4 838.1 2351.9 232.5 1964.9 351.4 2167.7 1136.2 1483.8 964.0 1375.6 420.7 2267.8 878.9 1307.5 230.2 1690.5 483.3 1411.3 177.4 1698.5 1025.9 2309.9 579.0 1363.5 826.5 1335.2 1112.0 2218.5 373.1 1501.6 228.1 1650.0 273.1 1640.0 1266.4 1897.9 1139.9 1486.4 393.1 1474.7 1049.6 1417.8 844.2 1318.6 297.0 2092.6 594.2 2333.6 1268.5 1849.1 313.9 2123.7 1006.4 2319.2 1304.4 1967.0 367.4 1502.7 1199.4 2122.3 432.8 1437.1 1210.2 2080.2 285.1 2055.0 1298.4 1919.7 1002.8 2319.7 1236.1 1634.8 1269.3 1735.3 1115.8 2234.0 761.3 1331.9 704.3 2361.0 1154.9 2169.8 1168.4 1523.1 792.1 1330.6 276.9 1627.1 1263.1 1973.4 617.6 1303.5 1302.2 1965.5 589.9 2330.6 825.9 1335.3 451.3 2297.2 324.7 1551.4 219.4 1920.4 997.9 2314.5 1269.9 1984.2 1140.0 2217.6 1115.9 1463.0 1232.9 1645.8 966.5 2318.5 769.6 1332.4 873.3 1320.1 685.3 2368.2 804.5 2354.1 244.8 1904.3 1280.7 1788.1 616.5 2346.1 220.5 1967.6 1283.8 2011.7 1015.3 2297.7 826.8 1320.7 1251.3 1654.8 682.4 2351.0 551.6 1374.1 375.7 2187.8 875.4 2364.4 1169.0 1526.8 581.9 1353.6 799.9 1330.6 1252.9 1962.2 1284.6 1860.2 226.4 1927.5 1265.9 1736.6 306.0 2197.5 264.0 1647.1 245.6 1891.6 218.2 1922.1 899.8 2340.8 774.0 1266.2 937.0 2324.5 363.1 1503.1 1265.4 2041.1 304.8 2118.3 407.2 2223.6 247.9 1762.8 1250.7 1637.0 1027.6 1406.5 549.6 1363.4 405.3 1451.1 247.2 1777.9 1267.0 1761.0 1212.7 2113.5 1271.8 1772.2 460.5 2288.1 824.8 1333.2 244.0 1803.6 458.6 2287.9 238.7 1929.3 629.1 2364.2 638.6 2346.2 1268.1 1743.7 382.6 2206.3 280.4 2057.8 1193.5 1549.6 520.5 1378.4 774.7 1306.1 1265.9 1700.1 250.4 1950.5 1205.4 1562.7 1194.9 2113.7 244.1 2084.7 1296.7 1794.6 1293.8 1975.4 494.6 2290.9 249.3 1965.8 1287.1 1923.4 255.6 2006.6 995.6 1388.0 765.8 1313.5 992.0 1391.4 239.4 1713.4 896.8 1334.7 845.5 2350.6 1163.3 2175.9 380.3 1496.0 1290.3 1884.4 807.9 1334.5 1145.1 1511.3 549.2 1371.7 883.7 1321.4 1275.8 1723.8 170.4 1701.1 474.5 2281.7 1260.9 1740.3 1178.5 1537.9 1060.6 2269.3 987.8 1384.7 286.5 2100.6 1168.4 1541.5 1071.8 1420.0 243.8 1712.1 1191.2 1566.7 237.0 1887.0 855.5 2348.8 1250.6 1626.1 247.6 1943.4 209.6 1847.0 210.0 1837.7 296.7 2080.8 379.4 1476.9 880.1 1328.6 246.5 1795.4 1281.3 1869.3 1108.4 1472.3 246.9 1896.3 1088.5 1436.2 1180.9 2157.8 1111.2 2226.8 982.3 2309.9 244.8 1779.1 351.6 2161.9 466.7 1414.0 408.5 1471.1 883.1 2349.1 912.4 2342.7 939.3 1346.8 1170.5 1497.0 825.1 1334.6 1236.4 1611.0 1283.9 1706.9 286.8 2070.8 414.3 2259.7 1154.4 1496.5 276.6 1611.8 1089.2 2238.3 1003.1 1395.1 1284.6 1852.8 484.2 2277.5 671.6 2355.9 273.8 1666.5 1142.4 2186.8 803.3 2372.6 1089.7 2238.3 1255.4 1729.5 1126.0 2218.0 1026.2 1401.1 690.1 2361.6 406.4 1459.7 990.3 1381.8 279.4 2035.7 438.5 1442.6 665.5 2351.1 609.4 1342.4 229.5 1971.9 1108.5 2234.6 1277.3 1984.7 249.9 1784.6 212.7 1766.6 1291.3 1772.3 1125.9 1461.3 1119.8 1477.7 1277.4 1929.6 510.1 1395.0 358.7 2181.4 541.0 2316.7 247.6 1703.7 604.8 2346.8 272.7 2016.6 467.7 1417.5 256.3 1726.6 228.2 1996.4 942.9 2333.0 504.0 2327.9 382.6 2197.7 1210.4 2106.2 783.3 1330.1 271.5 1625.5 483.8 2277.3 906.8 2337.7 1166.2 1541.2 803.5 1332.5 1033.4 2281.1 1151.0 1496.7 1266.9 1782.2 468.5 2285.8 715.7 2405.4 1104.6 2237.2 244.4 1731.9 693.8 1324.3 1224.3 2068.4 908.1 1355.7 1199.7 2127.7 386.8 2208.2 463.0 2278.5 1282.2 1967.3 1291.6 1876.7 284.8 1616.1 208.6 1811.5 272.2 1665.7 295.5 2084.8 1235.9 1639.5 972.2 2310.1 1231.7 1619.6 243.9 1722.8 1076.4 2259.3 492.5 2331.2 233.3 1856.7 186.9 1818.3 745.6 1310.0 997.8 2320.1 354.8 1519.1 1296.4 1944.0 1073.1 1428.3 274.3 2039.2 270.9 2026.2 280.5 2052.7 1292.6 1978.3 771.1 2358.9 212.8 1823.2 564.1 2328.3 348.9 2165.3 1164.3 2158.5 1112.4 1452.2 212.4 1771.3 1176.1 1525.5 1266.5 1735.4 630.9 2367.0 1304.3 2022.4 1176.2 2142.7 990.0 1389.2 384.0 2199.8 433.5 1443.6 573.6 2332.2 1272.7 1884.5 1020.4 1393.7 1201.4 1558.3 1299.2 1956.0 220.3 1836.5 1263.1 1766.1 1270.7 1772.5 191.9 1839.2 249.4 1775.6 336.3 1540.1 1230.3 2061.7 1236.2 1670.4 1099.7 1448.3 623.0 2343.1 1240.5 2061.2 300.6 2081.2 972.6 2319.8 549.0 2320.1 257.5 2010.4 318.6 1562.6 551.6 1372.1 1302.2 1857.8 1270.4 1823.0 365.5 2181.8 486.0 1400.2 675.7 1336.4 1133.2 1438.4 696.7 1323.4 378.1 2212.1 396.8 2211.1 1200.7 1560.7 234.6 1855.6 1117.1 2233.2 345.5 2183.8 1265.6 1948.9 1194.2 1574.1 239.9 1887.8 357.3 2175.3 1231.6 1619.9 288.6 1597.8 1071.4 2264.8 631.4 2353.9 306.3 2120.1 421.0 1450.5 224.2 1869.0 277.2 2065.9 1194.7 1538.4 1262.1 1934.0 1271.7 1729.4 1093.3 1428.9 445.5 1435.8 1186.2 1551.6 800.5 2354.9 1081.0 1430.4 427.4 2264.1 210.7 1831.1 1293.5 1974.5 693.8 1330.3 1265.7 1730.4 754.3 2356.5 195.3 1761.1 741.5 2382.7 259.2 2037.4 829.8 1327.9 210.0 1769.9 295.0 2095.2 504.5 1396.7 208.9 1851.2 276.2 2068.3 1242.6 1673.2 728.8 2389.4 223.4 1945.8 493.5 2319.5 1290.4 1800.1 1085.1 1424.4 400.0 2236.9 1130.7 1465.0 778.4 2366.6 320.9 1566.3 484.5 2282.2 984.2 1385.9 247.3 1720.9 1011.7 1402.1 1055.9 1415.9 1048.5 2284.0 1171.4 2148.1 1232.6 1601.9 931.1 2334.6 976.2 1379.0 1244.5 2054.1 1207.2 2106.9 833.0 1333.1 931.4 1305.3 695.6 1329.6 615.5 1345.9 997.3 2364.1 1107.8 1459.2 1250.0 1709.6 898.0 1349.5 1157.6 1509.2 1151.8 2170.9 259.9 2009.2 713.6 1335.8 743.3 2430.8 1209.8 1592.0 868.9 2349.2 710.7 2402.4 1115.5 1442.1 848.1 1340.9 868.6 2372.9 1177.9 2169.7 513.5 1382.2 1237.4 2041.2 1268.6 1735.5 1283.3 1693.7 231.8 1956.9 1160.9 2163.0 1115.2 2214.5 1224.9 2059.2 335.7 1526.5 1294.3 1790.1 591.2 2341.2 947.2 2342.2 1121.5 1466.8 1040.5 1378.5" fill="none" stroke="none" marker-start="url(#pm)" marker-mid="url(#pm)" marker-end="url(#pm)"/>
<path d="M1275.8 1776.9 271.6 1644.0 1307.4 1908.7 1266.8 1778.4 1154.7 2201.6 1066.9 1440.1 1217.7 2094.8 407.1 1456.5 1275.9 1946.8 1247.4 1988.6 1013.8 2289.4 1135.2 2205.5 1274.3 1953.7 846.7 2358.7 365.3 1514.8 1124.3 1467.5 245.8 1767.7 318.5 1574.0 612.7 2342.5 234.5 1980.3 246.7 1744.5 962.2 1370.3 482.8 2282.0 637.3 1332.7 1289.0 1761.1 1078.9 1445.0 442.2 2253.0 1266.1 1700.7 692.3 1334.3 1283.2 1730.9 1262.8 1919.0 871.9 1281.6 248.4 1934.0 352.0 2178.6 1158.3 1491.6 1242.2 2067.8 459.9 2277.7 1280.3 1833.6 230.5 1688.6 273.7 2016.2 207.8 1803.8 591.2 2330.3 1285.4 1837.6 861.0 1307.5 241.8 2007.1 611.1 1351.8 642.3 1332.0 368.6 1503.0 1163.3 1493.8 1261.9 1981.3 977.7 1378.9 1081.1 1442.4 528.3 2305.4 638.2 1334.8 1226.9 2059.2 1067.4 2258.3 1089.4 1448.9 431.7 2256.0 1227.6 1644.9 518.6 1390.3 1282.2 1689.0 304.0 1589.4 210.4 1820.7 584.8 2336.0 1224.0 2069.9 241.5 2007.6 1080.7 1373.8 583.1 1351.4 981.9 1384.5 231.0 1901.8 1260.7 1975.0 717.3 2382.8 1278.1 1704.9 1138.6 1489.2 1128.0 2217.2 1221.2 1627.1 658.8 1332.3 826.1 2359.7 1287.1 1835.2 248.8 1759.6 208.5 1797.8 1151.4 1512.1 1205.9 2095.3 222.1 1638.1 690.2 1333.5 1293.7 1703.2 363.7 2197.3 863.1 1340.3 982.3 1387.4 1003.5 1393.0 244.3 1711.4 291.9 2107.0 1228.7 2082.5 1202.8 2115.5 649.3 1332.3 1050.4 2293.5 1200.6 1590.5 1273.4 1992.3 1301.1 1806.3 819.0 2369.7 214.9 1802.5 1113.3 2241.4 297.8 2088.2 1151.8 1484.9 1270.9 1723.9 987.0 1388.8 1229.1 1653.2 1104.4 2230.2 508.7 2299.4 722.6 2388.3 1087.7 2246.5 1262.8 1919.8 1231.0 2067.4 244.8 1799.0 1149.1 1499.3 775.5 2362.8 451.9 2257.1 306.5 2097.8 492.6 2296.5 693.9 2406.6 910.9 1347.1 1131.7 1486.1 417.3 2266.8 993.0 2307.8 1282.4 1821.9 318.8 2126.3 1257.8 1703.3 1227.5 2064.8 802.8 1317.1 215.7 1838.8 894.7 1349.0 203.6 1771.6 968.6 2324.0 860.3 2356.4 249.0 1986.5 495.9 2302.2 499.0 2301.7 372.4 2181.8 550.2 2319.4 255.0 1706.0 677.1 2385.8 1221.7 1596.3 690.6 1330.4 764.6 1308.5 252.0 1681.3 1283.4 1756.2 1290.6 1927.1 1217.3 2100.9 1109.0 1464.5 903.0 1354.0 961.3 1365.4 223.5 2037.1 559.3 2323.1 150.8 1893.3 1264.9 1746.5 1029.1 1397.9 1274.6 1919.5 608.7 2347.1 244.2 1723.0 1282.5 1910.8 1234.6 2097.7 1264.7 1949.3 1134.8 2218.1 419.2 2247.3 1055.5 1428.9 478.9 2304.3 1081.1 2242.6 1249.8 1602.7 645.0 2358.0 247.3 1702.5 1205.5 1566.2 1295.0 1711.0 1272.6 1722.5 1151.7 1484.0 1210.5 2095.0 680.6 1337.7 347.0 1529.4 251.6 1976.3 1191.6 2117.1 1054.7 1415.3 1230.3 1596.7 661.3 2361.2 1025.7 2292.0 405.7 2254.4 448.8 2258.3 1003.3 1374.4 1281.7 1960.8 676.3 2361.1 909.0 2334.3 1273.9 1819.2 1007.6 1394.9 1022.4 2284.1 424.2 1453.7 732.2 1319.6 1305.6 2051.5 378.3 1482.9 971.8 2311.4 1283.2 2008.2 1287.1 1801.1 923.9 2344.2 1015.1 1402.3 248.5 1694.7 954.4 2322.6 246.7 1703.6 229.9 1696.2 233.6 1973.9 1210.8 1575.9 407.5 1455.1 808.4 2355.1 230.9 1848.4 740.3 2382.9 769.0 2392.5 645.1 1345.2 248.4 1648.6 1112.0 1477.0 1300.6 1856.3 1213.4 2078.3 648.2 2352.3 1056.8 1396.6 936.5 2344.5 479.6 2285.4 247.9 1795.5 1188.1 1566.1 636.8 1335.7 1248.3 1980.5 765.0 1267.2 1235.1 1663.1 406.8 1463.5 1292.2 1703.4 265.0 1684.1 367.3 1501.2 1227.8 1642.9 1119.6 2221.6 985.1 2305.9 1271.2 1922.6 1283.9 1712.0 1316.8 1921.2 661.4 2349.8 1038.3 2300.9 905.9 1353.3 595.1 2339.4 443.7 2276.5 1283.3 1693.2 224.9 1693.7 921.6 2341.4 863.4 2351.9 299.1 2086.5 742.2 1316.2 1091.9 2233.6 1175.7 2157.5 753.8 2363.6 1279.9 1850.1 926.3 1355.7 247.3 1980.4 1224.0 1624.8 1148.0 2179.0 668.3 1333.8 1299.1 2047.4 324.6 1554.9 223.0 1959.6 868.6 2348.9 1108.2 2238.9 1228.9 1637.1 763.2 1332.8 245.7 1900.5 950.5 2331.8 331.3 2133.8 736.3 1321.9 632.3 1337.6 398.2 2260.8 1238.4 1670.1 1272.7 1695.0 214.3 1845.2 1267.2 1701.3 1266.8 1820.1 1093.9 2256.3 232.2 1906.5 1252.3 2030.9 651.7 2357.0 1290.8 1845.8 448.0 2292.9 673.9 1329.0 1318.3 2007.1 1249.5 2000.6 829.8 1333.6 1237.3 2059.4 1068.7 2255.3 790.1 1331.2 430.9 1440.3 285.1 1617.9 822.4 1322.6 1213.5 1578.5 1111.5 2218.3 189.4 1831.3 232.9 1896.2 1054.3 2268.3 259.8 1980.6 831.7 1335.9 922.6 1344.7 445.2 2256.1 1223.6 2062.3 643.4 1336.2 983.2 1383.8 1156.6 2167.6 789.7 2364.3 978.2 1381.3 409.4 1460.0 239.2 1986.1 834.2 1330.5 1169.4 1543.5 649.8 2364.8 511.3 1395.5 614.5 2345.7 601.3 2339.5 338.0 1537.6 998.0 2321.3 460.5 1413.4 711.9 1332.9 1273.0 1808.4 638.9 2342.8 999.7 1382.8 941.6 2340.9 266.5 1672.4 486.8 2306.4 1194.0 1543.2 1281.6 1797.9 979.9 1381.9 261.2 2000.0 839.4 2355.9 400.1 2233.7 1292.5 1977.4 235.8 1856.2 1266.6 1824.2 1280.1 1905.0 948.3 2328.8 1040.5 1395.0 1196.1 1537.4 412.9 2247.9 1140.8 1473.3 272.3 1626.0 282.8 1606.7 888.7 2340.2 1278.1 1691.0 1129.1 1439.9 593.7 1357.2 347.3 2156.8 534.3 2320.4 745.9 2362.6 1290.7 1927.5 949.0 1372.4 728.9 1327.1 385.6 1488.7 368.6 2181.5 802.7 1314.5 1212.0 2076.9 246.9 1752.4 228.4 1894.2 686.2 2375.9 245.3 1820.5 437.8 1438.5 574.5 1350.7 294.5 1620.5 467.5 1410.1 1268.2 1929.9 1300.7 1895.8 243.5 1907.2 190.5 1863.9 242.1 1862.7 638.1 2344.0 1243.7 1672.0 1074.7 1443.0 1150.3 1515.2 726.3 1313.8 1010.4 2290.4 770.5 1328.2 952.9 1374.0 1311.3 1903.8 241.0 1658.9 1123.7 1481.0 1275.0 1940.3 296.9 2098.9 1300.5 1908.0 795.5 1334.2 244.6 1880.9 403.0 2283.4 1110.3 1459.5 226.0 1884.0 233.2 1913.7 1090.3 1435.3 1014.9 2307.2 261.8 1680.7 477.0 2310.2 397.8 2226.8 193.5 1815.3 244.7 1932.6 863.0 2356.9 851.2 2357.0 719.0 2375.0 134.4 1881.8 912.7 1357.6 484.3 2282.2 1204.6 1589.4 1243.9 2049.4 842.1 1339.1 274.1 2044.7 230.8 1856.7 1172.2 2153.0 1246.8 2080.4 1149.3 1498.4 659.9 2362.9 245.9 1735.8 823.3 1333.0 207.7 1842.0 191.0 1854.2 1137.2 1475.1 231.3 1980.4 507.2 2297.0 1199.1 1552.0 330.0 2169.1 1299.7 1931.2 1245.3 2003.5 717.0 1329.5 202.3 1686.5 1267.8 1686.4 351.8 2191.4 289.6 2079.1 469.4 2271.3 1271.3 1717.4 883.5 1332.7 1263.4 1695.2 1272.8 1750.3 1184.6 2138.4 228.7 1877.9 619.5 1337.9 1194.4 1567.9 216.4 1947.8 256.1 2037.8 387.8 2212.7 1175.3 1541.5 997.3 2302.6 233.9 1639.2 1281.7 1965.3 1214.2 2087.6 1288.1 1923.0 520.4 2309.2 1037.9 2282.4 1075.8 2262.7 478.6 1408.7 471.8 1405.3 1183.2 2138.9 215.0 1824.7 250.8 1686.3 555.7 1369.1 1027.3 1384.7 505.7 2320.6 367.1 2180.7 785.7 1314.9 233.1 1859.9 281.9 2067.0 279.9 2079.9 764.0 1329.8 230.8 1633.0 655.9 1338.7 814.4 1323.9 392.4 1467.5 969.5 2326.7 1285.7 1865.1 318.6 2141.3 854.1 1341.6 1288.8 1824.2 1180.2 1544.9 1284.4 1966.7 1268.4 1690.3 1251.6 1651.8 326.2 2122.4 742.4 2429.3 819.9 1333.3 859.3 2359.2 420.6 2267.2 885.3 1345.6 535.1 2307.9 1125.1 2224.1 229.2 1877.1 249.9 1962.8 892.6 2348.5 1283.6 2012.0 390.2 1486.5 215.1 1785.7 231.6 1914.4 1290.4 1774.1 383.0 2195.5 247.2 1721.3 771.9 1261.7 221.1 1951.8 396.7 2226.8 376.1 2192.1 1078.4 1403.6 977.6 1383.3 206.6 1804.4 1257.0 1717.5 644.8 1329.9 246.0 1728.3 226.7 1687.8 1139.2 1488.7 845.7 2358.7 881.7 1343.6 1207.6 1566.6 244.2 1714.3 932.2 2338.9 491.6 2283.7 1038.6 1412.2 1284.2 1844.3 862.6 2355.7 232.2 1652.4 1275.3 1905.7 1193.8 2139.2 1236.7 1668.3 732.7 1319.9 215.5 1837.8 1052.1 1408.7 1086.0 2250.3 1229.3 1649.3 1316.1 1908.7 1279.3 1956.7 965.6 1377.7 1209.0 1563.8 435.5 1434.3 333.2 2131.0 229.6 2049.6 245.0 1674.5 370.6 1490.6 1096.2 1436.5 496.9 2318.2 819.4 1336.4 335.9 2138.6 541.7 1375.4 1012.4 1385.8 546.2 2315.8 375.4 2206.9 569.7 2322.5 1253.7 1977.3 229.3 1859.9 235.5 1903.6 1192.0 1548.6 1043.9 2271.4 798.6 2371.1 382.0 1480.2 954.6 1355.4 848.6 1340.6 225.5 1955.8 1295.1 1984.8 1266.8 1771.3 1212.8 1537.0 309.0 2097.9 1078.2 1440.2 228.0 1930.8 1058.7 2267.8 501.3 2289.8 1162.4 1509.3 1176.2 2138.9 1011.7 1377.6 315.1 2150.6 1211.5 1568.9 870.3 2349.5 1276.2 1957.8 1045.5 1416.6 1283.8 1960.2 1298.6 1965.6 828.7 2352.1 1160.5 1511.7 566.7 1361.1 337.5 2157.0 1282.3 1903.3 817.5 1332.1 1254.3 1687.8 992.1 2352.8 865.4 2351.2 272.4 1673.1 252.5 2003.5 512.6 1396.2 642.4 2348.0 373.6 2193.0 1281.5 1959.2 1212.2 1597.5 1020.3 2288.8 241.2 1868.7 430.4 1447.6 1072.7 1442.9 829.2 1331.1 1243.7 1680.1 504.4 1323.5 1105.4 2233.4 1166.6 1539.9 1274.5 1901.5 301.7 2133.2 246.2 1789.7 897.2 2339.0 393.3 2248.3 900.5 1346.1 1119.4 1468.6 829.6 2354.1 794.8 2357.9 248.2 1782.3 470.0 2280.3 663.0 2350.3 1273.4 1963.4 248.3 1944.1 849.9 1338.5 1222.8 1597.3 319.2 2149.6 248.0 1790.2 189.4 1862.9 369.7 2192.7 1270.1 1681.8 1087.7 1438.0 401.4 2233.7 1237.5 1640.9 245.6 2011.6 1178.4 1544.7 244.0 1969.8 1285.5 1848.1 1006.1 1397.7 1230.5 1586.1 771.1 2356.5 1143.9 1509.0 1225.0 1643.6 588.9 1357.5 329.0 2166.2 368.7 2191.9 1295.0 1934.2 1198.5 1583.7 227.3 1854.8 1207.3 2083.4 762.4 1321.7 801.5 2374.3 411.8 2251.8 311.3 1594.8 1243.4 2004.5 1223.9 1578.0 1284.7 2006.3 688.4 2377.7 1177.8 2137.7 922.7 2330.7 1254.4 1694.3 223.0 1960.2 663.5 2350.0 444.9 1435.5 1276.5 1704.3 233.9 1686.0 352.5 1517.2 1101.2 2244.6 1108.4 2233.9 382.3 2200.1 1284.5 1916.4 1086.2 1443.1 1234.2 1660.5 230.6 1820.1 1284.2 2023.1 216.4 1848.6 241.5 1965.4 766.8 1329.1 208.2 1822.8 898.8 1351.9 427.8 2249.5 311.4 2114.6 321.0 1562.3 193.2 1832.1 844.0 2356.0 536.3 1367.9 975.9 1375.8 1192.4 1550.6 1278.9 1833.7 958.4 2315.9 1077.9 2245.1 1168.3 2154.2 709.6 2361.2 1010.1 1391.8 191.2 1761.7 244.3 1892.7 1193.2 2139.0 382.6 2199.4 1247.8 1656.1 195.4 1683.4 767.2 1265.1 1079.6 2268.7 1275.7 2026.0 730.1 2383.3 291.9 2085.4 1112.6 2237.4 321.5 2132.3 239.2 1700.3 378.6 2221.2 820.4 1325.3 272.0 1618.9 1057.8 2268.7 1037.8 2279.0 951.5 1371.6 270.2 1675.1 1260.1 1978.3 984.4 1351.3 1264.0 1927.2 889.6 1349.5 1224.0 2095.6 1216.9 2092.4 1275.2 1943.3 1279.3 1696.6 1208.9 1584.7 830.5 2367.3 667.7 1324.1 269.6 1687.7 1019.2 2300.9 1189.7 1535.5 252.9 1998.2 1272.2 1874.6 892.2 1333.5 987.3 1349.0 946.5 2335.5 709.5 1322.1 205.8 1801.7 612.2 2345.0 330.7 2159.2 284.8 1621.1 599.1 1346.3 318.5 2148.1 1296.7 1953.0 1203.4 2100.0 306.8 1603.0 1283.6 1983.7 1249.0 1709.9 405.1 2239.1 1304.6 1920.1 1222.2 2069.4 617.5 1344.5 1162.4 1523.3 704.4 1326.4 705.7 1324.8 191.4 1861.3 274.6 1657.9 1053.8 1418.9 1004.2 1392.7 276.6 1647.1 1232.0 1617.6 455.3 2284.9 327.8 1550.4 894.5 2354.4 1262.4 1972.6 1057.6 1424.0 334.8 2136.1 491.7 2301.8 1078.8 2264.1 326.0 1551.5 1285.1 1837.8 364.7 1511.7 329.6 1534.5 1140.6 2206.8 240.9 1778.5 1136.1 1479.6 1263.0 1913.3 299.5 2076.2 970.1 1380.1 351.7 1528.5 963.9 1374.7 519.0 1374.6 226.8 1961.2 274.5 1655.1 427.6 1452.8 460.0 1426.2 447.9 2278.2 1168.5 1530.8 280.3 2083.2 1208.3 1587.8 244.1 1916.2 263.2 1636.9 1230.3 1651.5 1048.0 2268.6 776.4 2368.8 442.2 2258.5 326.0 1548.9 940.5 2327.3 418.4 2262.9 797.9 2368.8 971.5 1372.2 1171.6 2149.3 1240.7 1642.1 904.6 2344.6 417.8 2257.0 1288.7 1899.2 613.3 1350.8 985.1 2308.9 350.2 2168.0 1122.0 2241.3 971.9 1380.8 770.9 1307.7 380.1 2204.2 1174.5 1530.0 1295.9 1852.2 1273.3 1849.4 815.7 2372.5 1087.0 2241.1 329.4 1538.0" fill="none" stroke="none" marker-start="url(#pm)" marker-mid="url(#pm)" marker-end="url(#pm)"/>
<path d="M648.1 1331.6 1270.8 1769.6 1017.7 2287.4 1004.7 2291.7 462.5 1421.0 965.0 2327.6 1117.5 1467.3 1256.6 2016.6 684.2 2369.2 1054.6 1421.3 1158.9 1509.0 1207.7 1565.2 1192.5 2115.2 1272.7 1857.9 1171.4 2173.1 1294.1 2056.0 193.8 1848.1 243.3 1720.4 1257.0 1643.4 1002.7 2300.3 389.3 1488.4 1181.0 1541.4 1267.7 1696.9 268.6 1675.9 508.2 2293.4 896.6 1348.4 310.4 1581.5 244.1 1707.3 393.9 1474.4 460.2 1419.7 312.1 2104.2 1137.0 2215.9 349.6 2159.4 468.5 2268.8 394.3 2232.6 1155.1 2194.1 262.7 1651.6 282.8 1642.6 1150.2 2178.2 1018.0 1391.0 1223.8 1625.1 219.8 1748.9 945.0 2335.8 354.3 2175.1 276.9 1666.5 1273.9 1741.8 291.9 2088.8 1168.2 1499.4 246.6 1927.4 175.8 1684.2 1245.3 1657.4 319.2 2135.5 317.8 2108.7 220.0 1752.0 1023.8 2307.7 1194.9 2135.9 205.3 1865.2 329.9 1558.5 859.3 2347.4 1249.7 1654.3 993.4 2311.2 472.7 2290.3 1253.1 1676.0 189.7 1804.5 1260.6 1734.2 435.6 1435.5 571.2 2329.1 909.0 1354.3 1287.3 1822.0 1184.1 2198.3 1277.3 1836.0 1269.1 1899.6 247.6 1749.6 1169.1 1537.7 209.5 1783.7 1284.6 1801.7 270.1 2110.7 634.6 1332.3 1289.8 1848.0 914.2 1347.9 1271.3 1782.6 1278.6 1907.5 266.8 2006.4 973.5 1369.7 1137.4 1500.4 700.0 1333.3 570.1 1354.0 999.0 1393.3 439.0 2284.2 458.0 1428.9 329.7 1551.0 1263.2 1998.8 983.3 2309.7 936.2 2328.9 383.1 1491.4 1294.7 1871.1 826.8 2355.6 1286.6 1855.7 393.5 2207.8 1163.9 2154.9 891.5 1344.7 1221.5 1624.4 551.4 2356.5 974.5 1381.0 719.8 1315.4 1275.4 1816.7 414.2 1463.1 278.5 2036.5 276.9 1654.8 1284.7 1893.9 494.0 2291.7 1142.9 2202.8 227.4 1935.5 1272.6 1948.1 710.9 1329.4 992.7 2312.8 249.9 1743.9 914.0 2360.8 1270.2 1816.1 1281.8 1899.3 1251.3 2030.0 1110.7 1442.8 1269.8 1687.7 408.1 2258.5 427.9 1441.0 399.7 1456.4 738.7 1327.1 1272.2 1723.6 247.0 1756.8 1116.4 1465.3 999.0 2308.8 660.2 2364.2 811.1 1332.8 1146.4 2192.0 251.1 1941.8 1286.3 1845.6 683.3 2363.2 596.6 2332.3 1191.8 2124.1 1042.9 2302.6 472.8 2285.6 491.3 2294.0 566.8 1356.9 418.8 1455.4 1265.7 1746.3 214.3 1918.5 1028.4 2285.7 269.0 2006.2 986.3 1386.4 374.2 2191.7 1026.2 1402.5 827.6 1332.8 1273.8 1757.1 1299.5 1886.4 1121.4 1471.0 190.8 1815.2 1232.0 1632.6 991.0 2311.3 207.9 1774.2 819.6 1332.9 318.7 2121.1 764.6 1304.2 1133.1 2203.3 265.0 1691.1 594.0 2341.4 703.6 2377.1 938.0 1360.9 1022.6 2299.6 362.8 1516.3 1236.7 1596.6 765.5 1307.6 924.7 2344.4 253.7 1726.1 328.6 1546.0 669.9 2375.4 807.5 2355.1 892.3 1347.8 669.1 1334.1 953.3 1371.3 616.0 2339.8 585.8 2333.5 706.9 2356.9 659.7 2354.0 1144.0 1507.7 243.2 1739.1 1285.1 1969.3 452.8 1422.0 636.4 2343.7 675.2 2359.0 880.6 1343.4 202.4 1843.9 232.9 1982.9 295.5 1615.6 1100.8 1434.6 238.9 1902.0 1146.5 2197.7 1002.4 1384.7 1320.5 1912.2 247.6 1917.1 955.7 2334.3 1064.8 1429.2 1232.0 2040.8 239.1 2004.4 1266.6 1825.1 225.8 1937.7 1284.6 1785.9 599.1 2339.8 325.2 2139.1 973.8 1376.4 278.1 2031.8 1229.2 1602.0 922.6 2335.8 1255.7 2050.2 265.9 1690.9 476.9 2279.2 1266.5 1915.8 1012.0 2330.8 1293.6 2053.3 727.8 1281.0 1131.9 1482.7 467.3 1423.9 1056.2 1417.2 505.5 1382.2 979.3 1381.9 760.0 1312.8 1116.9 2213.6 230.8 1974.3 401.6 2226.3 1276.1 1807.0 1098.5 1446.6 473.5 1410.1 1229.1 1645.0 360.7 1498.2 767.8 2387.9 1270.5 1998.9 1261.0 2029.3 1225.6 2051.8 1289.5 1691.4 226.4 1962.0 554.7 2324.6 1276.5 1713.9 339.2 1545.1 1087.0 1448.9 257.5 1994.8 1036.7 2280.0 838.2 2352.7 1206.7 1564.0 251.3 2026.3 919.1 2336.0 674.4 1337.3 1251.0 2045.5 1111.2 1453.4 364.0 2178.4 984.7 2336.1 1268.1 1786.6 1269.8 1857.3 1020.6 1395.1 282.2 2068.2 337.0 1547.3 1131.8 2198.0 1230.3 1607.7 1229.7 1599.0 211.3 1784.9 1203.7 2093.8 586.9 2335.2 187.6 1862.2 977.0 2316.9 735.0 1309.4 1180.3 1526.9 203.3 1793.8 1206.3 1558.8 446.7 2261.5 1268.9 1719.2 639.1 1337.2 342.5 1533.4 1103.2 1408.8 1217.9 1571.8 675.6 1328.4 297.0 1604.3 336.5 1526.3 1234.1 2041.4 1320.0 2017.1 507.6 1398.9 1176.2 1517.3 338.5 1537.2 1168.9 1498.8 225.4 1991.9 768.7 2371.1 234.8 1980.1 1267.6 1926.3 267.0 1685.1 445.6 2284.4 539.8 1371.7 229.8 1980.1 364.3 1504.8 301.9 2109.6 1104.6 1466.2 279.7 1655.5 1272.9 1863.6 1219.3 2111.3 482.3 2299.9 354.1 2187.6 1209.0 1601.7 1287.1 1976.9 954.5 2339.4 168.5 1718.1 946.5 1364.4 307.0 1597.8 976.1 2313.4 1196.0 1570.2 707.6 1321.1 543.2 2319.0 1214.8 2104.1 192.7 1935.1 984.5 1346.5 249.3 1701.3 996.4 2320.3 1046.9 2286.2 276.3 1649.9 799.3 1324.3 628.9 1347.4 686.3 2371.5 870.7 1310.0 803.8 1322.8 1273.1 1877.6 1266.1 1825.2 275.0 1631.3 231.9 1904.4 1040.6 1379.4 1252.8 1701.1 661.9 1335.0 901.3 1349.5 713.7 2401.4 482.4 1409.0 247.0 1703.1 1034.9 2301.8 255.5 1965.5 369.4 2302.8 1055.4 2287.6 1148.1 1511.9 1157.5 2178.5 1058.8 2268.2 1049.5 1418.8 1241.1 1655.2 219.1 1953.2 247.2 1752.5 827.0 1331.3 990.1 2310.7 230.2 1979.8 997.7 1392.9 688.7 1327.0 865.0 1335.9 1296.1 1957.5 467.6 2273.5 449.6 2274.9 268.4 2058.6 958.2 1372.2 1281.6 1796.6 386.2 2234.4 313.8 2144.5 964.6 1374.4 1113.2 1460.6 446.2 1430.8 1208.3 1606.2 211.1 1830.6 244.2 2008.4 1267.0 1797.4 1157.1 1512.8 996.9 1389.5 296.3 1616.7 1038.4 1403.2 246.0 1807.3 1300.6 1941.4 456.7 2262.6 1229.3 2051.4 350.5 2170.3 560.5 2328.0 970.9 1365.3 1284.0 1779.6 990.6 1386.2 382.6 1479.6 851.8 2363.9 266.8 1657.2 229.1 1990.4 229.9 1860.3 955.5 2330.5 1280.6 1828.5 1291.7 1939.1 433.0 2250.2 878.1 1317.2 1293.0 1936.5 233.2 1914.2 1286.5 1871.5 1254.0 1667.3 1230.1 1646.8 822.4 1332.2 1154.9 2195.6 674.8 1330.4 830.8 1340.0 1246.9 1597.5 1206.2 2143.9 1249.6 2001.6 1294.2 1712.3 838.5 1329.1 1263.8 1702.3 448.2 1435.6 337.9 2159.2 215.2 1919.0 519.5 2314.0 1287.6 1695.3 332.4 2162.5 977.6 2316.5 1148.7 2172.7 925.6 2336.3 1291.7 1838.2 211.8 1948.3 1151.0 2188.0 857.1 2362.4 509.9 1388.2 300.4 1586.8 769.5 1328.2 209.8 1850.7 442.3 2276.2 1046.4 1414.0 1147.3 2206.3 219.5 2038.4 496.6 1390.8 224.7 1993.5 424.1 2261.6 1324.8 1935.4 340.3 2145.1 1004.8 2291.7 277.4 2061.2 266.7 1991.9 248.7 1790.8 1003.9 2303.9 1183.5 2146.4 531.8 1379.3 931.9 1355.0 1268.7 1850.2 1271.5 1832.4 1272.3 1718.3 737.5 1312.7 298.6 1582.5 1107.4 1467.1 249.0 1770.6 1259.7 1742.8 222.2 1943.4 668.6 2377.4 404.8 1471.4 285.1 1642.8 1283.3 1966.1 993.2 1376.9 1088.8 2239.8 456.0 1427.4 1214.5 1596.4 234.0 1664.5 1218.7 1626.3 392.6 1476.0 314.4 1582.2 1279.8 1814.2 618.4 2360.2 239.5 2004.7 1254.9 1972.0 795.1 1329.4 1184.7 2133.2 884.2 2349.5 663.1 2373.2 221.7 1660.9 1270.5 1819.2 1253.3 1684.1 383.7 2202.5 378.5 2192.3 1157.5 2195.7 882.3 2350.0 1089.5 1454.8 711.9 2436.0 511.5 2322.0 1234.9 2033.5 1037.6 1402.1 346.7 2151.8 607.4 2347.3 1114.7 2234.6 228.4 1758.4 1126.5 1481.0 237.3 1882.1 1271.9 1725.5 1038.6 2284.5 462.3 1415.1 798.2 1330.8 1317.2 1943.6 1207.8 1566.3 530.4 1385.1 1326.4 1937.1 1062.8 2283.0 1265.5 1704.8 1010.0 2295.5 1060.0 1418.9 1190.6 2138.3 215.9 1771.7 530.9 1371.9 1035.1 2302.4 821.7 1325.2 484.1 2302.4 599.9 2340.9 583.1 1349.7 682.5 2370.6 158.4 1957.2 632.3 2355.2 409.9 2258.5 306.1 2111.7 219.2 1973.1 236.7 1902.2 1298.9 1955.6 233.7 1944.7 232.3 1915.7 890.9 1339.4 1278.6 1861.3 595.7 1348.1 1251.3 1997.2 1255.5 2012.3 1302.4 2037.0 185.9 1871.8 536.3 2318.5 1132.7 1465.6 1280.9 1691.8 1227.7 2148.6 789.3 1331.0 247.7 2017.3 946.5 1362.8 975.5 2314.2 1267.6 1711.5 1247.1 1658.6 721.2 2357.6 247.3 1782.0 1169.0 2171.7 611.0 2344.9 258.8 2027.2 487.3 2308.0 661.7 1327.1 1139.6 1487.5 313.9 2105.5 1265.6 1735.9 1282.7 1754.1 220.6 1959.4 1177.3 2172.5 289.8 2055.6 296.0 2091.1 580.3 2332.7 903.6 1351.3 243.8 1734.0 1213.2 1612.4 372.3 2181.8 1185.0 2152.4 1028.3 2302.9 772.3 2363.8 636.7 1345.1 1155.5 2189.7 1125.1 1484.2 1199.9 1588.7 363.0 2190.8 389.9 2217.4 436.1 2263.6 868.4 2349.1 608.8 1347.3 274.3 1645.7 1013.1 1400.5 358.6 2175.1 237.0 1903.7 1263.1 1971.7 327.5 2162.4 339.6 1533.1 1075.1 2257.5 597.8 2339.8 769.6 2386.5 274.8 1670.9 372.4 1500.7 298.5 2116.7 827.1 1317.3 1231.7 1653.0 1269.1 1801.7 1259.7 1685.5 1138.1 1375.0 1270.8 1849.7 1271.8 1794.7 861.7 2358.6 1299.8 1989.3 794.2 2366.4 1295.5 1905.2 321.5 1577.4 1193.1 1561.3 233.2 1885.8 247.7 1687.0 821.0 1335.6 228.2 1980.3 804.8 2373.1 599.4 1351.1 1168.6 1525.4 247.1 1731.8 268.5 1678.1 1285.0 1725.2 788.9 1316.1 1036.2 2292.5 402.4 2221.1 1276.7 1792.9 876.3 1341.9 208.0 1808.5 877.2 1343.5 971.4 2313.0 209.1 1762.7 674.7 2377.2 979.3 2315.2 1275.2 1913.8 1187.0 2150.0 620.4 1349.1 1298.0 1948.7 1246.0 1658.6 1164.7 2163.1 500.4 2303.7 1249.2 2029.4 239.2 1822.4 686.1 1328.3 1013.0 2358.4 217.6 1928.8 292.3 2101.0 238.9 1991.9 1275.4 1766.9 1269.1 1891.8 232.0 1934.3 489.0 2334.7 702.6 2384.3 874.6 2365.3 1265.8 1817.5 1212.4 2089.9 678.1 1334.3 1206.4 1578.6 1231.2 2045.2 1272.5 1940.3 1280.7 1951.1 805.3 2369.4 244.4 1751.0 206.7 1761.6 228.2 1827.9 869.6 2354.1 355.4 1517.1 350.3 2186.0 572.9 1350.6 544.7 2311.7 280.3 2053.4 1190.0 2159.2 246.9 1770.8 354.5 2166.7 475.4 2281.6 535.2 1378.3 1230.6 2074.0 1296.4 1904.9 927.1 2342.2 1070.4 1424.0 1247.8 2016.2 1133.0 1483.1 1147.1 2181.6 882.9 1344.3 418.1 2229.4 324.7 2124.7 431.8 1440.0 1257.6 1981.1 835.8 1337.8 1231.9 2081.1 1150.0 1506.2 1207.5 1600.3 713.4 1317.0 734.4 2361.7 896.5 2363.8 1309.1 1946.6 958.6 1372.6 395.5 2247.8 644.7 2355.7 1288.7 1702.0 1245.6 2018.2 1233.6 2066.6 909.3 2334.6 959.7 2344.7 438.4 1442.5 1292.6 1711.6 966.2 1378.5 1270.8 1941.4 1183.2 2164.5 945.8 2338.2 244.9 1713.9 769.5 2360.2 928.7 2340.1 630.0 1339.3 241.4 1998.6 1067.4 1418.2 1230.4 1603.3 1024.9 1405.8 763.5 1318.9 1090.6 2260.3 1277.3 1994.1 1231.2 1615.0 570.6 1362.0 208.3 1776.8 1223.0 2098.0 209.6 1820.6 401.8 1471.3 664.1 2363.6 402.1 2282.2 1174.1 2179.1 1064.2 1396.5 877.6 2350.8 629.3 1345.0 259.8 1988.7 635.6 1336.0 1252.1 1684.8 1243.3 2001.3 1249.4 1648.4 579.5 2326.0 366.8 1496.5 1113.5 2237.2 1230.5 1618.8 871.6 1346.3 1265.9 1699.3 1032.8 2281.4 1269.7 1966.3 833.5 2356.7 818.9 1334.4 990.8 1369.0 754.3 2366.3 882.7 1348.1 687.2 1323.8 356.4 1507.3 768.8 1312.5 218.6 1964.8 1221.6 1632.6 1242.7 1618.6 896.7 2344.5 1266.0 1974.9 1109.4 1454.0 998.9 1389.7 983.6 2329.4 1077.7 1445.8 1282.6 1726.1 577.4 2340.9 332.5 1553.1 403.5 2226.4 392.5 2212.1 1155.0 2181.0 1260.0 1756.2 1291.1 1815.0 440.5 1441.6 1233.8 2043.6 283.8 2080.3 571.5 1356.1 1254.5 2005.5 1110.4 2235.1 468.1 2281.0 512.9 2312.0 338.8 2144.0 360.1 1495.5 1071.5 1438.5 218.0 1920.3 860.8 1334.1 330.7 2168.5 1000.1 2297.1 359.7 2180.9 354.2 1507.4 247.1 1701.6 343.6 2150.7 794.8 1329.8 1139.6 2191.9 1276.1 1817.9 313.6 1561.7 955.6 2338.5 1290.8 1970.3 1115.7 1473.5 643.2 2361.3 1287.5 1869.3 1285.0 1763.4 1215.1 2102.8 724.4 2371.1 209.1 1778.2 382.3 2211.4 1268.8 1928.8 264.5 2014.4 543.6 2315.3 836.8 1334.4 624.0 2343.8 1167.1 2156.9 405.4 2229.6 1052.4 2278.7 924.6 2351.8 1230.5 2043.2 1001.8 2300.4 1218.5 2066.8 763.6 2361.7 1264.1 1665.3 1255.2 2021.0 1187.6 2136.5 1040.5 1389.9 343.7 2151.0" fill="none" stroke="none" marker-start="url(#pm)" marker-mid="url(#pm)" marker-end="url(#pm)"/>
<path d="M1209.0 1589.3 1230.3 2048.9 1011.5 1387.7 710.0 1336.1 192.0 1811.1 789.4 2367.9 566.8 2330.2 651.0 2356.4 1269.6 1830.1 327.7 2164.5 319.5 1578.0 337.3 2150.1 210.1 1781.4 1150.6 2179.9 635.9 1338.5 225.8 1921.6 825.4 1333.8 760.7 2356.5 928.9 2327.8 1032.6 1410.5 1238.9 1638.8 382.8 2206.6 1130.2 2212.5 360.2 1511.1 386.7 2251.2 352.8 2173.8 1215.5 2076.5 1042.4 2293.9 1277.4 1810.8 1239.7 2018.9 729.3 2365.9 245.0 1916.5 552.3 1362.4 508.4 1398.4 704.8 2360.7 270.4 1676.4 515.1 1390.8 1157.1 2167.0 486.5 2307.5 987.0 1387.1 1304.7 1790.0 1183.4 2127.6 967.9 1364.8 1269.9 1923.3 1126.1 2216.3 1244.7 2073.2 835.9 1333.6 751.6 2368.9 305.6 1605.3 1213.8 2114.0 447.9 1434.1 776.8 1310.0 212.2 1762.8 278.8 2029.4 206.9 1761.3 1222.9 1632.4 230.7 1685.5 457.2 1414.4 1206.6 1568.0 476.1 2304.1 461.7 1427.8 647.7 1337.5 233.2 1910.9 1244.8 2057.1 228.3 1976.4 341.8 2170.0 1263.0 1671.5 685.6 2362.5 1246.4 1642.6 636.8 2348.1 1022.5 2302.0 1272.5 1885.4 403.2 1459.0 805.2 2369.5 1268.2 1695.2 367.1 1507.6 351.4 2186.5 562.5 1367.8 752.5 2381.5 1068.6 2260.0 1296.8 1873.4 1143.9 2197.1 245.9 2018.6 1270.6 1742.9 1113.9 2211.9 1337.1 1915.0 1247.2 1984.5 1266.6 1939.4 440.2 2262.1 281.8 2038.6 1017.9 2318.3 954.5 1370.2 310.1 2098.2 799.7 2356.1 1004.0 1389.9 232.9 1899.2 669.3 1335.1 1267.9 1840.7 312.3 1580.3 538.2 1365.6 805.2 2367.4 188.8 1820.8 429.5 2241.3 786.3 2362.8 962.7 1371.2 1222.7 1573.0 838.3 2355.3 982.8 2311.5 365.1 2190.2 515.1 2304.7 989.0 2303.2 1204.9 2112.0 1274.5 2021.1 302.1 1588.7 1290.4 1975.0 358.7 1514.4 765.7 1329.9 396.8 2248.1 721.4 2389.1 1111.1 1456.1 1326.5 1886.9 1098.0 2236.8 1235.5 2033.7 735.2 2400.0 1028.7 2277.9 1015.7 2321.4 892.5 1346.0 339.7 2148.3 455.4 2297.3 1166.1 2159.4 415.7 2238.0 1067.6 1437.0 226.3 1939.1 224.2 1939.4 887.8 2348.9 382.0 2202.8 824.5 2366.7 427.0 2254.2 316.7 2113.6 942.5 1369.8 1224.6 1620.5 301.8 2104.7 991.5 2324.8 188.3 1862.9 1298.8 1977.1 988.5 2309.8 945.8 1366.1 822.4 2356.4 1106.9 2242.9 277.9 1626.6 1246.8 1648.0 984.4 1382.7 646.4 1343.5 1136.3 1482.8 240.6 1977.5 1220.5 1615.6 1265.1 1729.6 688.2 2369.2 629.9 1345.9 211.7 1831.7 370.6 1500.5 1261.3 1978.4 1230.9 1641.7 379.0 1492.9 368.9 1498.7 760.1 1320.3 1039.5 1413.6 936.0 2329.3 250.9 1681.4 558.6 1363.7 485.6 2278.4 638.8 2349.5 1284.4 1865.5 1251.6 1685.6 293.5 2119.9 391.9 1473.8 631.7 1343.9 771.9 2366.7 441.8 2264.2 1293.3 1802.0 1229.2 2115.8 332.3 2134.3 204.2 1810.2 1267.0 1748.6 1054.1 2291.1 1242.8 2009.6 304.9 2120.5 877.0 1344.1 1297.1 1921.8 1040.0 2292.8 775.4 2374.6 328.8 1562.5 1004.3 2322.8 192.7 1827.4 278.8 2062.3 287.0 2049.4 668.1 2364.6 207.0 1799.0 333.3 2142.3 853.4 1326.9 1330.3 1925.4 1253.0 2001.9 776.3 1322.1 765.9 1264.0 221.5 1856.7 723.3 2376.0 210.4 1814.6 720.1 1321.8 1040.6 1414.2 976.4 2321.4 567.2 2327.0 815.3 2354.6 1136.8 2203.9 1171.6 1517.8 837.6 1340.7 1098.5 1445.0 226.3 1977.9 1221.2 2107.5 223.7 1956.1 252.0 1747.8 609.6 2348.8 306.4 1577.8 762.4 2380.1 231.5 1904.7 1214.7 1607.6 906.0 2353.6 780.7 1329.8 981.6 2314.1 1034.8 1404.6 1023.7 1392.5 1270.5 1881.2 828.4 1330.4 322.6 2141.8 1285.9 1924.9 1106.7 1453.0 270.6 2035.7 1296.8 1830.6 972.9 2332.2 1206.0 1561.8 685.8 2366.5 1247.3 1987.6 481.2 2292.9 691.6 2373.5 1261.4 1697.9 482.2 2297.9 146.2 1910.5 1239.8 1578.7 972.8 1368.6 1270.5 1851.9 838.2 1341.1 970.4 1367.0 1174.2 1539.4 248.0 1744.9 1269.1 1857.7 771.0 1289.6 816.9 1335.4 424.4 2268.4 975.1 2310.0 238.5 1719.0 1040.9 1418.9 480.2 2296.2 1323.8 1923.3 302.3 1579.8 816.7 1332.6 210.7 1812.9 1227.1 2099.2 1047.8 2267.2 283.6 2099.8 528.2 2307.0 271.5 1661.6 571.3 2327.9 870.0 2346.7 1258.3 1743.8 1184.1 2157.7 1244.5 1672.0 344.4 2154.2 401.8 2222.4 379.2 2218.7 1267.5 1895.3 355.1 2175.0 1142.0 1474.3 333.6 2140.4 1133.5 1480.6 279.1 2036.4 982.7 2334.9 215.0 1858.5 391.6 2212.7 1276.0 1779.1 286.8 2052.6 521.4 2309.6 1271.1 1826.9 1293.8 1832.1 277.2 2024.2 737.9 2357.2 1074.3 2265.3 970.6 1361.1 704.4 2363.9 914.5 1345.5 309.2 1575.5 1045.7 1411.4 191.0 1943.3 1270.8 1860.1 701.2 2361.7 228.3 1850.4 1278.4 1753.1 842.5 1339.6 1281.5 1844.3 313.7 2107.3 805.2 2362.6 1249.3 1650.2 607.4 1352.6 754.2 2370.9 257.4 1661.2 451.1 2263.6 267.0 2028.5 1051.7 2271.9 251.2 2000.7 1247.4 2019.4 1207.5 1554.4 627.9 1345.3 305.3 2104.3 639.3 1337.0 1051.3 2270.7 1015.6 1396.0 975.6 1382.8 1208.0 1596.4 722.3 1320.0 1247.9 2109.9 522.4 2303.0 223.3 1943.9 401.5 2229.3 977.5 2318.1 211.5 1779.3 786.8 1318.4 1200.0 2131.5 598.1 1355.4 241.9 1822.4 727.6 2433.1 592.3 1351.3 530.7 1369.2 314.3 1567.4 1219.4 1618.7 1259.2 1948.7 1209.7 2105.7 1271.4 1826.8 243.1 1794.2 1265.9 1924.0 223.1 1956.6 1035.6 2298.2 194.4 1893.0 1169.5 2157.7 725.1 2397.3 1257.8 1715.9 1083.2 2252.9 1167.3 1502.2 291.3 1606.1 1131.8 1480.2 1280.0 1860.6 808.7 2374.7 1160.0 1499.2 1212.0 1593.8 890.4 1335.8 1267.3 1700.0 1314.3 1917.8 1168.9 1513.8 1133.8 1467.3 640.5 2345.7 527.0 1377.1 987.4 1351.3 1248.4 1703.9 1315.7 2024.9 1246.2 2009.3 1289.7 1894.6 494.0 1396.6 542.9 1367.4 1232.4 1620.4 1234.0 1662.8 1268.5 2010.8 1278.3 1718.0 1169.0 1533.8 344.3 2151.1 244.2 2009.3 1192.8 1572.8 203.5 1806.8 626.4 2341.0 552.0 1363.5 248.7 1760.6 1272.7 1846.4 1201.3 1559.4 1266.5 1906.4 1287.5 1857.4 243.4 1975.8 1234.0 2031.8 796.4 1326.8 857.6 1333.4 764.7 2372.4 1200.2 1575.4 723.0 1316.2 1027.1 1404.8 252.9 1754.7 310.3 2093.5 1280.9 1775.6 830.3 2354.2 713.8 2370.6 633.9 2344.4 988.1 1387.2 272.1 1623.8 481.0 1400.2 576.8 2339.1 796.0 1330.7 272.3 2015.2 733.3 2356.9 1123.6 1471.0 764.4 1321.5 241.0 1725.5 905.0 2358.1 1182.7 2171.3 333.9 2154.4 584.1 1359.3 1279.4 1793.3 615.8 1344.7 243.3 1806.8 1294.9 1943.6 237.1 1894.7 693.0 1332.5 1052.6 2271.6 150.2 1879.8 224.6 1689.6 330.9 1560.7 244.7 1589.3 1334.5 1886.3 532.5 2307.8 404.8 2222.9 897.2 1348.2 933.1 2332.8 273.5 2059.2 1253.2 2016.8 1039.3 2282.9 1006.7 1392.8 1282.2 1840.6 1247.1 1683.4 574.5 2326.1 1276.6 1736.4 499.7 2297.7 1078.0 2255.3 384.0 1475.2 613.5 2356.3 214.9 1805.8 1139.5 2195.5 445.4 2260.1 885.6 1300.8 549.7 2317.3 284.9 1637.5 1226.2 1644.9 1255.5 1992.6 1053.1 1417.5 1003.0 1394.1 1269.6 1852.1 1299.7 1926.2 637.8 1334.0 1272.7 1690.1 244.0 1947.3 1123.1 1470.8 1275.3 1954.1 734.8 1321.3 971.6 2328.9 1267.1 1974.5 984.5 1386.9 283.3 1621.5 1269.6 1718.3 1019.6 1375.7 518.0 2305.9 254.8 1957.5 1009.3 2296.5 238.8 2000.3 1254.6 1969.2 902.2 1351.9 334.6 2132.9 402.9 1468.6 1270.2 1929.5 1197.6 2116.2 1283.2 1922.2 820.4 1326.3 297.2 1587.0 1189.2 2117.5 435.8 1434.5 1222.0 2069.9 1143.3 1496.3 478.3 2277.2 557.1 2331.0 1267.5 1861.5 245.9 1780.1 302.3 2130.6 801.2 1329.5 229.9 1784.3 1145.2 2204.5 554.3 1369.3 1142.0 1505.5 213.3 1856.6 244.8 1658.0 1078.3 2244.1 705.7 2360.2 764.1 1307.0 214.3 1856.4 539.2 2309.9 482.3 2278.4 295.8 1605.5 1269.2 1879.2 1136.9 1500.5 1273.3 1882.2 189.3 1765.6 1263.1 1779.3 320.1 2142.8 431.8 2285.6 348.4 1519.4 731.0 2367.4 1281.1 1954.1 1208.8 1578.8 323.9 2150.9 1261.7 1715.6 1159.4 1513.1 1284.5 1969.7 798.5 2365.6 583.3 1361.3 138.3 1898.5 1283.6 1885.1 230.0 1870.3 1179.6 2149.0 1041.2 2278.8 1033.3 2313.9 1244.3 1642.4 819.9 1332.9 1273.0 1748.3 470.5 2280.5 790.9 1328.7 245.6 1737.2 199.4 1792.0 389.2 1484.5 1240.4 1655.6 1290.5 1971.9 1259.6 2011.1 474.1 2283.3 375.3 1495.5 399.4 2216.1 1232.9 1593.6 227.2 1963.5 350.6 2165.7 245.7 1793.5 1215.7 2100.6 1234.2 1596.3 1251.8 1998.1 265.5 1685.9 1236.1 2083.7 925.4 2337.2 281.2 1641.1 299.6 2087.2 209.1 1816.6 896.3 1351.4 1193.8 1552.5 230.1 1956.2 405.7 1468.6 1105.6 1465.2 1250.0 2033.6 792.0 2365.6 980.8 1349.6 1217.0 1589.5 319.0 2129.3 283.2 1639.6 275.3 2032.4 1007.4 2295.5 1087.6 1446.8 1204.2 2135.5 244.4 1900.0 899.0 2347.3 952.3 1366.8 1271.0 1876.8 1276.6 1947.3 232.7 1879.4 1078.7 1443.8 150.7 1879.1 1193.5 1549.0 1161.3 1510.5 1311.7 1861.3 292.7 1595.9 269.4 2051.2 295.6 2081.7 244.5 2087.1 1252.4 1662.9 1273.3 1947.9 252.8 2033.5 1283.6 1859.8 1202.4 1553.0 348.5 1533.9 1274.3 1961.4 1101.0 1462.1 1057.8 1413.6 214.6 1834.1 1244.4 1681.2 357.4 2194.0 1327.4 1909.1 1257.9 1688.5 343.4 2166.4 966.8 1374.5 315.6 1582.2 1208.0 1552.1 868.3 1327.5 389.4 2216.3 656.6 1334.2 761.4 1320.1 1292.4 1781.3 1286.9 1783.8 773.9 1263.4 1239.5 1578.6 282.3 1621.1 734.9 2366.6 263.2 2002.5 366.6 2204.6 1281.5 1749.0 910.3 2340.3 356.6 1519.7 1110.8 1451.9 895.2 2344.5 404.0 2249.0 1271.1 1892.9 1265.1 1968.4 218.4 1942.5 245.4 1938.9 560.5 2325.7 320.2 2116.2 231.2 1911.0 1175.8 2159.6 527.7 2304.8 927.3 2329.6 1165.5 1498.3 211.9 1850.4 837.2 2369.8 1266.9 1825.3 1252.3 1671.9 351.9 2184.7 829.9 1336.3 1219.4 2061.9 271.9 1622.6 315.6 1572.0 1048.7 2269.3 904.6 1334.3 361.0 2177.1 1308.3 2041.8 345.5 2173.8 731.6 2366.5 1323.7 1951.9 621.5 1340.5 976.4 1380.1 1020.3 2284.2 313.7 1586.1 1109.0 2240.5 615.6 1351.9 787.0 1317.4 250.5 1976.9 1034.6 1389.9 1098.8 1451.7 1134.0 2206.5 662.9 2360.3 1238.7 1638.0 1172.7 1513.2 1264.8 1760.7 264.8 2108.8 523.6 2311.3 923.9 1345.3 825.9 1315.2 380.2 2218.9 764.4 1331.8 236.0 1910.9 431.9 2246.2 392.9 1480.1 375.4 2218.7 1274.8 1944.0 1047.5 2296.8 1151.0 1480.2 759.1 2379.6 871.9 1342.8 898.4 1347.3 248.4 1942.5 1183.5 1554.4 759.2 1315.1 1289.8 1868.1 254.9 1955.4 1161.5 1488.8 973.5 1378.4 236.0 1990.0 1171.2 2166.1 1274.9 1721.1 1258.8 1944.1 357.9 2199.1 1278.0 1948.6 1182.2 2144.8 1216.5 2073.7 986.4 2307.4 210.7 1751.0 1269.9 1885.1 250.2 1956.2 667.2 1331.5 212.1 1823.4 332.6 1551.2 833.1 2352.8 673.6 2383.2 1272.0 1835.4 1294.8 1863.4 908.7 1357.1 411.5 1465.2 524.5 1388.2 916.5 1352.4 330.9 1557.5 459.3 2286.7 1221.9 1622.8 342.7 2170.1 497.2 2302.6 1022.6 2288.1 346.0 1535.0 245.9 1806.7 1055.2 2266.5 728.5 1325.8 225.0 1986.8 806.9 1329.9 1281.8 1938.6 498.0 2289.1 332.0 1538.6 1074.2 1402.7 436.8 1434.5 1288.3 1898.4 1038.3 1409.4 645.3 1333.6 354.1 2173.5 307.0 2116.3 967.9 1372.1 277.6 1655.6 300.3 2080.7 241.4 1947.7 936.5 2335.5 248.6 1781.5 617.6 2358.1 818.2 1333.3 341.1 2150.0 1272.9 1722.9 1119.0 1474.0 1159.1 1511.1 578.9 1365.4 988.7 1369.4 1286.0 1695.7 579.4 1357.7 1166.5 2167.8 277.9 1651.2 799.0 1329.7 1041.9 2285.8 211.2 1836.0 982.7 1365.6 229.1 1738.1 983.2 2316.0 272.6 1622.8 1252.0 1719.7 1150.3 2198.9 266.0 1988.4 309.5 1598.0 720.7 1331.3 319.3 2132.7 639.0 2356.6 1083.8 1424.6 1197.2 1555.1 240.2 1801.6 957.6 1351.4 274.8 2048.9 372.1 2192.1 1204.4 1559.3 1276.7 1807.1 1214.1 2098.3 1262.9 1756.3 1265.9 1942.2 510.0 2316.4 839.6 1333.9 681.3 1337.8 1272.1 1749.3 1237.4 1655.0 885.0 1349.1 864.5 2352.2 862.9 1340.1 280.2 2059.2 832.9 2358.9 611.3 2348.8 284.4 2065.0 1079.9 1443.8 200.9 1953.5 1180.6 1508.5 1221.5 2115.4 1139.7 2191.9 1224.2 2065.5 1250.9 2003.2 212.1 1866.4 1249.8 2029.4 1111.8 2237.1 292.9 2116.6 1102.4 2224.4" fill="none" stroke="none" marker-start="url(#pm)" marker-mid="url(#pm)" marker-end="url(#pm)"/>
<path d="M311.6 2104.4 227.1 1893.0 1238.0 1570.7 1284.6 1936.5 1245.5 1649.6 1214.9 1597.0 1116.0 2227.7 1115.8 2227.3 1076.8 2259.1 233.3 1633.1 768.8 2375.5 1281.5 1873.3 365.4 1497.7 1271.5 1799.8 1195.9 2120.0 981.4 1383.2 673.7 1329.3 747.6 2374.6 1035.2 2279.6 918.8 2347.5 342.6 1527.7 1234.7 2126.8 1145.0 2198.4 945.0 1361.5 905.3 2351.9 360.1 2184.3 1112.3 1458.7 1233.9 1589.9 243.5 1957.9 574.9 2337.6 188.1 1845.1 1011.2 2313.4 325.0 1558.9 1183.9 2148.7 434.9 2246.8 784.1 1316.0 462.8 1415.0 639.6 1345.0 1293.9 1954.9 1267.2 1702.2 1245.2 1688.2 716.0 2370.8 720.2 2377.6 230.6 1963.9 753.5 2379.5 1160.6 2184.0 212.0 1935.2 904.5 2351.5 448.1 1425.7 766.8 1263.6 269.8 1684.4 265.8 1683.8 529.0 1374.4 196.8 1860.4 1195.5 2123.6 1162.7 2161.7 247.1 1802.8 1264.7 1906.2 1048.0 2288.7 1082.2 2254.8 269.7 2002.7 540.5 2321.3 1035.5 2294.1 319.2 1576.3 486.7 2320.5 499.4 1403.6 994.9 2302.9 1070.2 2260.8 387.4 2241.3 1005.0 1397.5 1049.2 2278.5 692.9 2378.9 1311.4 1993.5 233.0 1774.6 284.1 2064.3 596.5 2343.1 577.5 1365.3 1259.6 1761.3 718.0 1313.0 375.6 1495.9 964.2 1375.4 525.3 1385.4 343.9 1531.2 1274.6 1742.0 801.2 1325.2 1282.5 1970.8 244.8 2010.4 979.9 1361.2 930.7 1357.0 261.1 1987.4 302.7 2115.0 248.5 1687.4 1162.1 2157.5 246.8 1935.9 1261.2 2041.5 1125.1 2226.7 711.1 2357.4 1267.7 1797.9 769.1 1283.2 244.9 1846.7 423.2 2241.8 1086.4 2248.6 691.5 2367.6 248.7 1694.5 244.5 1711.0 274.0 2026.6 691.9 2380.3 1195.4 2143.7 244.7 1707.0 547.5 2320.7 513.4 1342.5 819.6 2371.2 1212.0 2098.8 421.4 2277.3 1281.7 1964.6 1078.1 1445.5 234.3 1886.3 285.4 2061.9 1284.4 1755.1 1024.5 2298.7 353.6 2171.0 238.1 1991.7 1027.4 2316.3 1279.8 1937.9 1232.6 2041.9 1270.8 1920.1 1251.6 1992.8 187.4 1856.2 676.1 1338.8 1267.8 1772.8 1070.6 2251.5 1278.5 1794.1 425.4 2243.2 1288.4 1752.8 286.5 2066.8 267.7 1996.2 928.0 1359.6 394.9 1478.6 1044.9 1416.2 809.3 2424.6 239.3 1865.7 879.2 1329.8 216.8 1828.0 215.2 1956.8 857.7 1294.6 248.4 1749.8 909.9 1354.1 985.9 2304.8 505.2 1387.5 1031.6 2287.4 1294.5 1903.5 1267.2 1953.7 297.9 2122.5 1271.3 1921.6 224.3 1966.9 264.4 2013.8 290.1 2097.6 1280.0 1794.2 712.1 2369.5 231.4 1858.3 221.8 1970.8 242.3 1794.7 1064.3 1420.3 248.4 1661.1 954.4 1369.3 1011.7 1394.7 527.1 1381.8 1259.7 2042.8 562.6 2331.8 1145.1 1497.2 246.2 1923.2 266.9 1680.4 412.0 2238.2 532.5 2313.0 986.7 2329.0 306.3 2095.5 833.4 1336.2 774.1 1283.9 1266.1 1825.6 1237.3 2025.9 913.7 2344.9 1198.4 1542.4 1281.2 1874.6 550.2 1361.1 1254.3 2003.5 607.6 1351.0 984.7 2315.4 270.7 1675.4 534.9 2307.7 229.0 1968.2 427.3 2266.4 298.4 2083.6 700.2 1327.3 370.8 1500.1 792.1 1332.6 1298.3 1920.2 245.4 1899.3 1133.0 1479.3 221.0 1956.7 1145.2 2190.1 642.2 2345.8 1289.6 1886.3 1168.2 2170.6 1284.3 1789.4 1117.4 2229.3 1018.3 2304.0 1303.4 1926.3 885.9 1349.3 271.3 2017.2 1000.6 2319.8 881.9 1340.6 283.7 2052.7 530.3 1368.0 1290.7 1849.0 347.4 1525.8 1251.9 1989.6 282.0 1638.3 818.1 1332.4 1282.3 1881.1 718.6 2359.4 891.5 2353.3 1284.2 1966.6 1258.4 1668.1 1234.2 1635.7 277.5 2083.5 1273.1 1969.8 1241.7 1616.2 1204.5 1594.3 247.8 1949.4 1148.2 2189.2 240.2 1906.4 240.1 1773.5 995.5 2303.4 395.8 1477.9 1248.2 1698.1 309.5 1562.8 254.6 2012.1 441.3 2277.8 1106.0 1463.8 1282.1 1997.1 347.6 1534.2 1028.9 1412.4 964.3 2333.8 253.5 1944.2 743.2 1323.9 1303.5 1888.4 1297.6 2041.9 1128.1 1489.4 386.0 1490.3 951.9 2322.7 612.8 1347.4 1298.1 2052.8 381.9 1481.3 1111.4 2242.2 548.3 2326.3 1292.7 1892.5 523.9 1384.1 1280.2 1731.1 1230.5 2097.7 553.0 1371.9 1084.1 1443.9 1279.7 1817.6 295.2 2092.4 1083.1 1407.2 214.9 1780.6 232.1 1990.0 193.0 1851.1 1220.8 1569.9 1232.8 2044.7 892.8 1344.0 242.2 1785.8 1282.4 1874.4 1193.8 1558.2 1027.0 1410.5 239.8 1690.1 823.7 1333.1 254.5 1954.0 798.4 1333.5 336.6 1528.0 244.9 1725.1 551.4 2318.1 1299.6 1904.7 317.7 2154.7 984.8 2333.3 191.1 1815.3 267.8 2020.4 445.2 2276.9 1309.6 1850.7 489.5 2284.4 509.5 2303.3 848.3 1338.4 256.6 1982.8 271.2 1680.9 378.4 2195.1 863.1 1305.3 634.6 2345.3 187.6 1825.1 712.4 1323.8 1206.3 2108.4 1295.8 2044.4 1206.5 1591.2 392.2 2220.1 444.3 2275.7 209.1 1804.0 771.4 2376.9 619.7 1352.7 232.0 1684.2 278.9 2037.0 243.5 1735.6 230.4 1919.3 349.4 2167.6 929.2 1360.1 325.3 1570.4 608.9 1351.7 1287.0 1753.5 1267.3 1730.4 360.5 2176.2 1213.9 2075.9 1120.3 2232.0 1053.0 2262.8 187.0 1729.9 1074.8 2269.0 1288.8 1830.9 1247.9 1703.3 740.0 1328.4 857.9 1338.5 736.3 2365.0 1024.0 1387.7 279.2 1618.7 667.9 1331.4 866.6 1334.4 1197.6 1556.1 499.2 1394.8 821.2 1335.2 696.3 1322.6 1218.1 1566.0 983.3 1383.7 1270.1 1777.3 229.3 1909.3 1280.2 2010.8 1235.7 1646.8 234.8 1879.8 1269.6 1890.5 310.6 2106.5 1252.6 1975.3 290.9 1614.3 760.0 1320.4 1319.7 2020.5 213.0 1811.1 822.5 2358.9 1173.3 2142.4 514.5 2296.7 627.1 2354.2 250.4 1710.6 1047.0 1412.1 966.7 2315.3 464.9 2268.1 398.0 2236.5 357.3 1517.2 1234.5 2039.1 501.1 2296.8 1134.6 2211.2 1292.6 1814.1 437.5 1437.2 1286.1 1693.3 574.6 1366.4 1236.8 1621.7 1274.3 1861.6 1252.2 2055.5 1127.1 2281.0 231.1 1923.4 222.0 1821.8 1205.6 2136.7 310.9 2138.9 1240.2 2055.2 1271.1 1813.0 248.3 2030.2 862.5 1312.8 904.1 1350.8 963.3 1375.3 236.9 1892.5 1274.9 1921.8 1240.9 2065.4 1057.2 2274.1 468.0 1423.4 217.0 1815.0 814.6 1332.3 1210.1 1606.4 245.0 1734.4 1280.3 2012.3 293.4 2088.1 238.6 1993.1 305.1 2097.9 230.1 1907.5 278.4 2166.4 1242.8 2041.0 576.7 1364.3 381.0 2212.2 987.7 1347.3 336.9 1529.9 165.9 1719.7 1180.8 1538.8 1090.5 2243.1 810.3 1333.7 1279.7 1915.0 1319.5 1958.3 886.3 1344.2 722.9 1322.3 330.8 1488.5 1029.9 2279.4 868.8 1333.2 1254.9 2053.7 1173.2 1511.6 229.0 1684.1 220.7 1695.7 1277.8 1925.1 1250.7 1977.6 1277.8 2024.5 221.3 1879.1 239.9 1711.9 1327.9 1914.1 1245.4 1685.2 622.7 2339.9 506.9 2316.7 961.1 2343.1 1009.8 2321.5 294.1 1586.8 285.9 1644.0 1168.0 1515.0 896.1 1347.4 1281.1 1829.6 1267.1 1936.4 227.2 1927.9 481.5 1402.2 942.5 1361.4 240.7 1948.1 557.0 1369.8 333.3 1555.3 236.0 1679.6 1263.4 1740.8 1289.9 1768.5 999.7 2305.1 352.8 2176.1 458.9 1415.2 1272.9 1957.9 1039.3 2289.0 361.4 2186.0 970.7 1379.9 1196.4 2122.9 1271.9 1731.5 1248.0 2067.3 248.6 1930.7 247.8 1911.5 1289.7 1827.8 283.9 2076.0 1290.3 1970.5 1005.9 1390.5 1250.1 2022.1 1290.4 1893.4 295.2 2095.6 270.3 2009.9 1019.5 1400.6 1218.6 1590.3 806.0 1332.6 1265.1 1765.8 356.5 2187.5 293.7 2097.8 1186.2 2172.9 1257.2 1966.4 188.5 1835.1 1283.3 2026.6 194.2 1850.9 1114.0 1454.8 265.1 1640.9 796.2 2357.2 269.2 1675.8 1199.1 1591.5 688.0 1332.4 1247.7 1982.6 542.1 2315.5 1100.3 1447.2 285.2 2074.7 140.7 1892.8 446.5 2297.0 247.6 2007.6 388.4 2214.0 413.7 1447.7 1240.1 1637.5 1149.1 2175.4 198.7 1793.6 1199.4 1551.8 244.8 1792.6 1253.1 1686.6 723.4 2386.6 1264.4 2030.9 1246.5 2083.2 1263.9 1702.9 1294.5 1868.3 225.1 1939.1 229.1 1923.2 1091.8 1457.9 921.7 1350.2 289.0 2070.0 1235.6 1670.1 447.7 2279.4 1295.6 1834.5 806.3 1330.9 1170.7 1515.0 348.1 1511.8 930.8 2347.3 525.7 2312.7 1071.1 1438.5 693.7 1325.4 258.5 1697.4 236.2 1906.4 350.2 2172.8 860.3 1293.0 1043.6 2296.6 244.7 2091.6 1280.9 1694.8 770.5 1314.3 1176.1 2146.3 256.4 2003.4 1233.3 1651.8 1279.8 1708.8 1296.5 1811.3 1265.0 1899.9 224.7 2039.9 1231.5 2071.9 1276.6 1717.3 705.0 1333.7 599.6 2344.3 997.8 1392.6 1193.1 2111.2 281.6 1614.2 1268.7 1924.6 1243.7 1636.4 1172.1 1511.7 1216.5 1611.0 999.8 1383.0 444.3 1388.1 1270.4 1849.1 1258.4 2058.2 1274.5 1867.6 1284.4 1692.7 226.0 1966.2 988.2 1388.5 432.3 2261.9 1247.3 1988.8 1078.3 2261.5 430.8 1446.5 252.9 1693.2 319.9 2150.8 1219.6 1579.9 293.9 2066.6 738.5 1326.9 874.7 1336.1 209.6 1821.6 212.7 1846.5 1252.4 2000.1 1255.5 1712.2 191.8 1850.0 1216.9 2075.4 1227.6 1636.8 347.0 2157.7 247.3 1696.2 1280.6 1873.0 705.2 1329.6 488.4 2280.9 648.6 2354.0 246.6 1898.7 224.7 2041.6 369.9 2304.7 271.3 1673.0 1297.3 1914.3 190.1 1855.8 882.7 2342.5 1314.7 2027.2 244.0 1816.6 1099.2 1447.5 625.8 1347.4 209.4 1853.4 1298.3 2023.1 1276.9 1791.9 830.0 1336.2 220.7 1962.5 531.0 2314.0 390.3 2220.1 1148.6 1509.8 1285.3 1962.7 286.8 1617.4 226.4 1952.5 1237.6 1612.1 1264.8 1692.5 761.1 1330.5 947.0 1365.1 886.6 2352.8 203.7 1803.3 368.0 1510.6 1007.1 1390.7 1061.7 2278.0 419.9 2241.5 1272.7 1940.0 417.9 2263.4 152.0 1885.0 1237.9 2061.1 830.8 1338.9 1228.6 1636.0 276.1 2090.3 402.3 1459.4 507.9 1394.3 206.4 1805.2 1254.9 1685.0 921.6 1348.7 1262.1 1726.3 941.3 1363.7 1213.5 2092.3 554.5 2321.8 1155.1 1494.7 1291.3 1855.7 374.2 2200.9 217.9 1833.8 1254.0 1698.4 332.0 2131.9 308.0 2098.2 1071.1 1426.9 894.6 2356.9 571.1 2329.1 313.4 1569.6 1241.2 2071.7 274.7 1619.8 690.4 1325.7 219.3 1884.8 940.3 2330.1 225.6 1876.6 737.7 2374.8 392.3 1483.4 824.0 1334.2 1033.9 1377.3 1285.9 1965.1 1248.5 2103.1 212.8 1935.5 1235.5 2046.3 353.3 2172.5 1291.2 1930.3 228.8 1981.4 1305.0 1854.5 248.2 1900.9 373.1 1490.7 866.7 1317.8 1166.2 1529.0 856.2 2354.4 1284.3 1728.1 356.4 1521.9 187.5 1723.6 1030.0 2288.1 322.4 1558.8 1272.0 1886.3 991.5 2304.2 1046.2 2286.8 1278.2 1798.4 332.3 2131.4 740.9 1317.2 689.7 1330.4 1184.2 1530.8 231.4 1924.0 1268.8 1832.6 309.2 2091.5 1213.5 1588.3 281.8 2076.2 849.9 2360.1" fill="none" stroke="none" marker-start="url(#pm)" marker-mid="url(#pm)" marker-end="url(#pm)"/>
<g stroke="#000" stroke-width="0.6">
<circle cx="102.9" cy="1784.5" r="2" fill="#dd1c1c"/>
<circle cx="103.6" cy="1761.8" r="2" fill="#dd1c1c"/>
<circle cx="102.8" cy="1760.3" r="2" fill="#dd1c1c"/>
<circle cx="106.9" cy="1747.7" r="2" fill="#dd1c1c"/>
<circle cx="101.3" cy="1783.1" r="2" fill="#dd1c1c"/>
<circle cx="98.7" cy="1769.6" r="2" fill="#dd1c1c"/>
<circle cx="109.4" cy="1748.1" r="2" fill="#dd1c1c"/>
<circle cx="99.5" cy="1789.7" r="2" fill="#dd1c1c"/>
<circle cx="101.7" cy="1759.6" r="2" fill="#dd1c1c"/>
<circle cx="106.1" cy="1753.6" r="2" fill="#dd1c1c"/>
<circle cx="100.7" cy="1757.2" r="2" fill="#dd1c1c"/>
<circle cx="102.1" cy="1762.4" r="2" fill="#dd1c1c"/>
<circle cx="99.5" cy="1780.3" r="2" fill="#dd1c1c"/>
<circle cx="103.6" cy="1770.0" r="2" fill="#dd1c1c"/>
<circle cx="102.1" cy="1754.4" r="2" fill="#dd1c1c"/>
<circle cx="110.4" cy="1743.0" r="2" fill="#dd1c1c"/>
<circle cx="103.7" cy="1774.9" r="2" fill="#dd1c1c"/>
<circle cx="110.4" cy="1742.1" r="2" fill="#dd1c1c"/>
<circle cx="107.2" cy="1745.1" r="2" fill="#dd1c1c"/>
<circle cx="100.4" cy="1785.6" r="2" fill="#dd1c1c"/>
<circle cx="111.0" cy="1740.3" r="2" fill="#dd1c1c"/>
<circle cx="101.9" cy="1780.5" r="2" fill="#dd1c1c"/>
<circle cx="105.1" cy="1768.0" r="2" fill="#dd1c1c"/>
<circle cx="102.2" cy="1762.8" r="2" fill="#dd1c1c"/>
<circle cx="101.1" cy="1762.7" r="2" fill="#dd1c1c"/>
<circle cx="110.0" cy="1742.4" r="2" fill="#dd1c1c"/>
<circle cx="104.9" cy="1746.2" r="2" fill="#dd1c1c"/>
<circle cx="100.1" cy="1789.0" r="2" fill="#dd1c1c"/>
<circle cx="104.0" cy="1745.8" r="2" fill="#dd1c1c"/>
<circle cx="104.1" cy="1764.1" r="2" fill="#dd1c1c"/>
<circle cx="103.2" cy="1754.9" r="2" fill="#dd1c1c"/>
<circle cx="100.2" cy="1763.3" r="2" fill="#dd1c1c"/>
<circle cx="99.4" cy="1781.3" r="2" fill="#dd1c1c"/>
<circle cx="107.5" cy="1738.2" r="2" fill="#dd1c1c"/>
<circle cx="99.2" cy="1793.5" r="2" fill="#dd1c1c"/>
<circle cx="101.5" cy="1789.8" r="2" fill="#dd1c1c"/>
<circle cx="102.2" cy="1781.0" r="2" fill="#dd1c1c"/>
<circle cx="103.5" cy="1796.6" r="2" fill="#dd1c1c"/>
<circle cx="100.5" cy="1760.8" r="2" fill="#dd1c1c"/>
<circle cx="102.7" cy="1778.7" r="2" fill="#dd1c1c"/>
<circle cx="106.0" cy="1744.8" r="2" fill="#dd1c1c"/>
<circle cx="109.0" cy="1737.9" r="2" fill="#dd1c1c"/>
<circle cx="96.2" cy="1846.5" r="2" fill="#dd1c1c"/>
<circle cx="96.3" cy="1863.8" r="2" fill="#dd1c1c"/>
<circle cx="99.2" cy="1853.4" r="2" fill="#dd1c1c"/>
<circle cx="95.1" cy="1856.0" r="2" fill="#dd1c1c"/>
<circle cx="96.2" cy="1863.1" r="2" fill="#dd1c1c"/>
<circle cx="100.4" cy="1806.3" r="2" fill="#dd1c1c"/>
<circle cx="99.5" cy="1810.1" r="2" fill="#dd1c1c"/>
<circle cx="98.9" cy="1833.4" r="2" fill="#dd1c1c"/>
<circle cx="101.0" cy="1825.8" r="2" fill="#dd1c1c"/>
<circle cx="100.7" cy="1827.3" r="2" fill="#dd1c1c"/>
<circle cx="100.8" cy="1807.4" r="2" fill="#dd1c1c"/>
<circle cx="97.8" cy="1821.0" r="2" fill="#dd1c1c"/>
<circle cx="99.1" cy="1850.9" r="2" fill="#dd1c1c"/>
<circle cx="95.2" cy="1833.3" r="2" fill="#dd1c1c"/>
<circle cx="98.1" cy="1831.7" r="2" fill="#dd1c1c"/>
<circle cx="99.7" cy="1829.7" r="2" fill="#dd1c1c"/>
<circle cx="99.9" cy="1864.4" r="2" fill="#dd1c1c"/>
<circle cx="99.0" cy="1861.9" r="2" fill="#dd1c1c"/>
<circle cx="102.1" cy="1826.9" r="2" fill="#dd1c1c"/>
<circle cx="98.7" cy="1843.8" r="2" fill="#dd1c1c"/>
<circle cx="97.9" cy="1821.8" r="2" fill="#dd1c1c"/>
<circle cx="97.6" cy="1861.9" r="2" fill="#dd1c1c"/>
<circle cx="96.8" cy="1823.7" r="2" fill="#dd1c1c"/>
<circle cx="100.9" cy="1837.4" r="2" fill="#dd1c1c"/>
<circle cx="100.5" cy="1829.0" r="2" fill="#dd1c1c"/>
<circle cx="96.9" cy="1846.3" r="2" fill="#dd1c1c"/>
<circle cx="101.0" cy="1842.8" r="2" fill="#dd1c1c"/>
<circle cx="100.7" cy="1842.3" r="2" fill="#dd1c1c"/>
<circle cx="94.7" cy="1817.6" r="2" fill="#dd1c1c"/>
<circle cx="97.1" cy="1820.0" r="2" fill="#dd1c1c"/>
<circle cx="98.0" cy="1846.4" r="2" fill="#dd1c1c"/>
<circle cx="93.8" cy="1850.9" r="2" fill="#dd1c1c"/>
<circle cx="99.6" cy="1854.0" r="2" fill="#dd1c1c"/>
<circle cx="95.5" cy="1859.4" r="2" fill="#dd1c1c"/>
<circle cx="100.7" cy="1845.7" r="2" fill="#dd1c1c"/>
<circle cx="97.1" cy="1838.5" r="2" fill="#dd1c1c"/>
<circle cx="96.5" cy="1812.5" r="2" fill="#dd1c1c"/>
<circle cx="97.2" cy="1825.3" r="2" fill="#dd1c1c"/>
<circle cx="99.1" cy="1810.8" r="2" fill="#dd1c1c"/>
<circle cx="96.2" cy="1858.2" r="2" fill="#dd1c1c"/>
<circle cx="99.1" cy="1832.8" r="2" fill="#dd1c1c"/>
<circle cx="93.9" cy="1813.4" r="2" fill="#dd1c1c"/>
<circle cx="97.4" cy="1854.3" r="2" fill="#dd1c1c"/>
<circle cx="95.3" cy="1825.8" r="2" fill="#dd1c1c"/>
<circle cx="97.8" cy="1815.6" r="2" fill="#dd1c1c"/>
<circle cx="97.4" cy="1847.6" r="2" fill="#dd1c1c"/>
<circle cx="97.4" cy="1816.4" r="2" fill="#dd1c1c"/>
<circle cx="98.4" cy="1839.8" r="2" fill="#dd1c1c"/>
<circle cx="104.1" cy="1839.7" r="2" fill="#dd1c1c"/>
<circle cx="94.2" cy="1856.1" r="2" fill="#dd1c1c"/>
<circle cx="94.2" cy="1865.5" r="2" fill="#dd1c1c"/>
<circle cx="101.1" cy="1804.6" r="2" fill="#dd1c1c"/>
<circle cx="96.0" cy="1838.7" r="2" fill="#dd1c1c"/>
<circle cx="98.6" cy="1851.9" r="2" fill="#dd1c1c"/>
<circle cx="95.9" cy="1819.3" r="2" fill="#dd1c1c"/>
<circle cx="103.0" cy="1833.6" r="2" fill="#dd1c1c"/>
<circle cx="99.0" cy="1847.7" r="2" fill="#dd1c1c"/>
<circle cx="95.9" cy="1861.5" r="2" fill="#dd1c1c"/>
<circle cx="100.6" cy="1829.2" r="2" fill="#dd1c1c"/>
<circle cx="93.8" cy="1863.0" r="2" fill="#dd1c1c"/>
<circle cx="99.6" cy="1809.7" r="2" fill="#dd1c1c"/>
<circle cx="102.2" cy="1810.2" r="2" fill="#dd1c1c"/>
<circle cx="98.2" cy="1865.8" r="2" fill="#dd1c1c"/>
<circle cx="96.8" cy="1867.8" r="2" fill="#dd1c1c"/>
<circle cx="92.7" cy="1875.3" r="2" fill="#dd1c1c"/>
<circle cx="92.3" cy="1870.8" r="2" fill="#dd1c1c"/>
<circle cx="91.6" cy="1872.2" r="2" fill="#dd1c1c"/>
<circle cx="94.2" cy="1873.0" r="2" fill="#dd1c1c"/>
<circle cx="91.2" cy="1874.3" r="2" fill="#dd1c1c"/>
<circle cx="98.5" cy="1867.3" r="2" fill="#dd1c1c"/>
<circle cx="92.7" cy="1873.0" r="2" fill="#dd1c1c"/>
<circle cx="95.1" cy="1867.0" r="2" fill="#dd1c1c"/>
<circle cx="90.8" cy="1875.4" r="2" fill="#dd1c1c"/>
<circle cx="101.1" cy="1866.9" r="2" fill="#dd1c1c"/>
<circle cx="94.8" cy="1866.9" r="2" fill="#dd1c1c"/>
<circle cx="97.5" cy="1866.3" r="2" fill="#dd1c1c"/>
<circle cx="91.1" cy="1876.9" r="2" fill="#dd1c1c"/>
<circle cx="93.4" cy="1870.7" r="2" fill="#dd1c1c"/>
<circle cx="97.0" cy="1871.9" r="2" fill="#dd1c1c"/>
<circle cx="90.0" cy="1877.6" r="2" fill="#dd1c1c"/>
<circle cx="90.3" cy="1876.9" r="2" fill="#dd1c1c"/>
<circle cx="90.4" cy="1876.7" r="2" fill="#dd1c1c"/>
<circle cx="98.1" cy="1864.9" r="2" fill="#dd1c1c"/>
<circle cx="95.2" cy="1871.0" r="2" fill="#dd1c1c"/>
<circle cx="101.2" cy="1737.7" r="2" fill="#dd1c1c"/>
<circle cx="106.3" cy="1737.4" r="2" fill="#dd1c1c"/>
<circle cx="113.4" cy="1811.3" r="2" fill="#dd1c1c"/>
<circle cx="112.1" cy="1872.0" r="2" fill="#dd1c1c"/>
<circle cx="115.2" cy="1874.1" r="2" fill="#dd1c1c"/>
<circle cx="109.9" cy="1867.6" r="2" fill="#dd1c1c"/>
<circle cx="105.7" cy="1828.0" r="2" fill="#dd1c1c"/>
<circle cx="107.1" cy="1816.6" r="2" fill="#dd1c1c"/>
<circle cx="1355.2" cy="2060.5" r="2" fill="#dd1c1c"/>
<circle cx="1356.4" cy="2062.2" r="2" fill="#dd1c1c"/>
<circle cx="1352.7" cy="2062.0" r="2" fill="#dd1c1c"/>
<circle cx="1352.7" cy="2059.1" r="2" fill="#dd1c1c"/>
<circle cx="1367.4" cy="2073.4" r="2" fill="#dd1c1c"/>
<circle cx="1366.1" cy="2073.5" r="2" fill="#dd1c1c"/>
<circle cx="1368.3" cy="2073.2" r="2" fill="#dd1c1c"/>
<circle cx="1336.0" cy="2060.5" r="2" fill="#fd8d3c" stroke="#a55"/>
</g>
</svg></body></html>
